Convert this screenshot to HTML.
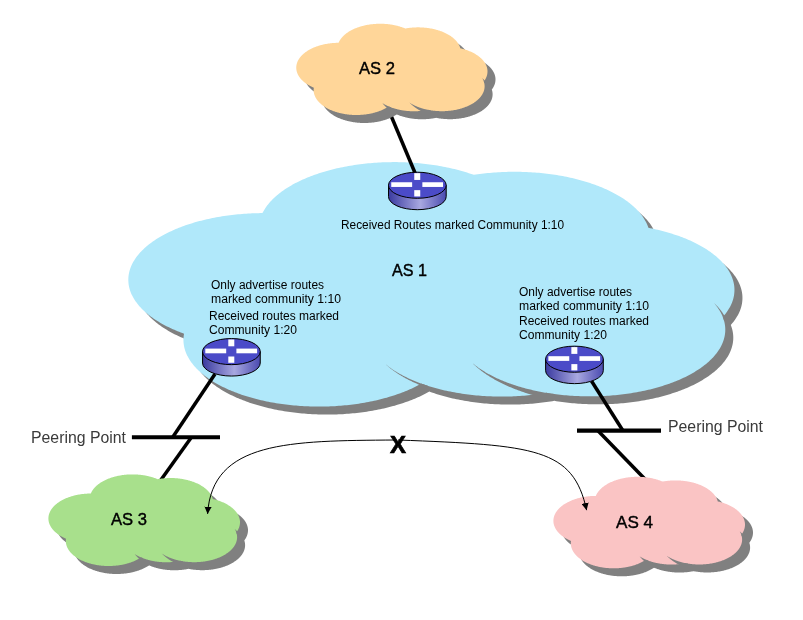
<!DOCTYPE html>
<html><head><meta charset="utf-8"><style>
html,body{margin:0;padding:0;background:#fff;}
svg{display:block;will-change:transform;}
text{font-family:"Liberation Sans",sans-serif;}
</style></head><body>
<svg width="803" height="620" viewBox="0 0 803 620">
<rect width="803" height="620" fill="#fff"/>
<defs>
<linearGradient id="rg" x1="0" x2="1" y1="0" y2="0">
<stop offset="0" stop-color="#3A3AA0"/><stop offset="0.55" stop-color="#A8A8E0"/><stop offset="1" stop-color="#4A4AB0"/>
</linearGradient>
<marker id="ah" viewBox="0 0 10 10" refX="10" refY="5" markerWidth="7.2" markerHeight="7.2" orient="auto-start-reverse" markerUnits="userSpaceOnUse">
<path d="M0,0 L10,5 L0,10 Z" fill="#000"/></marker>
</defs>
<path d="M262.47,213.10 L262.97,212.12 L263.50,211.14 L264.06,210.16 L264.65,209.19 L265.27,208.22 L265.92,207.26 L266.60,206.30 L267.31,205.35 L268.05,204.40 L268.82,203.46 L269.62,202.53 L270.44,201.60 L271.30,200.68 L272.18,199.76 L273.09,198.85 L274.03,197.95 L275.00,197.05 L275.99,196.16 L277.01,195.28 L278.06,194.41 L279.14,193.55 L280.24,192.69 L281.37,191.84 L282.52,191.00 L283.70,190.17 L284.91,189.35 L286.14,188.53 L287.40,187.73 L288.68,186.94 L289.99,186.15 L291.32,185.38 L292.67,184.61 L294.05,183.86 L295.45,183.11 L296.87,182.38 L298.32,181.66 L299.78,180.95 L301.27,180.24 L302.78,179.55 L304.32,178.88 L305.87,178.21 L307.44,177.55 L309.04,176.91 L310.65,176.28 L312.28,175.66 L313.93,175.06 L315.60,174.46 L317.29,173.88 L319.00,173.31 L320.72,172.75 L322.46,172.21 L324.22,171.68 L325.99,171.16 L327.78,170.66 L329.59,170.17 L331.40,169.69 L333.24,169.23 L335.09,168.78 L336.95,168.35 L338.82,167.93 L340.71,167.52 L342.61,167.13 L344.52,166.75 L346.44,166.38 L348.38,166.03 L350.32,165.70 L352.28,165.38 L354.24,165.07 L356.22,164.78 L358.20,164.50 L360.19,164.24 L362.19,163.99 L364.20,163.76 L366.21,163.54 L368.23,163.34 L370.26,163.16 L372.29,162.98 L374.32,162.83 L376.36,162.69 L378.41,162.56 L380.46,162.45 L382.51,162.36 L384.57,162.28 L386.62,162.21 L388.68,162.16 L390.74,162.13 L392.80,162.11 L394.86,162.11 L396.92,162.12 L398.98,162.15 L401.04,162.20 L403.10,162.25 L405.15,162.33 L407.21,162.42 L409.26,162.52 L411.30,162.64 L413.35,162.78 L415.38,162.93 L417.42,163.10 L419.44,163.28 L421.47,163.48 L423.48,163.69 L425.49,163.92 L427.49,164.16 L429.49,164.41 L431.47,164.69 L433.45,164.97 L435.42,165.27 L437.37,165.59 L439.32,165.92 L441.26,166.27 L443.19,166.63 L445.10,167.00 L447.01,167.39 L448.90,167.79 L450.78,168.21 L452.64,168.64 L454.50,169.08 L456.33,169.54 L458.16,170.01 L459.97,170.50 L461.76,171.00 L463.54,171.51 L465.30,172.04 L467.05,172.57 L468.78,173.13 L470.49,173.69 L472.18,174.27 L473.86,174.86 L473.86,174.86 L475.83,174.56 L477.80,174.28 L479.79,174.01 L481.78,173.76 L483.78,173.52 L485.79,173.30 L487.80,173.09 L489.82,172.90 L491.85,172.72 L493.88,172.56 L495.92,172.41 L497.96,172.28 L500.00,172.16 L502.05,172.06 L504.10,171.97 L506.15,171.90 L508.21,171.85 L510.26,171.81 L512.32,171.78 L514.38,171.77 L516.44,171.78 L518.49,171.80 L520.55,171.84 L522.61,171.89 L524.66,171.95 L526.71,172.04 L528.76,172.14 L530.80,172.25 L532.85,172.38 L534.88,172.52 L536.91,172.68 L538.94,172.85 L540.96,173.04 L542.98,173.25 L544.99,173.47 L546.99,173.70 L548.99,173.95 L550.97,174.22 L552.95,174.50 L554.92,174.79 L556.88,175.10 L558.83,175.42 L560.77,175.76 L562.70,176.11 L564.62,176.48 L566.53,176.86 L568.42,177.25 L570.30,177.66 L572.17,178.09 L574.03,178.52 L575.87,178.97 L577.70,179.44 L579.51,179.92 L581.31,180.41 L583.10,180.91 L584.86,181.43 L586.62,181.96 L588.35,182.51 L590.07,183.06 L591.77,183.64 L593.45,184.22 L595.12,184.81 L596.76,185.42 L598.39,186.04 L600.00,186.67 L601.59,187.32 L603.15,187.97 L604.70,188.64 L606.23,189.32 L607.74,190.01 L609.22,190.71 L610.68,191.42 L612.12,192.15 L613.54,192.88 L614.93,193.63 L616.31,194.38 L617.65,195.15 L618.98,195.92 L620.28,196.71 L621.56,197.50 L622.81,198.30 L624.03,199.12 L625.24,199.94 L626.41,200.77 L627.56,201.61 L628.69,202.46 L629.78,203.31 L630.85,204.18 L631.90,205.05 L632.92,205.93 L633.91,206.82 L634.87,207.72 L635.80,208.62 L636.71,209.53 L637.59,210.44 L638.44,211.36 L639.26,212.29 L640.05,213.23 L640.82,214.17 L641.55,215.11 L642.26,216.06 L642.93,217.02 L643.58,217.98 L644.20,218.95 L644.78,219.92 L645.34,220.89 L645.87,221.87 L646.36,222.86 L646.83,223.84 L647.26,224.83 L647.67,225.82 L648.04,226.82 L648.39,227.82 L648.39,227.82 L650.30,228.20 L652.21,228.59 L654.10,229.00 L655.98,229.42 L657.85,229.85 L659.70,230.30 L661.54,230.76 L663.36,231.24 L665.17,231.73 L666.96,232.23 L668.74,232.75 L670.50,233.28 L672.25,233.82 L673.97,234.38 L675.69,234.94 L677.38,235.53 L679.05,236.12 L680.71,236.73 L682.35,237.35 L683.96,237.98 L685.56,238.62 L687.14,239.28 L688.70,239.94 L690.23,240.62 L691.75,241.31 L693.24,242.01 L694.71,242.73 L696.16,243.45 L697.59,244.18 L698.99,244.93 L700.37,245.68 L701.73,246.45 L703.06,247.23 L704.37,248.01 L705.66,248.81 L706.92,249.61 L708.15,250.43 L709.36,251.25 L710.55,252.08 L711.71,252.92 L712.84,253.77 L713.94,254.63 L715.02,255.50 L716.07,256.37 L717.10,257.25 L718.09,258.14 L719.06,259.04 L720.01,259.94 L720.92,260.85 L721.80,261.77 L722.66,262.70 L723.49,263.63 L724.29,264.56 L725.06,265.51 L725.80,266.45 L726.51,267.41 L727.19,268.37 L727.84,269.33 L728.46,270.30 L729.06,271.27 L729.62,272.25 L730.15,273.23 L730.65,274.22 L731.12,275.21 L731.56,276.20 L731.97,277.20 L732.35,278.19 L732.69,279.20 L733.01,280.20 L733.29,281.21 L733.55,282.21 L733.77,283.22 L733.96,284.24 L734.12,285.25 L734.25,286.26 L734.35,287.28 L734.41,288.29 L734.44,289.31 L734.45,290.32 L734.42,291.34 L734.36,292.36 L734.27,293.37 L734.14,294.39 L733.99,295.40 L733.80,296.41 L733.58,297.42 L733.34,298.43 L733.06,299.44 L732.75,300.44 L732.40,301.44 L732.03,302.44 L731.63,303.44 L731.19,304.43 L730.73,305.42 L730.23,306.41 L729.70,307.39 L729.15,308.37 L728.56,309.34 L727.94,310.31 L727.30,311.27 L726.62,312.23 L725.91,313.19 L725.18,314.14 L724.41,315.08 L723.62,316.02 L722.79,316.95 L722.79,316.95 L723.17,317.94 L723.51,318.94 L723.83,319.94 L724.11,320.94 L724.37,321.94 L724.59,322.94 L724.78,323.95 L724.94,324.95 L725.07,325.96 L725.17,326.97 L725.24,327.98 L725.28,328.98 L725.28,329.99 L725.26,331.00 L725.20,332.01 L725.11,333.02 L724.99,334.03 L724.85,335.03 L724.67,336.04 L724.45,337.04 L724.21,338.05 L723.94,339.05 L723.64,340.04 L723.30,341.04 L722.94,342.03 L722.54,343.02 L722.11,344.01 L721.66,345.00 L721.17,345.98 L720.66,346.95 L720.11,347.93 L719.53,348.89 L718.93,349.86 L718.29,350.82 L717.63,351.77 L716.93,352.72 L716.21,353.67 L715.46,354.61 L714.67,355.54 L713.86,356.47 L713.03,357.39 L712.16,358.30 L711.26,359.21 L710.34,360.11 L709.39,361.01 L708.41,361.89 L707.41,362.77 L706.38,363.65 L705.32,364.51 L704.23,365.37 L703.12,366.22 L701.99,367.06 L700.82,367.89 L699.63,368.71 L698.42,369.52 L697.18,370.33 L695.92,371.12 L694.63,371.91 L693.32,372.69 L691.99,373.45 L690.63,374.21 L689.25,374.95 L687.84,375.69 L686.41,376.42 L684.97,377.13 L683.50,377.83 L682.00,378.53 L680.49,379.21 L678.96,379.88 L677.40,380.54 L675.83,381.18 L674.23,381.82 L672.62,382.44 L670.98,383.05 L669.33,383.65 L667.66,384.24 L665.98,384.81 L664.27,385.37 L662.55,385.92 L660.81,386.46 L659.06,386.98 L657.29,387.49 L655.50,387.98 L653.70,388.47 L651.88,388.94 L650.05,389.39 L648.21,389.83 L646.35,390.26 L644.48,390.68 L642.60,391.08 L640.70,391.46 L638.79,391.84 L636.88,392.19 L634.95,392.54 L633.01,392.87 L631.06,393.18 L629.10,393.48 L627.13,393.77 L625.16,394.04 L623.17,394.29 L621.18,394.54 L619.18,394.76 L617.18,394.97 L615.17,395.17 L613.15,395.35 L611.12,395.52 L609.10,395.67 L607.06,395.81 L605.03,395.93 L602.99,396.03 L600.95,396.12 L598.90,396.20 L596.85,396.26 L594.80,396.30 L592.75,396.33 L590.70,396.35 L588.65,396.35 L586.60,396.33 L584.55,396.30 L582.50,396.25 L580.45,396.19 L578.41,396.11 L576.36,396.02 L574.32,395.92 L572.29,395.79 L570.26,395.65 L568.23,395.50 L566.21,395.33 L564.19,395.15 L562.18,394.95 L560.17,394.74 L558.17,394.51 L556.18,394.27 L554.20,394.01 L552.23,393.74 L550.26,393.45 L548.30,393.15 L546.35,392.83 L546.35,392.83 L544.38,393.16 L542.39,393.48 L540.39,393.78 L538.39,394.07 L536.38,394.34 L534.35,394.59 L532.32,394.84 L530.29,395.06 L528.24,395.27 L526.19,395.46 L524.14,395.64 L522.07,395.80 L520.01,395.95 L517.94,396.08 L515.86,396.20 L513.79,396.30 L511.70,396.38 L509.62,396.45 L507.54,396.50 L505.45,396.54 L503.36,396.56 L501.27,396.56 L499.19,396.55 L497.10,396.53 L495.01,396.48 L492.93,396.43 L490.85,396.35 L488.77,396.26 L486.69,396.16 L484.62,396.04 L482.55,395.90 L480.48,395.75 L478.42,395.58 L476.37,395.39 L474.32,395.19 L472.28,394.98 L470.25,394.75 L468.22,394.50 L466.20,394.24 L464.19,393.97 L462.19,393.67 L460.19,393.37 L458.21,393.05 L456.24,392.71 L454.28,392.36 L452.33,391.99 L450.39,391.61 L448.46,391.21 L446.55,390.80 L444.65,390.38 L442.76,389.94 L440.89,389.48 L439.03,389.02 L437.19,388.53 L435.36,388.04 L433.54,387.53 L431.75,387.01 L429.97,386.47 L428.20,385.92 L426.46,385.36 L424.73,384.78 L423.02,384.19 L421.33,383.59 L421.33,383.59 L419.98,384.34 L418.60,385.09 L417.21,385.82 L415.79,386.55 L414.34,387.26 L412.88,387.96 L411.40,388.66 L409.89,389.34 L408.36,390.01 L406.82,390.67 L405.25,391.31 L403.66,391.95 L402.06,392.57 L400.43,393.18 L398.79,393.78 L397.12,394.37 L395.44,394.94 L393.75,395.51 L392.03,396.05 L390.30,396.59 L388.56,397.11 L386.79,397.63 L385.01,398.12 L383.22,398.61 L381.41,399.08 L379.59,399.53 L377.75,399.98 L375.90,400.41 L374.04,400.82 L372.17,401.23 L370.28,401.62 L368.38,401.99 L366.47,402.35 L364.55,402.70 L362.62,403.03 L360.68,403.34 L358.72,403.65 L356.76,403.94 L354.80,404.21 L352.82,404.47 L350.83,404.71 L348.84,404.94 L346.84,405.16 L344.84,405.36 L342.83,405.54 L340.81,405.71 L338.79,405.87 L336.77,406.01 L334.74,406.13 L332.70,406.24 L330.67,406.33 L328.63,406.41 L326.58,406.48 L324.54,406.53 L322.50,406.56 L320.45,406.58 L318.41,406.58 L316.36,406.57 L314.32,406.55 L312.27,406.50 L310.23,406.45 L308.19,406.37 L306.15,406.29 L304.12,406.18 L302.08,406.07 L300.06,405.93 L298.03,405.79 L296.01,405.62 L294.00,405.44 L291.99,405.25 L289.99,405.04 L288.00,404.82 L286.01,404.58 L284.03,404.33 L282.06,404.07 L280.09,403.78 L278.14,403.49 L276.19,403.18 L274.25,402.85 L272.33,402.51 L270.41,402.16 L268.51,401.79 L266.62,401.41 L264.73,401.02 L262.87,400.61 L261.01,400.18 L259.17,399.74 L257.34,399.29 L255.52,398.83 L253.72,398.35 L251.94,397.86 L250.17,397.36 L248.41,396.84 L246.67,396.31 L244.95,395.76 L243.25,395.21 L241.56,394.64 L239.89,394.06 L238.24,393.47 L236.60,392.86 L234.99,392.24 L233.39,391.61 L231.81,390.97 L230.26,390.32 L228.72,389.65 L227.21,388.98 L225.71,388.29 L224.24,387.59 L222.79,386.88 L221.35,386.16 L219.95,385.43 L218.56,384.69 L217.20,383.94 L215.86,383.18 L214.54,382.41 L213.25,381.63 L211.98,380.84 L210.74,380.04 L209.52,379.23 L208.33,378.42 L207.16,377.59 L206.02,376.76 L204.90,375.91 L203.81,375.06 L202.74,374.20 L201.70,373.33 L200.69,372.46 L199.70,371.58 L198.75,370.69 L197.82,369.79 L196.91,368.89 L196.04,367.98 L195.19,367.06 L194.37,366.14 L193.58,365.21 L192.82,364.28 L192.09,363.34 L191.38,362.39 L190.71,361.44 L190.06,360.49 L189.44,359.53 L188.86,358.56 L188.30,357.60 L187.77,356.62 L187.27,355.65 L186.81,354.67 L186.37,353.68 L185.96,352.70 L185.58,351.71 L185.24,350.72 L184.92,349.72 L184.63,348.72 L184.38,347.73 L184.16,346.73 L183.96,345.72 L183.80,344.72 L183.67,343.72 L183.56,342.71 L183.49,341.70 L183.45,340.70 L183.45,339.69 L183.47,338.69 L183.52,337.68 L183.61,336.67 L183.72,335.67 L183.87,334.66 L184.04,333.66 L184.04,333.66 L182.39,333.06 L180.76,332.45 L179.14,331.82 L177.55,331.18 L175.98,330.53 L174.42,329.87 L172.89,329.20 L171.37,328.51 L169.88,327.82 L168.41,327.11 L166.97,326.40 L165.54,325.67 L164.14,324.93 L162.76,324.18 L161.40,323.42 L160.07,322.65 L158.76,321.87 L157.47,321.08 L156.21,320.29 L154.98,319.48 L153.76,318.66 L152.58,317.84 L151.42,317.00 L150.28,316.16 L149.18,315.31 L148.09,314.45 L147.04,313.58 L146.01,312.70 L145.01,311.82 L144.03,310.93 L143.09,310.03 L142.17,309.13 L141.28,308.22 L140.42,307.30 L139.58,306.38 L138.78,305.45 L138.00,304.51 L137.25,303.57 L136.53,302.62 L135.84,301.67 L135.18,300.71 L134.55,299.75 L133.95,298.78 L133.38,297.81 L132.84,296.84 L132.33,295.86 L131.85,294.88 L131.40,293.89 L130.98,292.90 L130.59,291.91 L130.23,290.91 L129.90,289.91 L129.61,288.91 L129.34,287.91 L129.10,286.91 L128.90,285.90 L128.73,284.89 L128.58,283.88 L128.47,282.87 L128.39,281.86 L128.34,280.85 L128.33,279.84 L128.34,278.83 L128.38,277.82 L128.46,276.81 L128.57,275.80 L128.70,274.79 L128.87,273.78 L129.07,272.78 L129.30,271.77 L129.57,270.77 L129.86,269.77 L130.18,268.77 L130.54,267.78 L130.92,266.78 L131.34,265.79 L131.78,264.81 L132.26,263.82 L132.77,262.84 L133.30,261.87 L133.87,260.90 L134.47,259.93 L135.09,258.97 L135.75,258.01 L136.43,257.05 L137.15,256.11 L137.89,255.16 L138.67,254.23 L139.47,253.30 L140.30,252.37 L141.16,251.45 L142.04,250.54 L142.96,249.64 L143.90,248.74 L144.87,247.85 L145.87,246.96 L146.89,246.09 L147.94,245.22 L149.02,244.36 L150.13,243.50 L151.26,242.66 L152.41,241.82 L153.60,241.00 L154.80,240.18 L156.04,239.37 L157.29,238.57 L158.57,237.78 L159.88,237.00 L161.21,236.23 L162.56,235.47 L163.94,234.72 L165.34,233.98 L166.76,233.25 L168.21,232.53 L169.68,231.82 L171.16,231.13 L172.67,230.44 L174.20,229.77 L175.76,229.10 L177.33,228.45 L178.92,227.81 L180.53,227.18 L182.16,226.57 L183.81,225.97 L185.48,225.37 L187.16,224.80 L188.86,224.23 L190.58,223.68 L192.32,223.14 L194.07,222.61 L195.84,222.10 L197.63,221.60 L199.43,221.11 L201.24,220.64 L203.07,220.18 L204.92,219.73 L206.77,219.30 L208.64,218.88 L210.53,218.47 L212.42,218.08 L214.33,217.71 L216.25,217.34 L218.18,217.00 L220.12,216.66 L222.07,216.34 L224.03,216.04 L225.99,215.75 L227.97,215.47 L229.96,215.21 L231.95,214.97 L233.95,214.74 L235.96,214.52 L237.97,214.32 L239.99,214.14 L242.02,213.97 L244.05,213.81 L246.08,213.67 L248.12,213.55 L250.16,213.44 L252.21,213.34 L254.26,213.26 L256.31,213.20 L258.36,213.15 L260.41,213.12 L262.47,213.10 Z" fill="#808080" transform="translate(8,8)"/>
<path d="M262.47,213.10 L262.97,212.12 L263.50,211.14 L264.06,210.16 L264.65,209.19 L265.27,208.22 L265.92,207.26 L266.60,206.30 L267.31,205.35 L268.05,204.40 L268.82,203.46 L269.62,202.53 L270.44,201.60 L271.30,200.68 L272.18,199.76 L273.09,198.85 L274.03,197.95 L275.00,197.05 L275.99,196.16 L277.01,195.28 L278.06,194.41 L279.14,193.55 L280.24,192.69 L281.37,191.84 L282.52,191.00 L283.70,190.17 L284.91,189.35 L286.14,188.53 L287.40,187.73 L288.68,186.94 L289.99,186.15 L291.32,185.38 L292.67,184.61 L294.05,183.86 L295.45,183.11 L296.87,182.38 L298.32,181.66 L299.78,180.95 L301.27,180.24 L302.78,179.55 L304.32,178.88 L305.87,178.21 L307.44,177.55 L309.04,176.91 L310.65,176.28 L312.28,175.66 L313.93,175.06 L315.60,174.46 L317.29,173.88 L319.00,173.31 L320.72,172.75 L322.46,172.21 L324.22,171.68 L325.99,171.16 L327.78,170.66 L329.59,170.17 L331.40,169.69 L333.24,169.23 L335.09,168.78 L336.95,168.35 L338.82,167.93 L340.71,167.52 L342.61,167.13 L344.52,166.75 L346.44,166.38 L348.38,166.03 L350.32,165.70 L352.28,165.38 L354.24,165.07 L356.22,164.78 L358.20,164.50 L360.19,164.24 L362.19,163.99 L364.20,163.76 L366.21,163.54 L368.23,163.34 L370.26,163.16 L372.29,162.98 L374.32,162.83 L376.36,162.69 L378.41,162.56 L380.46,162.45 L382.51,162.36 L384.57,162.28 L386.62,162.21 L388.68,162.16 L390.74,162.13 L392.80,162.11 L394.86,162.11 L396.92,162.12 L398.98,162.15 L401.04,162.20 L403.10,162.25 L405.15,162.33 L407.21,162.42 L409.26,162.52 L411.30,162.64 L413.35,162.78 L415.38,162.93 L417.42,163.10 L419.44,163.28 L421.47,163.48 L423.48,163.69 L425.49,163.92 L427.49,164.16 L429.49,164.41 L431.47,164.69 L433.45,164.97 L435.42,165.27 L437.37,165.59 L439.32,165.92 L441.26,166.27 L443.19,166.63 L445.10,167.00 L447.01,167.39 L448.90,167.79 L450.78,168.21 L452.64,168.64 L454.50,169.08 L456.33,169.54 L458.16,170.01 L459.97,170.50 L461.76,171.00 L463.54,171.51 L465.30,172.04 L467.05,172.57 L468.78,173.13 L470.49,173.69 L472.18,174.27 L473.86,174.86 L473.86,174.86 L475.83,174.56 L477.80,174.28 L479.79,174.01 L481.78,173.76 L483.78,173.52 L485.79,173.30 L487.80,173.09 L489.82,172.90 L491.85,172.72 L493.88,172.56 L495.92,172.41 L497.96,172.28 L500.00,172.16 L502.05,172.06 L504.10,171.97 L506.15,171.90 L508.21,171.85 L510.26,171.81 L512.32,171.78 L514.38,171.77 L516.44,171.78 L518.49,171.80 L520.55,171.84 L522.61,171.89 L524.66,171.95 L526.71,172.04 L528.76,172.14 L530.80,172.25 L532.85,172.38 L534.88,172.52 L536.91,172.68 L538.94,172.85 L540.96,173.04 L542.98,173.25 L544.99,173.47 L546.99,173.70 L548.99,173.95 L550.97,174.22 L552.95,174.50 L554.92,174.79 L556.88,175.10 L558.83,175.42 L560.77,175.76 L562.70,176.11 L564.62,176.48 L566.53,176.86 L568.42,177.25 L570.30,177.66 L572.17,178.09 L574.03,178.52 L575.87,178.97 L577.70,179.44 L579.51,179.92 L581.31,180.41 L583.10,180.91 L584.86,181.43 L586.62,181.96 L588.35,182.51 L590.07,183.06 L591.77,183.64 L593.45,184.22 L595.12,184.81 L596.76,185.42 L598.39,186.04 L600.00,186.67 L601.59,187.32 L603.15,187.97 L604.70,188.64 L606.23,189.32 L607.74,190.01 L609.22,190.71 L610.68,191.42 L612.12,192.15 L613.54,192.88 L614.93,193.63 L616.31,194.38 L617.65,195.15 L618.98,195.92 L620.28,196.71 L621.56,197.50 L622.81,198.30 L624.03,199.12 L625.24,199.94 L626.41,200.77 L627.56,201.61 L628.69,202.46 L629.78,203.31 L630.85,204.18 L631.90,205.05 L632.92,205.93 L633.91,206.82 L634.87,207.72 L635.80,208.62 L636.71,209.53 L637.59,210.44 L638.44,211.36 L639.26,212.29 L640.05,213.23 L640.82,214.17 L641.55,215.11 L642.26,216.06 L642.93,217.02 L643.58,217.98 L644.20,218.95 L644.78,219.92 L645.34,220.89 L645.87,221.87 L646.36,222.86 L646.83,223.84 L647.26,224.83 L647.67,225.82 L648.04,226.82 L648.39,227.82 L648.39,227.82 L650.30,228.20 L652.21,228.59 L654.10,229.00 L655.98,229.42 L657.85,229.85 L659.70,230.30 L661.54,230.76 L663.36,231.24 L665.17,231.73 L666.96,232.23 L668.74,232.75 L670.50,233.28 L672.25,233.82 L673.97,234.38 L675.69,234.94 L677.38,235.53 L679.05,236.12 L680.71,236.73 L682.35,237.35 L683.96,237.98 L685.56,238.62 L687.14,239.28 L688.70,239.94 L690.23,240.62 L691.75,241.31 L693.24,242.01 L694.71,242.73 L696.16,243.45 L697.59,244.18 L698.99,244.93 L700.37,245.68 L701.73,246.45 L703.06,247.23 L704.37,248.01 L705.66,248.81 L706.92,249.61 L708.15,250.43 L709.36,251.25 L710.55,252.08 L711.71,252.92 L712.84,253.77 L713.94,254.63 L715.02,255.50 L716.07,256.37 L717.10,257.25 L718.09,258.14 L719.06,259.04 L720.01,259.94 L720.92,260.85 L721.80,261.77 L722.66,262.70 L723.49,263.63 L724.29,264.56 L725.06,265.51 L725.80,266.45 L726.51,267.41 L727.19,268.37 L727.84,269.33 L728.46,270.30 L729.06,271.27 L729.62,272.25 L730.15,273.23 L730.65,274.22 L731.12,275.21 L731.56,276.20 L731.97,277.20 L732.35,278.19 L732.69,279.20 L733.01,280.20 L733.29,281.21 L733.55,282.21 L733.77,283.22 L733.96,284.24 L734.12,285.25 L734.25,286.26 L734.35,287.28 L734.41,288.29 L734.44,289.31 L734.45,290.32 L734.42,291.34 L734.36,292.36 L734.27,293.37 L734.14,294.39 L733.99,295.40 L733.80,296.41 L733.58,297.42 L733.34,298.43 L733.06,299.44 L732.75,300.44 L732.40,301.44 L732.03,302.44 L731.63,303.44 L731.19,304.43 L730.73,305.42 L730.23,306.41 L729.70,307.39 L729.15,308.37 L728.56,309.34 L727.94,310.31 L727.30,311.27 L726.62,312.23 L725.91,313.19 L725.18,314.14 L724.41,315.08 L723.62,316.02 L722.79,316.95 L722.79,316.95 L723.17,317.94 L723.51,318.94 L723.83,319.94 L724.11,320.94 L724.37,321.94 L724.59,322.94 L724.78,323.95 L724.94,324.95 L725.07,325.96 L725.17,326.97 L725.24,327.98 L725.28,328.98 L725.28,329.99 L725.26,331.00 L725.20,332.01 L725.11,333.02 L724.99,334.03 L724.85,335.03 L724.67,336.04 L724.45,337.04 L724.21,338.05 L723.94,339.05 L723.64,340.04 L723.30,341.04 L722.94,342.03 L722.54,343.02 L722.11,344.01 L721.66,345.00 L721.17,345.98 L720.66,346.95 L720.11,347.93 L719.53,348.89 L718.93,349.86 L718.29,350.82 L717.63,351.77 L716.93,352.72 L716.21,353.67 L715.46,354.61 L714.67,355.54 L713.86,356.47 L713.03,357.39 L712.16,358.30 L711.26,359.21 L710.34,360.11 L709.39,361.01 L708.41,361.89 L707.41,362.77 L706.38,363.65 L705.32,364.51 L704.23,365.37 L703.12,366.22 L701.99,367.06 L700.82,367.89 L699.63,368.71 L698.42,369.52 L697.18,370.33 L695.92,371.12 L694.63,371.91 L693.32,372.69 L691.99,373.45 L690.63,374.21 L689.25,374.95 L687.84,375.69 L686.41,376.42 L684.97,377.13 L683.50,377.83 L682.00,378.53 L680.49,379.21 L678.96,379.88 L677.40,380.54 L675.83,381.18 L674.23,381.82 L672.62,382.44 L670.98,383.05 L669.33,383.65 L667.66,384.24 L665.98,384.81 L664.27,385.37 L662.55,385.92 L660.81,386.46 L659.06,386.98 L657.29,387.49 L655.50,387.98 L653.70,388.47 L651.88,388.94 L650.05,389.39 L648.21,389.83 L646.35,390.26 L644.48,390.68 L642.60,391.08 L640.70,391.46 L638.79,391.84 L636.88,392.19 L634.95,392.54 L633.01,392.87 L631.06,393.18 L629.10,393.48 L627.13,393.77 L625.16,394.04 L623.17,394.29 L621.18,394.54 L619.18,394.76 L617.18,394.97 L615.17,395.17 L613.15,395.35 L611.12,395.52 L609.10,395.67 L607.06,395.81 L605.03,395.93 L602.99,396.03 L600.95,396.12 L598.90,396.20 L596.85,396.26 L594.80,396.30 L592.75,396.33 L590.70,396.35 L588.65,396.35 L586.60,396.33 L584.55,396.30 L582.50,396.25 L580.45,396.19 L578.41,396.11 L576.36,396.02 L574.32,395.92 L572.29,395.79 L570.26,395.65 L568.23,395.50 L566.21,395.33 L564.19,395.15 L562.18,394.95 L560.17,394.74 L558.17,394.51 L556.18,394.27 L554.20,394.01 L552.23,393.74 L550.26,393.45 L548.30,393.15 L546.35,392.83 L546.35,392.83 L544.38,393.16 L542.39,393.48 L540.39,393.78 L538.39,394.07 L536.38,394.34 L534.35,394.59 L532.32,394.84 L530.29,395.06 L528.24,395.27 L526.19,395.46 L524.14,395.64 L522.07,395.80 L520.01,395.95 L517.94,396.08 L515.86,396.20 L513.79,396.30 L511.70,396.38 L509.62,396.45 L507.54,396.50 L505.45,396.54 L503.36,396.56 L501.27,396.56 L499.19,396.55 L497.10,396.53 L495.01,396.48 L492.93,396.43 L490.85,396.35 L488.77,396.26 L486.69,396.16 L484.62,396.04 L482.55,395.90 L480.48,395.75 L478.42,395.58 L476.37,395.39 L474.32,395.19 L472.28,394.98 L470.25,394.75 L468.22,394.50 L466.20,394.24 L464.19,393.97 L462.19,393.67 L460.19,393.37 L458.21,393.05 L456.24,392.71 L454.28,392.36 L452.33,391.99 L450.39,391.61 L448.46,391.21 L446.55,390.80 L444.65,390.38 L442.76,389.94 L440.89,389.48 L439.03,389.02 L437.19,388.53 L435.36,388.04 L433.54,387.53 L431.75,387.01 L429.97,386.47 L428.20,385.92 L426.46,385.36 L424.73,384.78 L423.02,384.19 L421.33,383.59 L421.33,383.59 L419.98,384.34 L418.60,385.09 L417.21,385.82 L415.79,386.55 L414.34,387.26 L412.88,387.96 L411.40,388.66 L409.89,389.34 L408.36,390.01 L406.82,390.67 L405.25,391.31 L403.66,391.95 L402.06,392.57 L400.43,393.18 L398.79,393.78 L397.12,394.37 L395.44,394.94 L393.75,395.51 L392.03,396.05 L390.30,396.59 L388.56,397.11 L386.79,397.63 L385.01,398.12 L383.22,398.61 L381.41,399.08 L379.59,399.53 L377.75,399.98 L375.90,400.41 L374.04,400.82 L372.17,401.23 L370.28,401.62 L368.38,401.99 L366.47,402.35 L364.55,402.70 L362.62,403.03 L360.68,403.34 L358.72,403.65 L356.76,403.94 L354.80,404.21 L352.82,404.47 L350.83,404.71 L348.84,404.94 L346.84,405.16 L344.84,405.36 L342.83,405.54 L340.81,405.71 L338.79,405.87 L336.77,406.01 L334.74,406.13 L332.70,406.24 L330.67,406.33 L328.63,406.41 L326.58,406.48 L324.54,406.53 L322.50,406.56 L320.45,406.58 L318.41,406.58 L316.36,406.57 L314.32,406.55 L312.27,406.50 L310.23,406.45 L308.19,406.37 L306.15,406.29 L304.12,406.18 L302.08,406.07 L300.06,405.93 L298.03,405.79 L296.01,405.62 L294.00,405.44 L291.99,405.25 L289.99,405.04 L288.00,404.82 L286.01,404.58 L284.03,404.33 L282.06,404.07 L280.09,403.78 L278.14,403.49 L276.19,403.18 L274.25,402.85 L272.33,402.51 L270.41,402.16 L268.51,401.79 L266.62,401.41 L264.73,401.02 L262.87,400.61 L261.01,400.18 L259.17,399.74 L257.34,399.29 L255.52,398.83 L253.72,398.35 L251.94,397.86 L250.17,397.36 L248.41,396.84 L246.67,396.31 L244.95,395.76 L243.25,395.21 L241.56,394.64 L239.89,394.06 L238.24,393.47 L236.60,392.86 L234.99,392.24 L233.39,391.61 L231.81,390.97 L230.26,390.32 L228.72,389.65 L227.21,388.98 L225.71,388.29 L224.24,387.59 L222.79,386.88 L221.35,386.16 L219.95,385.43 L218.56,384.69 L217.20,383.94 L215.86,383.18 L214.54,382.41 L213.25,381.63 L211.98,380.84 L210.74,380.04 L209.52,379.23 L208.33,378.42 L207.16,377.59 L206.02,376.76 L204.90,375.91 L203.81,375.06 L202.74,374.20 L201.70,373.33 L200.69,372.46 L199.70,371.58 L198.75,370.69 L197.82,369.79 L196.91,368.89 L196.04,367.98 L195.19,367.06 L194.37,366.14 L193.58,365.21 L192.82,364.28 L192.09,363.34 L191.38,362.39 L190.71,361.44 L190.06,360.49 L189.44,359.53 L188.86,358.56 L188.30,357.60 L187.77,356.62 L187.27,355.65 L186.81,354.67 L186.37,353.68 L185.96,352.70 L185.58,351.71 L185.24,350.72 L184.92,349.72 L184.63,348.72 L184.38,347.73 L184.16,346.73 L183.96,345.72 L183.80,344.72 L183.67,343.72 L183.56,342.71 L183.49,341.70 L183.45,340.70 L183.45,339.69 L183.47,338.69 L183.52,337.68 L183.61,336.67 L183.72,335.67 L183.87,334.66 L184.04,333.66 L184.04,333.66 L182.39,333.06 L180.76,332.45 L179.14,331.82 L177.55,331.18 L175.98,330.53 L174.42,329.87 L172.89,329.20 L171.37,328.51 L169.88,327.82 L168.41,327.11 L166.97,326.40 L165.54,325.67 L164.14,324.93 L162.76,324.18 L161.40,323.42 L160.07,322.65 L158.76,321.87 L157.47,321.08 L156.21,320.29 L154.98,319.48 L153.76,318.66 L152.58,317.84 L151.42,317.00 L150.28,316.16 L149.18,315.31 L148.09,314.45 L147.04,313.58 L146.01,312.70 L145.01,311.82 L144.03,310.93 L143.09,310.03 L142.17,309.13 L141.28,308.22 L140.42,307.30 L139.58,306.38 L138.78,305.45 L138.00,304.51 L137.25,303.57 L136.53,302.62 L135.84,301.67 L135.18,300.71 L134.55,299.75 L133.95,298.78 L133.38,297.81 L132.84,296.84 L132.33,295.86 L131.85,294.88 L131.40,293.89 L130.98,292.90 L130.59,291.91 L130.23,290.91 L129.90,289.91 L129.61,288.91 L129.34,287.91 L129.10,286.91 L128.90,285.90 L128.73,284.89 L128.58,283.88 L128.47,282.87 L128.39,281.86 L128.34,280.85 L128.33,279.84 L128.34,278.83 L128.38,277.82 L128.46,276.81 L128.57,275.80 L128.70,274.79 L128.87,273.78 L129.07,272.78 L129.30,271.77 L129.57,270.77 L129.86,269.77 L130.18,268.77 L130.54,267.78 L130.92,266.78 L131.34,265.79 L131.78,264.81 L132.26,263.82 L132.77,262.84 L133.30,261.87 L133.87,260.90 L134.47,259.93 L135.09,258.97 L135.75,258.01 L136.43,257.05 L137.15,256.11 L137.89,255.16 L138.67,254.23 L139.47,253.30 L140.30,252.37 L141.16,251.45 L142.04,250.54 L142.96,249.64 L143.90,248.74 L144.87,247.85 L145.87,246.96 L146.89,246.09 L147.94,245.22 L149.02,244.36 L150.13,243.50 L151.26,242.66 L152.41,241.82 L153.60,241.00 L154.80,240.18 L156.04,239.37 L157.29,238.57 L158.57,237.78 L159.88,237.00 L161.21,236.23 L162.56,235.47 L163.94,234.72 L165.34,233.98 L166.76,233.25 L168.21,232.53 L169.68,231.82 L171.16,231.13 L172.67,230.44 L174.20,229.77 L175.76,229.10 L177.33,228.45 L178.92,227.81 L180.53,227.18 L182.16,226.57 L183.81,225.97 L185.48,225.37 L187.16,224.80 L188.86,224.23 L190.58,223.68 L192.32,223.14 L194.07,222.61 L195.84,222.10 L197.63,221.60 L199.43,221.11 L201.24,220.64 L203.07,220.18 L204.92,219.73 L206.77,219.30 L208.64,218.88 L210.53,218.47 L212.42,218.08 L214.33,217.71 L216.25,217.34 L218.18,217.00 L220.12,216.66 L222.07,216.34 L224.03,216.04 L225.99,215.75 L227.97,215.47 L229.96,215.21 L231.95,214.97 L233.95,214.74 L235.96,214.52 L237.97,214.32 L239.99,214.14 L242.02,213.97 L244.05,213.81 L246.08,213.67 L248.12,213.55 L250.16,213.44 L252.21,213.34 L254.26,213.26 L256.31,213.20 L258.36,213.15 L260.41,213.12 L262.47,213.10 Z" fill="#B0E8FA"/>
<path d="M428.02,385.86 L427.35,385.65 L426.69,385.43 L426.03,385.22 L425.38,385.00 L424.73,384.78 L424.08,384.56 L423.43,384.33 L422.78,384.11 L422.14,383.88 L421.50,383.65 L420.86,383.42 L420.23,383.18 L419.60,382.95 L418.97,382.71 L418.34,382.47 L417.72,382.23 L417.10,381.99 L416.48,381.75 L415.87,381.50 L415.25,381.25 L414.65,381.00 L414.04,380.75 L413.44,380.50 L412.84,380.24 L412.24,379.99 L411.65,379.73 L411.06,379.47 L410.47,379.21 L409.89,378.95 L409.30,378.68 L408.73,378.42 L408.15,378.15 L407.58,377.88 L407.01,377.61 L406.45,377.33 L405.89,377.06 L405.33,376.78 L404.77,376.50 L404.22,376.22 L403.67,375.94 L403.13,375.66 L402.58,375.38 L402.04,375.09 L401.51,374.80 L400.98,374.52 L400.45,374.23 L399.92,373.93 L399.40,373.64 L398.89,373.35 L398.37,373.05 L397.86,372.75 L397.35,372.45 L396.85,372.15 L396.35,371.85 L395.85,371.55 L395.36,371.24 L394.87,370.93 L394.38,370.63 L393.90,370.32 L393.42,370.01 L392.95,369.69 L392.48,369.38 L392.01,369.07 L391.55,368.75 L391.09,368.43 L390.63,368.11 L390.18,367.79 L389.73,367.47 L389.29,367.15 L388.85,366.83 L388.41,366.50 L387.98,366.18 L387.55,365.85 L387.12,365.52 L386.70,365.19 L386.28,364.86 L385.87,364.53 L385.46,364.19 L385.06,363.86 L385.06,363.86 L385.44,364.21 L385.84,364.57 L386.23,364.92 L386.63,365.28 L387.04,365.63 L387.45,365.98 L387.86,366.33 L388.28,366.68 L388.70,367.03 L389.12,367.38 L389.55,367.72 L389.99,368.07 L390.42,368.41 L390.87,368.75 L391.31,369.10 L391.76,369.44 L392.21,369.77 L392.67,370.11 L393.13,370.45 L393.60,370.79 L394.07,371.12 L394.54,371.45 L395.02,371.78 L395.50,372.11 L395.99,372.44 L396.48,372.77 L396.97,373.10 L397.47,373.42 L397.97,373.75 L398.47,374.07 L398.98,374.39 L399.49,374.71 L400.00,375.03 L400.52,375.35 L401.05,375.66 L401.57,375.98 L402.10,376.29 L402.64,376.60 L403.17,376.91 L403.71,377.22 L404.26,377.52 L404.81,377.83 L405.36,378.13 L405.91,378.43 L406.47,378.74 L407.03,379.03 L407.60,379.33 L408.16,379.63 L408.74,379.92 L409.31,380.21 L409.89,380.51 L410.47,380.79 L411.06,381.08 L411.65,381.37 L412.24,381.65 L412.83,381.94 L413.43,382.22 L414.03,382.50 L414.63,382.77 L415.24,383.05 L415.85,383.32 L416.47,383.60 L417.08,383.87 L417.70,384.14 L418.33,384.40 L418.95,384.67 L419.58,384.93 L420.21,385.20 L420.85,385.46 L421.48,385.71 L422.13,385.97 L422.77,386.23 L423.41,386.48 L424.06,386.73 L424.72,386.98 L425.37,387.23 L426.03,387.47 L426.69,387.71 L427.35,387.96 Z" fill="#808080"/>
<path d="M554.13,394.00 L552.83,393.82 L551.54,393.64 L550.26,393.45 L548.98,393.26 L547.70,393.05 L546.42,392.85 L545.15,392.63 L543.89,392.41 L542.63,392.18 L541.37,391.95 L540.12,391.71 L538.87,391.47 L537.63,391.21 L536.40,390.96 L535.16,390.69 L533.94,390.43 L532.72,390.15 L531.50,389.87 L530.29,389.58 L529.09,389.29 L527.89,388.99 L526.70,388.69 L525.52,388.38 L524.34,388.06 L523.17,387.74 L522.00,387.41 L520.84,387.08 L519.69,386.74 L518.54,386.39 L517.40,386.04 L516.27,385.69 L515.15,385.33 L514.03,384.96 L512.92,384.59 L511.82,384.21 L510.73,383.83 L509.64,383.44 L508.56,383.05 L507.49,382.65 L506.43,382.24 L505.37,381.83 L504.33,381.42 L503.29,381.00 L502.26,380.58 L501.24,380.15 L500.23,379.71 L499.23,379.28 L498.23,378.83 L497.25,378.38 L496.27,377.93 L495.30,377.47 L494.34,377.01 L493.40,376.54 L492.46,376.07 L491.53,375.59 L490.61,375.11 L489.70,374.62 L488.80,374.13 L487.91,373.64 L487.03,373.14 L486.16,372.64 L485.30,372.13 L484.45,371.62 L483.61,371.10 L482.78,370.58 L481.96,370.06 L481.15,369.53 L480.36,369.00 L479.57,368.47 L478.79,367.93 L478.03,367.38 L477.28,366.84 L476.53,366.29 L475.80,365.73 L475.08,365.18 L474.37,364.61 L473.67,364.05 L472.99,363.48 L472.31,362.91 L472.31,362.91 L472.94,363.54 L473.58,364.17 L474.23,364.79 L474.89,365.41 L475.57,366.03 L476.26,366.65 L476.96,367.27 L477.68,367.88 L478.40,368.49 L479.14,369.09 L479.89,369.69 L480.65,370.29 L481.43,370.89 L482.21,371.48 L483.01,372.07 L483.82,372.66 L484.64,373.24 L485.47,373.82 L486.31,374.39 L487.16,374.96 L488.03,375.53 L488.91,376.10 L489.79,376.65 L490.69,377.21 L491.60,377.76 L492.52,378.31 L493.45,378.85 L494.38,379.39 L495.33,379.92 L496.29,380.45 L497.26,380.98 L498.24,381.50 L499.23,382.01 L500.23,382.52 L501.24,383.03 L502.26,383.53 L503.28,384.03 L504.32,384.52 L505.37,385.01 L506.42,385.49 L507.48,385.97 L508.56,386.44 L509.64,386.91 L510.73,387.37 L511.83,387.82 L512.93,388.28 L514.05,388.72 L515.17,389.16 L516.30,389.60 L517.44,390.03 L518.58,390.45 L519.74,390.87 L520.90,391.28 L522.07,391.69 L523.24,392.09 L524.43,392.49 L525.62,392.88 L526.81,393.26 L528.02,393.64 L529.23,394.01 L530.45,394.38 L531.67,394.74 L532.90,395.10 L534.13,395.44 L535.38,395.79 L536.62,396.13 L537.88,396.46 L539.14,396.78 L540.40,397.10 L541.67,397.41 L542.95,397.72 L544.23,398.02 L545.52,398.31 L546.81,398.60 L548.10,398.88 L549.40,399.16 L550.71,399.43 L552.02,399.69 L553.33,399.95 Z" fill="#808080"/>
<path d="M724.10,320.90 L724.04,320.66 L723.97,320.43 L723.91,320.20 L723.84,319.96 L723.77,319.73 L723.69,319.49 L723.62,319.26 L723.54,319.03 L723.47,318.79 L723.39,318.56 L723.31,318.33 L723.22,318.09 L723.14,317.86 L723.05,317.63 L722.97,317.40 L722.88,317.16 L722.79,316.93 L722.69,316.70 L722.60,316.47 L722.50,316.24 L722.40,316.00 L722.31,315.77 L722.20,315.54 L722.10,315.31 L722.00,315.08 L721.89,314.85 L721.78,314.62 L721.67,314.39 L721.56,314.16 L721.45,313.93 L721.34,313.70 L721.22,313.47 L721.10,313.24 L720.98,313.01 L720.86,312.78 L720.74,312.55 L720.62,312.33 L720.49,312.10 L720.36,311.87 L720.23,311.64 L720.10,311.41 L719.97,311.19 L719.84,310.96 L719.70,310.73 L719.56,310.51 L719.42,310.28 L719.28,310.05 L719.14,309.83 L719.00,309.60 L718.85,309.38 L718.70,309.15 L718.56,308.93 L718.40,308.70 L718.25,308.48 L718.10,308.25 L717.94,308.03 L717.79,307.81 L717.63,307.58 L717.47,307.36 L717.31,307.14 L717.14,306.92 L716.98,306.69 L716.81,306.47 L716.64,306.25 L716.47,306.03 L716.30,305.81 L716.13,305.59 L715.96,305.37 L715.78,305.15 L715.60,304.93 L715.42,304.71 L715.24,304.49 L715.06,304.27 L714.88,304.05 L714.69,303.83 L714.50,303.62 L714.32,303.40 L714.12,303.18 L713.93,302.96 L713.93,302.96 L714.15,303.16 L714.36,303.36 L714.58,303.55 L714.79,303.75 L715.00,303.95 L715.21,304.15 L715.41,304.35 L715.62,304.55 L715.82,304.75 L716.03,304.95 L716.23,305.15 L716.43,305.35 L716.63,305.55 L716.83,305.76 L717.02,305.96 L717.22,306.17 L717.41,306.37 L717.60,306.58 L717.79,306.78 L717.98,306.99 L718.17,307.20 L718.36,307.41 L718.54,307.61 L718.72,307.82 L718.91,308.03 L719.09,308.24 L719.27,308.45 L719.44,308.67 L719.62,308.88 L719.80,309.09 L719.97,309.30 L720.14,309.52 L720.31,309.73 L720.48,309.95 L720.65,310.16 L720.81,310.38 L720.98,310.59 L721.14,310.81 L721.30,311.03 L721.46,311.25 L721.62,311.47 L721.78,311.69 L721.94,311.91 L722.09,312.13 L722.24,312.35 L722.40,312.57 L722.55,312.80 L722.69,313.02 L722.84,313.24 L722.99,313.47 L723.13,313.69 L723.27,313.92 L723.41,314.14 L723.55,314.37 L723.69,314.60 L723.83,314.83 L723.96,315.06 L724.09,315.29 L724.22,315.52 L724.35,315.75 L724.48,315.98 L724.61,316.21 L724.73,316.44 L724.86,316.68 L724.98,316.91 L725.10,317.14 L725.22,317.38 L725.34,317.61 L725.45,317.85 L725.57,318.09 L725.68,318.33 L725.79,318.56 L725.90,318.80 L726.01,319.04 L726.11,319.28 L726.22,319.52 L726.32,319.76 L726.42,320.00 L726.52,320.25 Z" fill="#808080"/>

<g stroke="#000" stroke-width="3.5" fill="none" stroke-linecap="butt">
<line x1="389.5" y1="112" x2="415.9" y2="175"/>
<line x1="215" y1="374" x2="172.5" y2="437.5"/>
<line x1="191.25" y1="437.5" x2="158" y2="484"/>
<line x1="131.9" y1="437.25" x2="220" y2="437.25" stroke-width="4.2"/>
<line x1="591.5" y1="381" x2="622.5" y2="430"/>
<line x1="598" y1="430.7" x2="646.8" y2="481"/>
<line x1="577" y1="430.7" x2="661" y2="430.7" stroke-width="4.2"/>
</g>
<path d="M338.57,42.79 L338.73,42.42 L338.90,42.05 L339.08,41.69 L339.26,41.33 L339.46,40.96 L339.66,40.61 L339.88,40.25 L340.10,39.89 L340.34,39.54 L340.58,39.19 L340.83,38.84 L341.09,38.49 L341.36,38.15 L341.64,37.81 L341.93,37.47 L342.22,37.13 L342.53,36.80 L342.84,36.46 L343.16,36.14 L343.50,35.81 L343.83,35.49 L344.18,35.17 L344.54,34.85 L344.90,34.54 L345.28,34.23 L345.66,33.92 L346.04,33.62 L346.44,33.32 L346.85,33.02 L347.26,32.73 L347.68,32.44 L348.10,32.15 L348.54,31.87 L348.98,31.59 L349.43,31.32 L349.89,31.05 L350.35,30.78 L350.82,30.52 L351.30,30.26 L351.78,30.01 L352.27,29.76 L352.77,29.52 L353.27,29.28 L353.78,29.04 L354.29,28.81 L354.81,28.59 L355.34,28.36 L355.87,28.15 L356.41,27.93 L356.96,27.73 L357.50,27.52 L358.06,27.33 L358.62,27.13 L359.18,26.95 L359.75,26.76 L360.33,26.58 L360.90,26.41 L361.49,26.24 L362.08,26.08 L362.67,25.92 L363.26,25.77 L363.86,25.63 L364.47,25.48 L365.07,25.35 L365.68,25.22 L366.30,25.09 L366.91,24.97 L367.53,24.86 L368.16,24.75 L368.78,24.65 L369.41,24.55 L370.04,24.46 L370.67,24.37 L371.31,24.29 L371.95,24.21 L372.59,24.14 L373.23,24.08 L373.87,24.02 L374.51,23.97 L375.16,23.92 L375.80,23.88 L376.45,23.85 L377.10,23.82 L377.75,23.79 L378.40,23.77 L379.05,23.76 L379.70,23.75 L380.35,23.75 L381.00,23.76 L381.65,23.77 L382.30,23.79 L382.95,23.81 L383.60,23.84 L384.24,23.87 L384.89,23.91 L385.54,23.95 L386.18,24.00 L386.82,24.06 L387.47,24.12 L388.11,24.19 L388.74,24.26 L389.38,24.34 L390.01,24.43 L390.65,24.52 L391.27,24.61 L391.90,24.72 L392.52,24.82 L393.15,24.93 L393.76,25.05 L394.38,25.18 L394.99,25.30 L395.60,25.44 L396.20,25.58 L396.80,25.72 L397.40,25.87 L397.99,26.03 L398.58,26.19 L399.17,26.36 L399.75,26.53 L400.32,26.70 L400.89,26.88 L401.46,27.07 L402.02,27.26 L402.58,27.46 L403.13,27.66 L403.67,27.87 L404.21,28.08 L404.75,28.29 L405.28,28.51 L405.28,28.51 L405.90,28.40 L406.52,28.30 L407.15,28.20 L407.77,28.10 L408.41,28.01 L409.04,27.93 L409.68,27.85 L410.31,27.78 L410.95,27.71 L411.59,27.65 L412.24,27.60 L412.88,27.55 L413.52,27.50 L414.17,27.47 L414.82,27.43 L415.46,27.41 L416.11,27.39 L416.76,27.37 L417.41,27.36 L418.06,27.36 L418.71,27.36 L419.36,27.37 L420.01,27.38 L420.66,27.40 L421.30,27.43 L421.95,27.46 L422.60,27.50 L423.24,27.54 L423.89,27.59 L424.53,27.64 L425.17,27.70 L425.81,27.76 L426.45,27.83 L427.09,27.91 L427.72,27.99 L428.35,28.08 L428.98,28.17 L429.61,28.27 L430.23,28.38 L430.85,28.49 L431.47,28.60 L432.09,28.72 L432.70,28.85 L433.31,28.98 L433.91,29.12 L434.51,29.26 L435.11,29.41 L435.71,29.56 L436.30,29.72 L436.88,29.88 L437.46,30.05 L438.04,30.22 L438.61,30.40 L439.18,30.58 L439.74,30.77 L440.30,30.97 L440.85,31.16 L441.40,31.37 L441.94,31.57 L442.48,31.79 L443.01,32.01 L443.54,32.23 L444.06,32.45 L444.57,32.69 L445.08,32.92 L445.58,33.16 L446.07,33.41 L446.56,33.66 L447.04,33.91 L447.52,34.17 L447.99,34.43 L448.45,34.69 L448.90,34.96 L449.35,35.24 L449.79,35.52 L450.22,35.80 L450.65,36.08 L451.07,36.37 L451.48,36.67 L451.88,36.96 L452.27,37.26 L452.66,37.57 L453.04,37.87 L453.41,38.18 L453.77,38.50 L454.13,38.81 L454.47,39.13 L454.81,39.46 L455.14,39.78 L455.46,40.11 L455.77,40.44 L456.08,40.78 L456.37,41.11 L456.66,41.45 L456.94,41.79 L457.20,42.14 L457.46,42.48 L457.71,42.83 L457.96,43.18 L458.19,43.54 L458.41,43.89 L458.62,44.25 L458.83,44.61 L459.02,44.97 L459.21,45.33 L459.38,45.69 L459.55,46.06 L459.71,46.43 L459.85,46.79 L459.99,47.16 L460.12,47.53 L460.24,47.91 L460.34,48.28 L460.34,48.28 L460.95,48.42 L461.55,48.57 L462.15,48.72 L462.74,48.88 L463.33,49.04 L463.91,49.20 L464.49,49.38 L465.07,49.55 L465.64,49.74 L466.21,49.93 L466.77,50.12 L467.32,50.32 L467.87,50.52 L468.42,50.73 L468.96,50.94 L469.49,51.16 L470.02,51.38 L470.54,51.60 L471.06,51.84 L471.57,52.07 L472.07,52.31 L472.57,52.56 L473.06,52.80 L473.55,53.06 L474.03,53.32 L474.50,53.58 L474.96,53.84 L475.42,54.11 L475.87,54.39 L476.31,54.67 L476.75,54.95 L477.18,55.23 L477.60,55.52 L478.01,55.82 L478.42,56.11 L478.81,56.41 L479.20,56.72 L479.58,57.02 L479.96,57.33 L480.32,57.65 L480.68,57.97 L481.03,58.29 L481.37,58.61 L481.70,58.94 L482.02,59.26 L482.34,59.60 L482.65,59.93 L482.94,60.27 L483.23,60.61 L483.51,60.95 L483.78,61.30 L484.04,61.64 L484.29,61.99 L484.54,62.35 L484.77,62.70 L484.99,63.06 L485.21,63.41 L485.42,63.77 L485.61,64.13 L485.80,64.50 L485.98,64.86 L486.14,65.23 L486.30,65.60 L486.45,65.97 L486.59,66.34 L486.72,66.71 L486.84,67.08 L486.95,67.46 L487.05,67.83 L487.14,68.21 L487.22,68.58 L487.29,68.96 L487.35,69.34 L487.40,69.71 L487.44,70.09 L487.47,70.47 L487.49,70.85 L487.50,71.23 L487.50,71.61 L487.49,71.99 L487.47,72.37 L487.44,72.75 L487.40,73.12 L487.35,73.50 L487.30,73.88 L487.23,74.26 L487.15,74.63 L487.06,75.01 L486.96,75.38 L486.85,75.76 L486.74,76.13 L486.61,76.50 L486.47,76.87 L486.33,77.24 L486.17,77.61 L486.00,77.98 L485.83,78.34 L485.64,78.71 L485.45,79.07 L485.24,79.43 L485.03,79.79 L484.81,80.14 L484.57,80.50 L484.33,80.85 L484.08,81.20 L483.82,81.55 L483.82,81.55 L483.94,81.92 L484.05,82.29 L484.15,82.66 L484.24,83.03 L484.32,83.41 L484.39,83.78 L484.45,84.16 L484.50,84.53 L484.54,84.91 L484.57,85.29 L484.59,85.66 L484.61,86.04 L484.61,86.41 L484.60,86.79 L484.58,87.17 L484.55,87.54 L484.52,87.92 L484.47,88.30 L484.41,88.67 L484.35,89.05 L484.27,89.42 L484.18,89.79 L484.09,90.17 L483.98,90.54 L483.87,90.91 L483.74,91.28 L483.61,91.65 L483.46,92.01 L483.31,92.38 L483.15,92.74 L482.97,93.11 L482.79,93.47 L482.60,93.83 L482.40,94.19 L482.19,94.54 L481.97,94.90 L481.74,95.25 L481.51,95.60 L481.26,95.95 L481.00,96.30 L480.74,96.64 L480.47,96.98 L480.18,97.32 L479.89,97.66 L479.59,97.99 L479.28,98.32 L478.97,98.65 L478.64,98.98 L478.31,99.30 L477.97,99.62 L477.62,99.93 L477.26,100.25 L476.89,100.56 L476.51,100.87 L476.13,101.17 L475.74,101.47 L475.34,101.77 L474.94,102.06 L474.52,102.35 L474.10,102.64 L473.67,102.92 L473.24,103.20 L472.79,103.47 L472.34,103.74 L471.89,104.01 L471.42,104.27 L470.95,104.53 L470.47,104.78 L469.99,105.03 L469.50,105.28 L469.00,105.52 L468.50,105.76 L467.99,105.99 L467.47,106.22 L466.95,106.44 L466.43,106.66 L465.89,106.87 L465.36,107.08 L464.81,107.29 L464.26,107.49 L463.71,107.68 L463.15,107.87 L462.59,108.06 L462.02,108.24 L461.45,108.41 L460.87,108.58 L460.29,108.75 L459.70,108.91 L459.11,109.06 L458.52,109.21 L457.92,109.36 L457.32,109.50 L456.71,109.63 L456.10,109.76 L455.49,109.88 L454.88,110.00 L454.26,110.11 L453.64,110.22 L453.02,110.32 L452.39,110.41 L451.76,110.50 L451.13,110.59 L450.50,110.67 L449.86,110.74 L449.23,110.81 L448.59,110.87 L447.95,110.93 L447.31,110.98 L446.66,111.02 L446.02,111.06 L445.37,111.10 L444.73,111.13 L444.08,111.15 L443.44,111.16 L442.79,111.18 L442.14,111.18 L441.50,111.18 L440.85,111.17 L440.20,111.16 L439.55,111.15 L438.91,111.12 L438.26,111.09 L437.62,111.06 L436.98,111.02 L436.33,110.97 L435.69,110.92 L435.05,110.87 L434.41,110.80 L433.78,110.73 L433.14,110.66 L432.51,110.58 L431.88,110.50 L431.25,110.40 L430.63,110.31 L430.00,110.21 L429.38,110.10 L428.76,109.99 L428.15,109.87 L428.15,109.87 L427.53,109.99 L426.90,110.11 L426.27,110.22 L425.64,110.33 L425.00,110.43 L424.36,110.53 L423.72,110.62 L423.08,110.70 L422.44,110.78 L421.79,110.85 L421.14,110.92 L420.49,110.98 L419.84,111.03 L419.18,111.08 L418.53,111.12 L417.87,111.16 L417.22,111.19 L416.56,111.22 L415.90,111.24 L415.24,111.25 L414.58,111.26 L413.93,111.26 L413.27,111.26 L412.61,111.25 L411.95,111.23 L411.29,111.21 L410.64,111.18 L409.98,111.15 L409.32,111.11 L408.67,111.06 L408.02,111.01 L407.37,110.96 L406.72,110.89 L406.07,110.82 L405.42,110.75 L404.78,110.67 L404.14,110.58 L403.50,110.49 L402.86,110.39 L402.22,110.29 L401.59,110.18 L400.96,110.07 L400.34,109.95 L399.72,109.82 L399.10,109.69 L398.48,109.55 L397.87,109.41 L397.26,109.26 L396.66,109.11 L396.06,108.95 L395.46,108.79 L394.87,108.62 L394.29,108.44 L393.70,108.26 L393.13,108.08 L392.55,107.89 L391.99,107.69 L391.43,107.49 L390.87,107.29 L390.32,107.08 L389.77,106.86 L389.23,106.64 L388.70,106.42 L388.70,106.42 L388.27,106.70 L387.84,106.98 L387.40,107.25 L386.95,107.52 L386.50,107.79 L386.03,108.05 L385.57,108.31 L385.09,108.56 L384.61,108.81 L384.12,109.06 L383.63,109.30 L383.13,109.54 L382.62,109.77 L382.11,110.00 L381.59,110.22 L381.06,110.44 L380.53,110.66 L380.00,110.87 L379.46,111.07 L378.91,111.27 L378.36,111.47 L377.80,111.66 L377.24,111.84 L376.68,112.02 L376.11,112.20 L375.53,112.37 L374.95,112.54 L374.37,112.70 L373.78,112.85 L373.19,113.00 L372.59,113.15 L371.99,113.29 L371.39,113.42 L370.78,113.55 L370.17,113.67 L369.56,113.79 L368.95,113.91 L368.33,114.01 L367.71,114.11 L367.08,114.21 L366.46,114.30 L365.83,114.39 L365.20,114.47 L364.57,114.54 L363.93,114.61 L363.29,114.68 L362.66,114.73 L362.02,114.79 L361.38,114.83 L360.74,114.87 L360.09,114.91 L359.45,114.94 L358.81,114.96 L358.16,114.98 L357.52,114.99 L356.87,115.00 L356.22,115.00 L355.58,115.00 L354.93,114.99 L354.29,114.97 L353.64,114.95 L353.00,114.92 L352.36,114.89 L351.72,114.85 L351.07,114.81 L350.44,114.76 L349.80,114.70 L349.16,114.64 L348.52,114.58 L347.89,114.50 L347.26,114.43 L346.63,114.34 L346.00,114.26 L345.38,114.16 L344.76,114.06 L344.14,113.96 L343.52,113.85 L342.90,113.73 L342.29,113.61 L341.69,113.48 L341.08,113.35 L340.48,113.21 L339.88,113.07 L339.29,112.92 L338.70,112.77 L338.11,112.61 L337.53,112.45 L336.96,112.28 L336.38,112.11 L335.82,111.93 L335.25,111.75 L334.69,111.56 L334.14,111.36 L333.59,111.17 L333.05,110.96 L332.51,110.76 L331.98,110.54 L331.45,110.33 L330.93,110.11 L330.41,109.88 L329.90,109.65 L329.40,109.41 L328.90,109.17 L328.41,108.93 L327.93,108.68 L327.45,108.43 L326.98,108.17 L326.51,107.91 L326.05,107.65 L325.60,107.38 L325.16,107.11 L324.72,106.83 L324.29,106.55 L323.87,106.27 L323.45,105.98 L323.05,105.69 L322.65,105.39 L322.25,105.09 L321.87,104.79 L321.49,104.49 L321.12,104.18 L320.76,103.87 L320.41,103.55 L320.07,103.24 L319.73,102.92 L319.40,102.59 L319.08,102.26 L318.77,101.94 L318.47,101.60 L318.18,101.27 L317.89,100.93 L317.61,100.59 L317.35,100.25 L317.09,99.91 L316.84,99.56 L316.60,99.21 L316.37,98.86 L316.14,98.51 L315.93,98.15 L315.73,97.80 L315.53,97.44 L315.35,97.08 L315.17,96.72 L315.01,96.35 L314.85,95.99 L314.70,95.62 L314.56,95.26 L314.43,94.89 L314.32,94.52 L314.21,94.15 L314.11,93.78 L314.02,93.41 L313.94,93.03 L313.86,92.66 L313.80,92.29 L313.75,91.91 L313.71,91.54 L313.68,91.16 L313.66,90.79 L313.64,90.41 L313.64,90.03 L313.65,89.66 L313.66,89.28 L313.69,88.91 L313.73,88.53 L313.77,88.16 L313.83,87.78 L313.83,87.78 L313.31,87.56 L312.79,87.33 L312.28,87.10 L311.78,86.86 L311.28,86.62 L310.79,86.37 L310.31,86.12 L309.83,85.86 L309.36,85.60 L308.90,85.34 L308.44,85.07 L307.99,84.80 L307.55,84.52 L307.11,84.24 L306.68,83.96 L306.26,83.67 L305.85,83.38 L305.45,83.09 L305.05,82.79 L304.66,82.49 L304.28,82.19 L303.90,81.88 L303.54,81.57 L303.18,81.25 L302.83,80.93 L302.49,80.61 L302.15,80.29 L301.83,79.96 L301.51,79.63 L301.21,79.30 L300.91,78.97 L300.62,78.63 L300.34,78.29 L300.06,77.95 L299.80,77.60 L299.55,77.25 L299.30,76.90 L299.07,76.55 L298.84,76.20 L298.62,75.84 L298.41,75.49 L298.21,75.13 L298.02,74.77 L297.84,74.40 L297.67,74.04 L297.51,73.67 L297.36,73.31 L297.22,72.94 L297.09,72.57 L296.96,72.20 L296.85,71.83 L296.75,71.46 L296.65,71.08 L296.57,70.71 L296.49,70.33 L296.43,69.96 L296.38,69.58 L296.33,69.20 L296.30,68.83 L296.27,68.45 L296.25,68.07 L296.25,67.70 L296.25,67.32 L296.27,66.94 L296.29,66.56 L296.32,66.19 L296.37,65.81 L296.42,65.44 L296.48,65.06 L296.56,64.68 L296.64,64.31 L296.73,63.94 L296.83,63.56 L296.95,63.19 L297.07,62.82 L297.20,62.45 L297.34,62.08 L297.49,61.72 L297.65,61.35 L297.82,60.99 L298.00,60.62 L298.19,60.26 L298.38,59.90 L298.59,59.55 L298.81,59.19 L299.03,58.84 L299.27,58.49 L299.51,58.14 L299.76,57.79 L300.03,57.44 L300.30,57.10 L300.58,56.76 L300.87,56.42 L301.16,56.09 L301.47,55.75 L301.78,55.42 L302.11,55.10 L302.44,54.77 L302.78,54.45 L303.13,54.13 L303.48,53.82 L303.85,53.51 L304.22,53.20 L304.60,52.89 L304.99,52.59 L305.39,52.29 L305.79,52.00 L306.21,51.71 L306.62,51.42 L307.05,51.13 L307.49,50.85 L307.93,50.58 L308.38,50.31 L308.83,50.04 L309.30,49.77 L309.77,49.51 L310.24,49.26 L310.72,49.01 L311.21,48.76 L311.71,48.51 L312.21,48.28 L312.72,48.04 L313.23,47.81 L313.76,47.59 L314.28,47.37 L314.81,47.15 L315.35,46.94 L315.89,46.73 L316.44,46.53 L316.99,46.34 L317.55,46.14 L318.12,45.96 L318.68,45.77 L319.26,45.60 L319.83,45.43 L320.42,45.26 L321.00,45.10 L321.59,44.94 L322.19,44.79 L322.78,44.64 L323.39,44.50 L323.99,44.37 L324.60,44.24 L325.21,44.11 L325.83,44.00 L326.44,43.88 L327.07,43.77 L327.69,43.67 L328.32,43.57 L328.95,43.48 L329.58,43.40 L330.21,43.32 L330.85,43.24 L331.48,43.17 L332.12,43.11 L332.76,43.05 L333.40,43.00 L334.05,42.95 L334.69,42.91 L335.34,42.88 L335.98,42.85 L336.63,42.82 L337.28,42.80 L337.93,42.79 L338.57,42.79 Z" fill="#808080" transform="translate(8,8)"/>
<path d="M338.57,42.79 L338.73,42.42 L338.90,42.05 L339.08,41.69 L339.26,41.33 L339.46,40.96 L339.66,40.61 L339.88,40.25 L340.10,39.89 L340.34,39.54 L340.58,39.19 L340.83,38.84 L341.09,38.49 L341.36,38.15 L341.64,37.81 L341.93,37.47 L342.22,37.13 L342.53,36.80 L342.84,36.46 L343.16,36.14 L343.50,35.81 L343.83,35.49 L344.18,35.17 L344.54,34.85 L344.90,34.54 L345.28,34.23 L345.66,33.92 L346.04,33.62 L346.44,33.32 L346.85,33.02 L347.26,32.73 L347.68,32.44 L348.10,32.15 L348.54,31.87 L348.98,31.59 L349.43,31.32 L349.89,31.05 L350.35,30.78 L350.82,30.52 L351.30,30.26 L351.78,30.01 L352.27,29.76 L352.77,29.52 L353.27,29.28 L353.78,29.04 L354.29,28.81 L354.81,28.59 L355.34,28.36 L355.87,28.15 L356.41,27.93 L356.96,27.73 L357.50,27.52 L358.06,27.33 L358.62,27.13 L359.18,26.95 L359.75,26.76 L360.33,26.58 L360.90,26.41 L361.49,26.24 L362.08,26.08 L362.67,25.92 L363.26,25.77 L363.86,25.63 L364.47,25.48 L365.07,25.35 L365.68,25.22 L366.30,25.09 L366.91,24.97 L367.53,24.86 L368.16,24.75 L368.78,24.65 L369.41,24.55 L370.04,24.46 L370.67,24.37 L371.31,24.29 L371.95,24.21 L372.59,24.14 L373.23,24.08 L373.87,24.02 L374.51,23.97 L375.16,23.92 L375.80,23.88 L376.45,23.85 L377.10,23.82 L377.75,23.79 L378.40,23.77 L379.05,23.76 L379.70,23.75 L380.35,23.75 L381.00,23.76 L381.65,23.77 L382.30,23.79 L382.95,23.81 L383.60,23.84 L384.24,23.87 L384.89,23.91 L385.54,23.95 L386.18,24.00 L386.82,24.06 L387.47,24.12 L388.11,24.19 L388.74,24.26 L389.38,24.34 L390.01,24.43 L390.65,24.52 L391.27,24.61 L391.90,24.72 L392.52,24.82 L393.15,24.93 L393.76,25.05 L394.38,25.18 L394.99,25.30 L395.60,25.44 L396.20,25.58 L396.80,25.72 L397.40,25.87 L397.99,26.03 L398.58,26.19 L399.17,26.36 L399.75,26.53 L400.32,26.70 L400.89,26.88 L401.46,27.07 L402.02,27.26 L402.58,27.46 L403.13,27.66 L403.67,27.87 L404.21,28.08 L404.75,28.29 L405.28,28.51 L405.28,28.51 L405.90,28.40 L406.52,28.30 L407.15,28.20 L407.77,28.10 L408.41,28.01 L409.04,27.93 L409.68,27.85 L410.31,27.78 L410.95,27.71 L411.59,27.65 L412.24,27.60 L412.88,27.55 L413.52,27.50 L414.17,27.47 L414.82,27.43 L415.46,27.41 L416.11,27.39 L416.76,27.37 L417.41,27.36 L418.06,27.36 L418.71,27.36 L419.36,27.37 L420.01,27.38 L420.66,27.40 L421.30,27.43 L421.95,27.46 L422.60,27.50 L423.24,27.54 L423.89,27.59 L424.53,27.64 L425.17,27.70 L425.81,27.76 L426.45,27.83 L427.09,27.91 L427.72,27.99 L428.35,28.08 L428.98,28.17 L429.61,28.27 L430.23,28.38 L430.85,28.49 L431.47,28.60 L432.09,28.72 L432.70,28.85 L433.31,28.98 L433.91,29.12 L434.51,29.26 L435.11,29.41 L435.71,29.56 L436.30,29.72 L436.88,29.88 L437.46,30.05 L438.04,30.22 L438.61,30.40 L439.18,30.58 L439.74,30.77 L440.30,30.97 L440.85,31.16 L441.40,31.37 L441.94,31.57 L442.48,31.79 L443.01,32.01 L443.54,32.23 L444.06,32.45 L444.57,32.69 L445.08,32.92 L445.58,33.16 L446.07,33.41 L446.56,33.66 L447.04,33.91 L447.52,34.17 L447.99,34.43 L448.45,34.69 L448.90,34.96 L449.35,35.24 L449.79,35.52 L450.22,35.80 L450.65,36.08 L451.07,36.37 L451.48,36.67 L451.88,36.96 L452.27,37.26 L452.66,37.57 L453.04,37.87 L453.41,38.18 L453.77,38.50 L454.13,38.81 L454.47,39.13 L454.81,39.46 L455.14,39.78 L455.46,40.11 L455.77,40.44 L456.08,40.78 L456.37,41.11 L456.66,41.45 L456.94,41.79 L457.20,42.14 L457.46,42.48 L457.71,42.83 L457.96,43.18 L458.19,43.54 L458.41,43.89 L458.62,44.25 L458.83,44.61 L459.02,44.97 L459.21,45.33 L459.38,45.69 L459.55,46.06 L459.71,46.43 L459.85,46.79 L459.99,47.16 L460.12,47.53 L460.24,47.91 L460.34,48.28 L460.34,48.28 L460.95,48.42 L461.55,48.57 L462.15,48.72 L462.74,48.88 L463.33,49.04 L463.91,49.20 L464.49,49.38 L465.07,49.55 L465.64,49.74 L466.21,49.93 L466.77,50.12 L467.32,50.32 L467.87,50.52 L468.42,50.73 L468.96,50.94 L469.49,51.16 L470.02,51.38 L470.54,51.60 L471.06,51.84 L471.57,52.07 L472.07,52.31 L472.57,52.56 L473.06,52.80 L473.55,53.06 L474.03,53.32 L474.50,53.58 L474.96,53.84 L475.42,54.11 L475.87,54.39 L476.31,54.67 L476.75,54.95 L477.18,55.23 L477.60,55.52 L478.01,55.82 L478.42,56.11 L478.81,56.41 L479.20,56.72 L479.58,57.02 L479.96,57.33 L480.32,57.65 L480.68,57.97 L481.03,58.29 L481.37,58.61 L481.70,58.94 L482.02,59.26 L482.34,59.60 L482.65,59.93 L482.94,60.27 L483.23,60.61 L483.51,60.95 L483.78,61.30 L484.04,61.64 L484.29,61.99 L484.54,62.35 L484.77,62.70 L484.99,63.06 L485.21,63.41 L485.42,63.77 L485.61,64.13 L485.80,64.50 L485.98,64.86 L486.14,65.23 L486.30,65.60 L486.45,65.97 L486.59,66.34 L486.72,66.71 L486.84,67.08 L486.95,67.46 L487.05,67.83 L487.14,68.21 L487.22,68.58 L487.29,68.96 L487.35,69.34 L487.40,69.71 L487.44,70.09 L487.47,70.47 L487.49,70.85 L487.50,71.23 L487.50,71.61 L487.49,71.99 L487.47,72.37 L487.44,72.75 L487.40,73.12 L487.35,73.50 L487.30,73.88 L487.23,74.26 L487.15,74.63 L487.06,75.01 L486.96,75.38 L486.85,75.76 L486.74,76.13 L486.61,76.50 L486.47,76.87 L486.33,77.24 L486.17,77.61 L486.00,77.98 L485.83,78.34 L485.64,78.71 L485.45,79.07 L485.24,79.43 L485.03,79.79 L484.81,80.14 L484.57,80.50 L484.33,80.85 L484.08,81.20 L483.82,81.55 L483.82,81.55 L483.94,81.92 L484.05,82.29 L484.15,82.66 L484.24,83.03 L484.32,83.41 L484.39,83.78 L484.45,84.16 L484.50,84.53 L484.54,84.91 L484.57,85.29 L484.59,85.66 L484.61,86.04 L484.61,86.41 L484.60,86.79 L484.58,87.17 L484.55,87.54 L484.52,87.92 L484.47,88.30 L484.41,88.67 L484.35,89.05 L484.27,89.42 L484.18,89.79 L484.09,90.17 L483.98,90.54 L483.87,90.91 L483.74,91.28 L483.61,91.65 L483.46,92.01 L483.31,92.38 L483.15,92.74 L482.97,93.11 L482.79,93.47 L482.60,93.83 L482.40,94.19 L482.19,94.54 L481.97,94.90 L481.74,95.25 L481.51,95.60 L481.26,95.95 L481.00,96.30 L480.74,96.64 L480.47,96.98 L480.18,97.32 L479.89,97.66 L479.59,97.99 L479.28,98.32 L478.97,98.65 L478.64,98.98 L478.31,99.30 L477.97,99.62 L477.62,99.93 L477.26,100.25 L476.89,100.56 L476.51,100.87 L476.13,101.17 L475.74,101.47 L475.34,101.77 L474.94,102.06 L474.52,102.35 L474.10,102.64 L473.67,102.92 L473.24,103.20 L472.79,103.47 L472.34,103.74 L471.89,104.01 L471.42,104.27 L470.95,104.53 L470.47,104.78 L469.99,105.03 L469.50,105.28 L469.00,105.52 L468.50,105.76 L467.99,105.99 L467.47,106.22 L466.95,106.44 L466.43,106.66 L465.89,106.87 L465.36,107.08 L464.81,107.29 L464.26,107.49 L463.71,107.68 L463.15,107.87 L462.59,108.06 L462.02,108.24 L461.45,108.41 L460.87,108.58 L460.29,108.75 L459.70,108.91 L459.11,109.06 L458.52,109.21 L457.92,109.36 L457.32,109.50 L456.71,109.63 L456.10,109.76 L455.49,109.88 L454.88,110.00 L454.26,110.11 L453.64,110.22 L453.02,110.32 L452.39,110.41 L451.76,110.50 L451.13,110.59 L450.50,110.67 L449.86,110.74 L449.23,110.81 L448.59,110.87 L447.95,110.93 L447.31,110.98 L446.66,111.02 L446.02,111.06 L445.37,111.10 L444.73,111.13 L444.08,111.15 L443.44,111.16 L442.79,111.18 L442.14,111.18 L441.50,111.18 L440.85,111.17 L440.20,111.16 L439.55,111.15 L438.91,111.12 L438.26,111.09 L437.62,111.06 L436.98,111.02 L436.33,110.97 L435.69,110.92 L435.05,110.87 L434.41,110.80 L433.78,110.73 L433.14,110.66 L432.51,110.58 L431.88,110.50 L431.25,110.40 L430.63,110.31 L430.00,110.21 L429.38,110.10 L428.76,109.99 L428.15,109.87 L428.15,109.87 L427.53,109.99 L426.90,110.11 L426.27,110.22 L425.64,110.33 L425.00,110.43 L424.36,110.53 L423.72,110.62 L423.08,110.70 L422.44,110.78 L421.79,110.85 L421.14,110.92 L420.49,110.98 L419.84,111.03 L419.18,111.08 L418.53,111.12 L417.87,111.16 L417.22,111.19 L416.56,111.22 L415.90,111.24 L415.24,111.25 L414.58,111.26 L413.93,111.26 L413.27,111.26 L412.61,111.25 L411.95,111.23 L411.29,111.21 L410.64,111.18 L409.98,111.15 L409.32,111.11 L408.67,111.06 L408.02,111.01 L407.37,110.96 L406.72,110.89 L406.07,110.82 L405.42,110.75 L404.78,110.67 L404.14,110.58 L403.50,110.49 L402.86,110.39 L402.22,110.29 L401.59,110.18 L400.96,110.07 L400.34,109.95 L399.72,109.82 L399.10,109.69 L398.48,109.55 L397.87,109.41 L397.26,109.26 L396.66,109.11 L396.06,108.95 L395.46,108.79 L394.87,108.62 L394.29,108.44 L393.70,108.26 L393.13,108.08 L392.55,107.89 L391.99,107.69 L391.43,107.49 L390.87,107.29 L390.32,107.08 L389.77,106.86 L389.23,106.64 L388.70,106.42 L388.70,106.42 L388.27,106.70 L387.84,106.98 L387.40,107.25 L386.95,107.52 L386.50,107.79 L386.03,108.05 L385.57,108.31 L385.09,108.56 L384.61,108.81 L384.12,109.06 L383.63,109.30 L383.13,109.54 L382.62,109.77 L382.11,110.00 L381.59,110.22 L381.06,110.44 L380.53,110.66 L380.00,110.87 L379.46,111.07 L378.91,111.27 L378.36,111.47 L377.80,111.66 L377.24,111.84 L376.68,112.02 L376.11,112.20 L375.53,112.37 L374.95,112.54 L374.37,112.70 L373.78,112.85 L373.19,113.00 L372.59,113.15 L371.99,113.29 L371.39,113.42 L370.78,113.55 L370.17,113.67 L369.56,113.79 L368.95,113.91 L368.33,114.01 L367.71,114.11 L367.08,114.21 L366.46,114.30 L365.83,114.39 L365.20,114.47 L364.57,114.54 L363.93,114.61 L363.29,114.68 L362.66,114.73 L362.02,114.79 L361.38,114.83 L360.74,114.87 L360.09,114.91 L359.45,114.94 L358.81,114.96 L358.16,114.98 L357.52,114.99 L356.87,115.00 L356.22,115.00 L355.58,115.00 L354.93,114.99 L354.29,114.97 L353.64,114.95 L353.00,114.92 L352.36,114.89 L351.72,114.85 L351.07,114.81 L350.44,114.76 L349.80,114.70 L349.16,114.64 L348.52,114.58 L347.89,114.50 L347.26,114.43 L346.63,114.34 L346.00,114.26 L345.38,114.16 L344.76,114.06 L344.14,113.96 L343.52,113.85 L342.90,113.73 L342.29,113.61 L341.69,113.48 L341.08,113.35 L340.48,113.21 L339.88,113.07 L339.29,112.92 L338.70,112.77 L338.11,112.61 L337.53,112.45 L336.96,112.28 L336.38,112.11 L335.82,111.93 L335.25,111.75 L334.69,111.56 L334.14,111.36 L333.59,111.17 L333.05,110.96 L332.51,110.76 L331.98,110.54 L331.45,110.33 L330.93,110.11 L330.41,109.88 L329.90,109.65 L329.40,109.41 L328.90,109.17 L328.41,108.93 L327.93,108.68 L327.45,108.43 L326.98,108.17 L326.51,107.91 L326.05,107.65 L325.60,107.38 L325.16,107.11 L324.72,106.83 L324.29,106.55 L323.87,106.27 L323.45,105.98 L323.05,105.69 L322.65,105.39 L322.25,105.09 L321.87,104.79 L321.49,104.49 L321.12,104.18 L320.76,103.87 L320.41,103.55 L320.07,103.24 L319.73,102.92 L319.40,102.59 L319.08,102.26 L318.77,101.94 L318.47,101.60 L318.18,101.27 L317.89,100.93 L317.61,100.59 L317.35,100.25 L317.09,99.91 L316.84,99.56 L316.60,99.21 L316.37,98.86 L316.14,98.51 L315.93,98.15 L315.73,97.80 L315.53,97.44 L315.35,97.08 L315.17,96.72 L315.01,96.35 L314.85,95.99 L314.70,95.62 L314.56,95.26 L314.43,94.89 L314.32,94.52 L314.21,94.15 L314.11,93.78 L314.02,93.41 L313.94,93.03 L313.86,92.66 L313.80,92.29 L313.75,91.91 L313.71,91.54 L313.68,91.16 L313.66,90.79 L313.64,90.41 L313.64,90.03 L313.65,89.66 L313.66,89.28 L313.69,88.91 L313.73,88.53 L313.77,88.16 L313.83,87.78 L313.83,87.78 L313.31,87.56 L312.79,87.33 L312.28,87.10 L311.78,86.86 L311.28,86.62 L310.79,86.37 L310.31,86.12 L309.83,85.86 L309.36,85.60 L308.90,85.34 L308.44,85.07 L307.99,84.80 L307.55,84.52 L307.11,84.24 L306.68,83.96 L306.26,83.67 L305.85,83.38 L305.45,83.09 L305.05,82.79 L304.66,82.49 L304.28,82.19 L303.90,81.88 L303.54,81.57 L303.18,81.25 L302.83,80.93 L302.49,80.61 L302.15,80.29 L301.83,79.96 L301.51,79.63 L301.21,79.30 L300.91,78.97 L300.62,78.63 L300.34,78.29 L300.06,77.95 L299.80,77.60 L299.55,77.25 L299.30,76.90 L299.07,76.55 L298.84,76.20 L298.62,75.84 L298.41,75.49 L298.21,75.13 L298.02,74.77 L297.84,74.40 L297.67,74.04 L297.51,73.67 L297.36,73.31 L297.22,72.94 L297.09,72.57 L296.96,72.20 L296.85,71.83 L296.75,71.46 L296.65,71.08 L296.57,70.71 L296.49,70.33 L296.43,69.96 L296.38,69.58 L296.33,69.20 L296.30,68.83 L296.27,68.45 L296.25,68.07 L296.25,67.70 L296.25,67.32 L296.27,66.94 L296.29,66.56 L296.32,66.19 L296.37,65.81 L296.42,65.44 L296.48,65.06 L296.56,64.68 L296.64,64.31 L296.73,63.94 L296.83,63.56 L296.95,63.19 L297.07,62.82 L297.20,62.45 L297.34,62.08 L297.49,61.72 L297.65,61.35 L297.82,60.99 L298.00,60.62 L298.19,60.26 L298.38,59.90 L298.59,59.55 L298.81,59.19 L299.03,58.84 L299.27,58.49 L299.51,58.14 L299.76,57.79 L300.03,57.44 L300.30,57.10 L300.58,56.76 L300.87,56.42 L301.16,56.09 L301.47,55.75 L301.78,55.42 L302.11,55.10 L302.44,54.77 L302.78,54.45 L303.13,54.13 L303.48,53.82 L303.85,53.51 L304.22,53.20 L304.60,52.89 L304.99,52.59 L305.39,52.29 L305.79,52.00 L306.21,51.71 L306.62,51.42 L307.05,51.13 L307.49,50.85 L307.93,50.58 L308.38,50.31 L308.83,50.04 L309.30,49.77 L309.77,49.51 L310.24,49.26 L310.72,49.01 L311.21,48.76 L311.71,48.51 L312.21,48.28 L312.72,48.04 L313.23,47.81 L313.76,47.59 L314.28,47.37 L314.81,47.15 L315.35,46.94 L315.89,46.73 L316.44,46.53 L316.99,46.34 L317.55,46.14 L318.12,45.96 L318.68,45.77 L319.26,45.60 L319.83,45.43 L320.42,45.26 L321.00,45.10 L321.59,44.94 L322.19,44.79 L322.78,44.64 L323.39,44.50 L323.99,44.37 L324.60,44.24 L325.21,44.11 L325.83,44.00 L326.44,43.88 L327.07,43.77 L327.69,43.67 L328.32,43.57 L328.95,43.48 L329.58,43.40 L330.21,43.32 L330.85,43.24 L331.48,43.17 L332.12,43.11 L332.76,43.05 L333.40,43.00 L334.05,42.95 L334.69,42.91 L335.34,42.88 L335.98,42.85 L336.63,42.82 L337.28,42.80 L337.93,42.79 L338.57,42.79 Z" fill="#FFD699"/>
<path d="M390.81,107.27 L390.69,107.22 L390.57,107.18 L390.46,107.13 L390.34,107.09 L390.22,107.04 L390.10,106.99 L389.99,106.95 L389.87,106.90 L389.75,106.86 L389.64,106.81 L389.52,106.76 L389.41,106.71 L389.29,106.67 L389.18,106.62 L389.06,106.57 L388.95,106.52 L388.83,106.47 L388.72,106.43 L388.60,106.38 L388.49,106.33 L388.38,106.28 L388.26,106.23 L388.15,106.18 L388.04,106.13 L387.93,106.08 L387.82,106.03 L387.70,105.98 L387.59,105.93 L387.48,105.88 L387.37,105.83 L387.26,105.77 L387.15,105.72 L387.04,105.67 L386.93,105.62 L386.82,105.57 L386.71,105.51 L386.61,105.46 L386.50,105.41 L386.39,105.35 L386.28,105.30 L386.17,105.25 L386.07,105.19 L385.96,105.14 L385.85,105.09 L385.75,105.03 L385.64,104.98 L385.54,104.92 L385.43,104.87 L385.33,104.81 L385.22,104.76 L385.12,104.70 L385.01,104.65 L384.91,104.59 L384.81,104.53 L384.70,104.48 L384.60,104.42 L384.50,104.36 L384.40,104.31 L384.30,104.25 L384.20,104.19 L384.09,104.13 L383.99,104.08 L383.89,104.02 L383.79,103.96 L383.69,103.90 L383.59,103.84 L383.49,103.79 L383.40,103.73 L383.30,103.67 L383.20,103.61 L383.10,103.55 L383.00,103.49 L382.91,103.43 L382.81,103.37 L382.71,103.31 L382.62,103.25 L382.52,103.19 L382.43,103.13 L382.33,103.07 L382.33,103.07 L382.41,103.17 L382.49,103.26 L382.57,103.36 L382.65,103.46 L382.73,103.56 L382.81,103.66 L382.89,103.75 L382.97,103.85 L383.05,103.95 L383.13,104.05 L383.22,104.14 L383.30,104.24 L383.39,104.34 L383.47,104.44 L383.55,104.53 L383.64,104.63 L383.73,104.73 L383.81,104.82 L383.90,104.92 L383.99,105.02 L384.07,105.11 L384.16,105.21 L384.25,105.31 L384.34,105.40 L384.43,105.50 L384.52,105.59 L384.61,105.69 L384.70,105.79 L384.80,105.88 L384.89,105.98 L384.98,106.07 L385.07,106.17 L385.17,106.26 L385.26,106.36 L385.36,106.45 L385.45,106.55 L385.55,106.64 L385.64,106.74 L385.74,106.83 L385.84,106.92 L385.93,107.02 L386.03,107.11 L386.13,107.21 L386.23,107.30 L386.33,107.39 L386.43,107.49 L386.53,107.58 L386.63,107.67 L386.73,107.76 L386.83,107.86 L386.93,107.95 L387.03,108.04 L387.14,108.13 L387.24,108.23 L387.34,108.32 L387.45,108.41 L387.55,108.50 L387.66,108.59 L387.76,108.68 L387.87,108.77 L387.97,108.86 L388.08,108.96 L388.19,109.05 L388.29,109.14 L388.40,109.23 L388.51,109.32 L388.62,109.41 L388.73,109.49 L388.83,109.58 L388.94,109.67 L389.05,109.76 L389.16,109.85 L389.28,109.94 L389.39,110.03 L389.50,110.12 L389.61,110.20 L389.72,110.29 L389.84,110.38 L389.95,110.47 Z" fill="#808080"/>
<path d="M430.60,110.31 L430.29,110.26 L429.98,110.20 L429.68,110.15 L429.37,110.10 L429.06,110.04 L428.75,109.99 L428.45,109.93 L428.14,109.87 L427.84,109.81 L427.54,109.75 L427.23,109.68 L426.93,109.62 L426.63,109.55 L426.33,109.48 L426.03,109.42 L425.73,109.35 L425.44,109.27 L425.14,109.20 L424.84,109.13 L424.55,109.05 L424.26,108.98 L423.96,108.90 L423.67,108.82 L423.38,108.74 L423.09,108.66 L422.80,108.58 L422.52,108.49 L422.23,108.41 L421.95,108.32 L421.66,108.23 L421.38,108.14 L421.10,108.05 L420.82,107.96 L420.54,107.87 L420.26,107.78 L419.98,107.68 L419.71,107.58 L419.43,107.49 L419.16,107.39 L418.89,107.29 L418.62,107.19 L418.35,107.08 L418.08,106.98 L417.81,106.88 L417.55,106.77 L417.29,106.66 L417.02,106.56 L416.76,106.45 L416.50,106.34 L416.24,106.22 L415.99,106.11 L415.73,106.00 L415.48,105.88 L415.23,105.77 L414.98,105.65 L414.73,105.53 L414.48,105.41 L414.23,105.29 L413.99,105.17 L413.74,105.05 L413.50,104.92 L413.26,104.80 L413.02,104.67 L412.79,104.55 L412.55,104.42 L412.32,104.29 L412.09,104.16 L411.86,104.03 L411.63,103.90 L411.40,103.77 L411.18,103.63 L410.96,103.50 L410.73,103.36 L410.51,103.23 L410.30,103.09 L410.08,102.95 L409.87,102.81 L409.65,102.67 L409.44,102.53 L409.44,102.53 L409.63,102.72 L409.82,102.92 L410.01,103.11 L410.20,103.30 L410.39,103.50 L410.59,103.69 L410.79,103.88 L410.99,104.07 L411.20,104.26 L411.40,104.45 L411.61,104.64 L411.82,104.83 L412.03,105.01 L412.25,105.20 L412.47,105.39 L412.68,105.57 L412.91,105.76 L413.13,105.94 L413.36,106.12 L413.58,106.30 L413.81,106.48 L414.04,106.66 L414.28,106.84 L414.51,107.02 L414.75,107.20 L414.99,107.37 L415.23,107.55 L415.48,107.72 L415.72,107.90 L415.97,108.07 L416.22,108.24 L416.47,108.41 L416.73,108.58 L416.98,108.75 L417.24,108.91 L417.50,109.08 L417.76,109.25 L418.02,109.41 L418.28,109.57 L418.55,109.74 L418.82,109.90 L419.08,110.06 L419.36,110.21 L419.63,110.37 L419.90,110.53 L420.18,110.68 L420.45,110.84 L420.73,110.99 L421.01,111.14 L421.30,111.29 L421.58,111.44 L421.86,111.59 L422.15,111.74 L422.44,111.88 L422.73,112.03 L423.02,112.17 L423.31,112.31 L423.60,112.45 L423.90,112.59 L424.19,112.73 L424.49,112.87 L424.79,113.01 L425.09,113.14 L425.39,113.27 L425.70,113.41 L426.00,113.54 L426.30,113.67 L426.61,113.79 L426.92,113.92 L427.23,114.05 L427.54,114.17 L427.85,114.29 L428.16,114.41 L428.47,114.53 L428.79,114.65 L429.10,114.77 L429.42,114.89 L429.74,115.00 L430.06,115.11 Z" fill="#808080"/>
<path d="M484.24,83.02 L484.22,82.96 L484.21,82.89 L484.19,82.83 L484.18,82.77 L484.16,82.70 L484.14,82.64 L484.13,82.58 L484.11,82.51 L484.09,82.45 L484.08,82.39 L484.06,82.32 L484.04,82.26 L484.02,82.20 L484.00,82.13 L483.99,82.07 L483.97,82.01 L483.95,81.94 L483.93,81.88 L483.91,81.82 L483.89,81.75 L483.87,81.69 L483.85,81.63 L483.83,81.56 L483.81,81.50 L483.78,81.44 L483.76,81.37 L483.74,81.31 L483.72,81.25 L483.70,81.19 L483.67,81.12 L483.65,81.06 L483.63,81.00 L483.60,80.93 L483.58,80.87 L483.56,80.81 L483.53,80.75 L483.51,80.68 L483.48,80.62 L483.46,80.56 L483.43,80.50 L483.40,80.43 L483.38,80.37 L483.35,80.31 L483.33,80.25 L483.30,80.19 L483.27,80.12 L483.24,80.06 L483.22,80.00 L483.19,79.94 L483.16,79.87 L483.13,79.81 L483.10,79.75 L483.07,79.69 L483.04,79.63 L483.01,79.57 L482.98,79.50 L482.95,79.44 L482.92,79.38 L482.89,79.32 L482.86,79.26 L482.83,79.20 L482.80,79.13 L482.77,79.07 L482.73,79.01 L482.70,78.95 L482.67,78.89 L482.64,78.83 L482.60,78.77 L482.57,78.70 L482.54,78.64 L482.50,78.58 L482.47,78.52 L482.43,78.46 L482.40,78.40 L482.36,78.34 L482.33,78.28 L482.29,78.22 L482.26,78.16 L482.22,78.10 L482.22,78.10 L482.28,78.14 L482.33,78.18 L482.39,78.23 L482.44,78.27 L482.50,78.32 L482.55,78.37 L482.61,78.41 L482.66,78.46 L482.72,78.50 L482.77,78.55 L482.82,78.60 L482.88,78.64 L482.93,78.69 L482.99,78.74 L483.04,78.79 L483.09,78.83 L483.15,78.88 L483.20,78.93 L483.25,78.98 L483.30,79.03 L483.36,79.08 L483.41,79.13 L483.46,79.18 L483.51,79.23 L483.57,79.28 L483.62,79.33 L483.67,79.38 L483.72,79.43 L483.77,79.48 L483.82,79.53 L483.87,79.59 L483.92,79.64 L483.97,79.69 L484.02,79.74 L484.07,79.80 L484.12,79.85 L484.17,79.90 L484.22,79.96 L484.27,80.01 L484.32,80.07 L484.37,80.12 L484.42,80.18 L484.47,80.23 L484.51,80.29 L484.56,80.34 L484.61,80.40 L484.66,80.46 L484.70,80.51 L484.75,80.57 L484.80,80.63 L484.85,80.69 L484.89,80.75 L484.94,80.80 L484.98,80.86 L485.03,80.92 L485.08,80.98 L485.12,81.04 L485.17,81.10 L485.21,81.16 L485.26,81.22 L485.30,81.28 L485.35,81.34 L485.39,81.41 L485.43,81.47 L485.48,81.53 L485.52,81.59 L485.56,81.66 L485.61,81.72 L485.65,81.78 L485.69,81.85 L485.73,81.91 L485.78,81.98 L485.82,82.04 L485.86,82.11 L485.90,82.17 L485.94,82.24 L485.98,82.30 L486.02,82.37 L486.06,82.44 Z" fill="#808080"/>

<path d="M90.80,493.51 L90.96,493.14 L91.13,492.77 L91.31,492.41 L91.49,492.04 L91.69,491.68 L91.89,491.32 L92.11,490.96 L92.33,490.60 L92.57,490.25 L92.81,489.90 L93.06,489.55 L93.32,489.20 L93.59,488.85 L93.87,488.51 L94.16,488.17 L94.46,487.83 L94.76,487.50 L95.08,487.16 L95.40,486.83 L95.73,486.51 L96.07,486.18 L96.42,485.86 L96.78,485.54 L97.14,485.23 L97.52,484.92 L97.90,484.61 L98.29,484.30 L98.68,484.00 L99.09,483.71 L99.50,483.41 L99.92,483.12 L100.35,482.83 L100.78,482.55 L101.23,482.27 L101.68,482.00 L102.13,481.73 L102.60,481.46 L103.07,481.20 L103.55,480.94 L104.03,480.69 L104.52,480.44 L105.02,480.19 L105.52,479.95 L106.03,479.71 L106.55,479.48 L107.07,479.25 L107.60,479.03 L108.13,478.81 L108.67,478.60 L109.22,478.39 L109.77,478.19 L110.32,477.99 L110.88,477.80 L111.45,477.61 L112.02,477.42 L112.59,477.25 L113.17,477.07 L113.76,476.90 L114.35,476.74 L114.94,476.58 L115.54,476.43 L116.14,476.28 L116.74,476.14 L117.35,476.00 L117.96,475.87 L118.57,475.75 L119.19,475.63 L119.81,475.51 L120.44,475.40 L121.06,475.30 L121.69,475.20 L122.33,475.11 L122.96,475.02 L123.60,474.94 L124.23,474.87 L124.88,474.80 L125.52,474.73 L126.16,474.67 L126.81,474.62 L127.45,474.57 L128.10,474.53 L128.75,474.50 L129.40,474.47 L130.05,474.44 L130.70,474.42 L131.35,474.41 L132.00,474.40 L132.65,474.40 L133.30,474.41 L133.96,474.42 L134.61,474.44 L135.26,474.46 L135.91,474.49 L136.56,474.52 L137.20,474.56 L137.85,474.60 L138.50,474.66 L139.14,474.71 L139.78,474.77 L140.42,474.84 L141.06,474.92 L141.70,475.00 L142.34,475.08 L142.97,475.17 L143.60,475.27 L144.23,475.37 L144.85,475.48 L145.47,475.59 L146.09,475.71 L146.71,475.83 L147.32,475.96 L147.93,476.10 L148.54,476.24 L149.14,476.38 L149.73,476.53 L150.33,476.69 L150.92,476.85 L151.50,477.02 L152.09,477.19 L152.66,477.36 L153.23,477.55 L153.80,477.73 L154.36,477.93 L154.92,478.12 L155.47,478.32 L156.02,478.53 L156.56,478.74 L157.10,478.96 L157.63,479.18 L157.63,479.18 L158.25,479.07 L158.87,478.96 L159.50,478.86 L160.13,478.77 L160.76,478.68 L161.40,478.60 L162.03,478.52 L162.67,478.45 L163.31,478.38 L163.95,478.32 L164.60,478.26 L165.24,478.21 L165.89,478.17 L166.54,478.13 L167.18,478.10 L167.83,478.07 L168.48,478.05 L169.13,478.04 L169.78,478.03 L170.43,478.02 L171.08,478.03 L171.73,478.03 L172.38,478.05 L173.03,478.07 L173.68,478.09 L174.33,478.12 L174.98,478.16 L175.63,478.20 L176.27,478.25 L176.91,478.30 L177.56,478.36 L178.20,478.43 L178.84,478.50 L179.47,478.58 L180.11,478.66 L180.74,478.75 L181.37,478.84 L182.00,478.94 L182.63,479.04 L183.25,479.15 L183.87,479.27 L184.48,479.39 L185.10,479.52 L185.71,479.65 L186.31,479.79 L186.92,479.93 L187.52,480.08 L188.11,480.23 L188.70,480.39 L189.29,480.55 L189.87,480.72 L190.45,480.90 L191.02,481.08 L191.59,481.26 L192.16,481.45 L192.71,481.64 L193.27,481.84 L193.82,482.05 L194.36,482.25 L194.90,482.47 L195.43,482.69 L195.96,482.91 L196.48,483.14 L196.99,483.37 L197.50,483.61 L198.00,483.85 L198.50,484.09 L198.99,484.34 L199.47,484.60 L199.94,484.86 L200.41,485.12 L200.88,485.39 L201.33,485.66 L201.78,485.93 L202.22,486.21 L202.65,486.49 L203.08,486.78 L203.50,487.07 L203.91,487.37 L204.31,487.66 L204.71,487.96 L205.10,488.27 L205.48,488.58 L205.85,488.89 L206.21,489.20 L206.57,489.52 L206.91,489.84 L207.25,490.17 L207.58,490.49 L207.90,490.82 L208.22,491.16 L208.52,491.49 L208.82,491.83 L209.10,492.17 L209.38,492.51 L209.65,492.86 L209.91,493.21 L210.16,493.56 L210.40,493.91 L210.63,494.26 L210.86,494.62 L211.07,494.98 L211.27,495.34 L211.47,495.70 L211.66,496.06 L211.83,496.43 L212.00,496.80 L212.15,497.16 L212.30,497.53 L212.44,497.90 L212.57,498.28 L212.69,498.65 L212.79,499.02 L212.79,499.02 L213.40,499.16 L214.00,499.31 L214.60,499.46 L215.19,499.62 L215.78,499.78 L216.37,499.95 L216.95,500.13 L217.53,500.30 L218.10,500.49 L218.67,500.68 L219.23,500.87 L219.79,501.07 L220.34,501.27 L220.88,501.48 L221.42,501.69 L221.96,501.91 L222.49,502.13 L223.01,502.36 L223.53,502.59 L224.04,502.83 L224.55,503.07 L225.04,503.32 L225.54,503.57 L226.02,503.82 L226.50,504.08 L226.97,504.34 L227.44,504.61 L227.90,504.88 L228.35,505.15 L228.79,505.43 L229.23,505.72 L229.66,506.00 L230.08,506.29 L230.49,506.59 L230.90,506.89 L231.30,507.19 L231.69,507.49 L232.07,507.80 L232.44,508.11 L232.81,508.43 L233.17,508.75 L233.52,509.07 L233.86,509.39 L234.19,509.72 L234.51,510.05 L234.83,510.38 L235.14,510.72 L235.43,511.06 L235.72,511.40 L236.00,511.74 L236.27,512.09 L236.54,512.44 L236.79,512.79 L237.03,513.14 L237.27,513.50 L237.49,513.86 L237.71,514.22 L237.91,514.58 L238.11,514.94 L238.30,515.30 L238.47,515.67 L238.64,516.04 L238.80,516.41 L238.95,516.78 L239.09,517.15 L239.22,517.52 L239.34,517.90 L239.44,518.27 L239.54,518.65 L239.63,519.03 L239.71,519.40 L239.78,519.78 L239.85,520.16 L239.90,520.54 L239.94,520.92 L239.97,521.30 L239.99,521.68 L240.00,522.06 L240.00,522.44 L239.99,522.82 L239.97,523.20 L239.94,523.58 L239.90,523.96 L239.85,524.34 L239.80,524.72 L239.73,525.10 L239.65,525.48 L239.56,525.86 L239.46,526.23 L239.35,526.61 L239.24,526.98 L239.11,527.36 L238.97,527.73 L238.82,528.10 L238.67,528.47 L238.50,528.84 L238.32,529.20 L238.14,529.57 L237.94,529.93 L237.74,530.29 L237.52,530.65 L237.30,531.01 L237.07,531.36 L236.83,531.72 L236.58,532.07 L236.32,532.42 L236.32,532.42 L236.43,532.79 L236.54,533.16 L236.64,533.54 L236.73,533.91 L236.81,534.29 L236.88,534.66 L236.94,535.04 L236.99,535.42 L237.04,535.79 L237.07,536.17 L237.09,536.55 L237.10,536.93 L237.10,537.31 L237.09,537.68 L237.08,538.06 L237.05,538.44 L237.01,538.82 L236.96,539.19 L236.91,539.57 L236.84,539.95 L236.76,540.32 L236.68,540.70 L236.58,541.07 L236.48,541.44 L236.36,541.82 L236.24,542.19 L236.10,542.56 L235.96,542.93 L235.80,543.29 L235.64,543.66 L235.47,544.02 L235.28,544.39 L235.09,544.75 L234.89,545.11 L234.68,545.47 L234.46,545.82 L234.23,546.18 L234.00,546.53 L233.75,546.88 L233.49,547.22 L233.23,547.57 L232.95,547.91 L232.67,548.25 L232.38,548.59 L232.08,548.93 L231.77,549.26 L231.45,549.59 L231.13,549.91 L230.79,550.24 L230.45,550.56 L230.10,550.88 L229.74,551.19 L229.37,551.50 L228.99,551.81 L228.61,552.12 L228.22,552.42 L227.82,552.72 L227.41,553.01 L227.00,553.30 L226.58,553.59 L226.15,553.87 L225.71,554.15 L225.27,554.43 L224.82,554.70 L224.36,554.97 L223.89,555.23 L223.42,555.49 L222.94,555.74 L222.46,556.00 L221.97,556.24 L221.47,556.48 L220.96,556.72 L220.45,556.96 L219.94,557.18 L219.42,557.41 L218.89,557.63 L218.35,557.84 L217.82,558.05 L217.27,558.26 L216.72,558.46 L216.17,558.66 L215.61,558.85 L215.04,559.03 L214.47,559.21 L213.90,559.39 L213.32,559.56 L212.74,559.73 L212.15,559.89 L211.56,560.04 L210.96,560.19 L210.37,560.34 L209.76,560.48 L209.16,560.61 L208.55,560.74 L207.93,560.86 L207.32,560.98 L206.70,561.09 L206.08,561.20 L205.45,561.30 L204.82,561.40 L204.20,561.49 L203.56,561.57 L202.93,561.65 L202.29,561.72 L201.66,561.79 L201.02,561.86 L200.37,561.91 L199.73,561.96 L199.09,562.01 L198.44,562.05 L197.80,562.08 L197.15,562.11 L196.50,562.13 L195.86,562.15 L195.21,562.16 L194.56,562.17 L193.91,562.17 L193.26,562.16 L192.61,562.15 L191.97,562.13 L191.32,562.11 L190.67,562.08 L190.03,562.04 L189.38,562.00 L188.74,561.96 L188.10,561.91 L187.46,561.85 L186.82,561.79 L186.18,561.72 L185.54,561.64 L184.91,561.56 L184.28,561.48 L183.65,561.39 L183.02,561.29 L182.40,561.19 L181.78,561.08 L181.16,560.97 L180.54,560.85 L180.54,560.85 L179.92,560.97 L179.29,561.09 L178.66,561.21 L178.02,561.31 L177.39,561.41 L176.75,561.51 L176.11,561.60 L175.46,561.68 L174.82,561.76 L174.17,561.83 L173.52,561.90 L172.87,561.96 L172.21,562.02 L171.56,562.07 L170.90,562.11 L170.25,562.15 L169.59,562.18 L168.93,562.20 L168.27,562.22 L167.61,562.24 L166.95,562.25 L166.29,562.25 L165.63,562.24 L164.97,562.23 L164.31,562.22 L163.65,562.20 L162.99,562.17 L162.34,562.13 L161.68,562.09 L161.03,562.05 L160.37,562.00 L159.72,561.94 L159.07,561.88 L158.42,561.81 L157.77,561.73 L157.13,561.65 L156.48,561.57 L155.84,561.48 L155.20,561.38 L154.57,561.27 L153.94,561.16 L153.31,561.05 L152.68,560.93 L152.06,560.80 L151.44,560.67 L150.82,560.53 L150.21,560.39 L149.60,560.24 L148.99,560.09 L148.39,559.93 L147.79,559.76 L147.20,559.59 L146.61,559.42 L146.03,559.24 L145.45,559.05 L144.88,558.86 L144.31,558.67 L143.75,558.47 L143.19,558.26 L142.64,558.05 L142.09,557.83 L141.55,557.61 L141.02,557.39 L141.02,557.39 L140.59,557.67 L140.16,557.95 L139.72,558.22 L139.27,558.49 L138.81,558.76 L138.35,559.03 L137.88,559.28 L137.40,559.54 L136.92,559.79 L136.43,560.04 L135.94,560.28 L135.43,560.52 L134.93,560.75 L134.41,560.98 L133.89,561.21 L133.37,561.42 L132.84,561.64 L132.30,561.85 L131.76,562.06 L131.21,562.26 L130.66,562.45 L130.10,562.64 L129.54,562.83 L128.97,563.01 L128.40,563.19 L127.83,563.36 L127.24,563.53 L126.66,563.69 L126.07,563.84 L125.48,563.99 L124.88,564.14 L124.28,564.28 L123.68,564.41 L123.07,564.54 L122.46,564.67 L121.85,564.79 L121.23,564.90 L120.61,565.01 L119.99,565.11 L119.36,565.21 L118.74,565.30 L118.11,565.39 L117.47,565.47 L116.84,565.54 L116.20,565.61 L115.57,565.67 L114.93,565.73 L114.29,565.78 L113.65,565.83 L113.00,565.87 L112.36,565.91 L111.72,565.94 L111.07,565.96 L110.42,565.98 L109.78,565.99 L109.13,566.00 L108.48,566.00 L107.84,566.00 L107.19,565.99 L106.55,565.97 L105.90,565.95 L105.25,565.92 L104.61,565.89 L103.97,565.85 L103.33,565.81 L102.68,565.76 L102.04,565.70 L101.41,565.64 L100.77,565.57 L100.14,565.50 L99.50,565.42 L98.87,565.34 L98.24,565.25 L97.62,565.16 L96.99,565.06 L96.37,564.95 L95.76,564.84 L95.14,564.73 L94.53,564.60 L93.92,564.48 L93.31,564.34 L92.71,564.21 L92.11,564.06 L91.52,563.92 L90.93,563.76 L90.34,563.60 L89.76,563.44 L89.18,563.27 L88.61,563.10 L88.04,562.92 L87.47,562.73 L86.91,562.54 L86.36,562.35 L85.81,562.15 L85.27,561.95 L84.73,561.74 L84.19,561.53 L83.66,561.31 L83.14,561.09 L82.63,560.86 L82.12,560.63 L81.61,560.39 L81.11,560.15 L80.62,559.91 L80.13,559.66 L79.66,559.40 L79.18,559.15 L78.72,558.89 L78.26,558.62 L77.81,558.35 L77.36,558.08 L76.92,557.80 L76.49,557.52 L76.07,557.23 L75.65,556.94 L75.24,556.65 L74.84,556.36 L74.45,556.06 L74.07,555.75 L73.69,555.45 L73.32,555.14 L72.96,554.83 L72.60,554.51 L72.26,554.19 L71.92,553.87 L71.59,553.54 L71.27,553.22 L70.96,552.89 L70.66,552.55 L70.37,552.22 L70.08,551.88 L69.80,551.54 L69.54,551.19 L69.28,550.85 L69.03,550.50 L68.79,550.15 L68.55,549.80 L68.33,549.44 L68.12,549.09 L67.91,548.73 L67.72,548.37 L67.53,548.01 L67.36,547.65 L67.19,547.28 L67.03,546.92 L66.88,546.55 L66.75,546.18 L66.62,545.81 L66.50,545.44 L66.39,545.07 L66.29,544.70 L66.20,544.32 L66.12,543.95 L66.05,543.57 L65.99,543.20 L65.93,542.82 L65.89,542.45 L65.86,542.07 L65.84,541.69 L65.83,541.32 L65.82,540.94 L65.83,540.56 L65.85,540.18 L65.87,539.81 L65.91,539.43 L65.96,539.06 L66.01,538.68 L66.01,538.68 L65.49,538.45 L64.97,538.22 L64.46,537.99 L63.96,537.75 L63.46,537.51 L62.97,537.26 L62.49,537.01 L62.01,536.75 L61.54,536.49 L61.07,536.23 L60.61,535.96 L60.16,535.68 L59.72,535.41 L59.28,535.13 L58.85,534.84 L58.43,534.55 L58.02,534.26 L57.61,533.97 L57.21,533.67 L56.82,533.37 L56.44,533.06 L56.07,532.75 L55.70,532.44 L55.34,532.12 L54.99,531.80 L54.65,531.48 L54.31,531.16 L53.99,530.83 L53.67,530.50 L53.36,530.16 L53.07,529.83 L52.77,529.49 L52.49,529.15 L52.22,528.80 L51.96,528.46 L51.70,528.11 L51.46,527.76 L51.22,527.40 L50.99,527.05 L50.78,526.69 L50.57,526.33 L50.37,525.97 L50.18,525.61 L50.00,525.25 L49.83,524.88 L49.66,524.52 L49.51,524.15 L49.37,523.78 L49.24,523.41 L49.11,523.03 L49.00,522.66 L48.90,522.29 L48.80,521.91 L48.72,521.54 L48.64,521.16 L48.58,520.78 L48.53,520.41 L48.48,520.03 L48.45,519.65 L48.42,519.27 L48.40,518.89 L48.40,518.51 L48.40,518.14 L48.42,517.76 L48.44,517.38 L48.47,517.00 L48.52,516.62 L48.57,516.25 L48.63,515.87 L48.71,515.49 L48.79,515.12 L48.88,514.74 L48.99,514.37 L49.10,513.99 L49.22,513.62 L49.35,513.25 L49.49,512.88 L49.64,512.51 L49.80,512.15 L49.97,511.78 L50.15,511.42 L50.34,511.05 L50.54,510.69 L50.75,510.33 L50.96,509.98 L51.19,509.62 L51.42,509.27 L51.67,508.92 L51.92,508.57 L52.18,508.22 L52.45,507.88 L52.73,507.54 L53.02,507.20 L53.32,506.86 L53.63,506.53 L53.94,506.20 L54.27,505.87 L54.60,505.54 L54.94,505.22 L55.29,504.90 L55.65,504.58 L56.01,504.27 L56.39,503.96 L56.77,503.65 L57.16,503.35 L57.56,503.05 L57.96,502.76 L58.37,502.46 L58.79,502.17 L59.22,501.89 L59.66,501.61 L60.10,501.33 L60.55,501.06 L61.01,500.79 L61.47,500.52 L61.94,500.26 L62.42,500.01 L62.90,499.75 L63.39,499.50 L63.89,499.26 L64.39,499.02 L64.90,498.79 L65.42,498.55 L65.94,498.33 L66.46,498.11 L67.00,497.89 L67.54,497.68 L68.08,497.47 L68.63,497.27 L69.18,497.07 L69.74,496.88 L70.31,496.69 L70.87,496.51 L71.45,496.33 L72.03,496.16 L72.61,495.99 L73.20,495.83 L73.79,495.67 L74.38,495.52 L74.98,495.37 L75.59,495.23 L76.19,495.10 L76.80,494.97 L77.41,494.84 L78.03,494.72 L78.65,494.61 L79.27,494.50 L79.90,494.40 L80.53,494.30 L81.16,494.21 L81.79,494.12 L82.42,494.04 L83.06,493.97 L83.70,493.90 L84.34,493.83 L84.98,493.77 L85.62,493.72 L86.27,493.68 L86.91,493.63 L87.56,493.60 L88.21,493.57 L88.86,493.55 L89.50,493.53 L90.15,493.52 L90.80,493.51 Z" fill="#808080" transform="translate(8,8)"/>
<path d="M90.80,493.51 L90.96,493.14 L91.13,492.77 L91.31,492.41 L91.49,492.04 L91.69,491.68 L91.89,491.32 L92.11,490.96 L92.33,490.60 L92.57,490.25 L92.81,489.90 L93.06,489.55 L93.32,489.20 L93.59,488.85 L93.87,488.51 L94.16,488.17 L94.46,487.83 L94.76,487.50 L95.08,487.16 L95.40,486.83 L95.73,486.51 L96.07,486.18 L96.42,485.86 L96.78,485.54 L97.14,485.23 L97.52,484.92 L97.90,484.61 L98.29,484.30 L98.68,484.00 L99.09,483.71 L99.50,483.41 L99.92,483.12 L100.35,482.83 L100.78,482.55 L101.23,482.27 L101.68,482.00 L102.13,481.73 L102.60,481.46 L103.07,481.20 L103.55,480.94 L104.03,480.69 L104.52,480.44 L105.02,480.19 L105.52,479.95 L106.03,479.71 L106.55,479.48 L107.07,479.25 L107.60,479.03 L108.13,478.81 L108.67,478.60 L109.22,478.39 L109.77,478.19 L110.32,477.99 L110.88,477.80 L111.45,477.61 L112.02,477.42 L112.59,477.25 L113.17,477.07 L113.76,476.90 L114.35,476.74 L114.94,476.58 L115.54,476.43 L116.14,476.28 L116.74,476.14 L117.35,476.00 L117.96,475.87 L118.57,475.75 L119.19,475.63 L119.81,475.51 L120.44,475.40 L121.06,475.30 L121.69,475.20 L122.33,475.11 L122.96,475.02 L123.60,474.94 L124.23,474.87 L124.88,474.80 L125.52,474.73 L126.16,474.67 L126.81,474.62 L127.45,474.57 L128.10,474.53 L128.75,474.50 L129.40,474.47 L130.05,474.44 L130.70,474.42 L131.35,474.41 L132.00,474.40 L132.65,474.40 L133.30,474.41 L133.96,474.42 L134.61,474.44 L135.26,474.46 L135.91,474.49 L136.56,474.52 L137.20,474.56 L137.85,474.60 L138.50,474.66 L139.14,474.71 L139.78,474.77 L140.42,474.84 L141.06,474.92 L141.70,475.00 L142.34,475.08 L142.97,475.17 L143.60,475.27 L144.23,475.37 L144.85,475.48 L145.47,475.59 L146.09,475.71 L146.71,475.83 L147.32,475.96 L147.93,476.10 L148.54,476.24 L149.14,476.38 L149.73,476.53 L150.33,476.69 L150.92,476.85 L151.50,477.02 L152.09,477.19 L152.66,477.36 L153.23,477.55 L153.80,477.73 L154.36,477.93 L154.92,478.12 L155.47,478.32 L156.02,478.53 L156.56,478.74 L157.10,478.96 L157.63,479.18 L157.63,479.18 L158.25,479.07 L158.87,478.96 L159.50,478.86 L160.13,478.77 L160.76,478.68 L161.40,478.60 L162.03,478.52 L162.67,478.45 L163.31,478.38 L163.95,478.32 L164.60,478.26 L165.24,478.21 L165.89,478.17 L166.54,478.13 L167.18,478.10 L167.83,478.07 L168.48,478.05 L169.13,478.04 L169.78,478.03 L170.43,478.02 L171.08,478.03 L171.73,478.03 L172.38,478.05 L173.03,478.07 L173.68,478.09 L174.33,478.12 L174.98,478.16 L175.63,478.20 L176.27,478.25 L176.91,478.30 L177.56,478.36 L178.20,478.43 L178.84,478.50 L179.47,478.58 L180.11,478.66 L180.74,478.75 L181.37,478.84 L182.00,478.94 L182.63,479.04 L183.25,479.15 L183.87,479.27 L184.48,479.39 L185.10,479.52 L185.71,479.65 L186.31,479.79 L186.92,479.93 L187.52,480.08 L188.11,480.23 L188.70,480.39 L189.29,480.55 L189.87,480.72 L190.45,480.90 L191.02,481.08 L191.59,481.26 L192.16,481.45 L192.71,481.64 L193.27,481.84 L193.82,482.05 L194.36,482.25 L194.90,482.47 L195.43,482.69 L195.96,482.91 L196.48,483.14 L196.99,483.37 L197.50,483.61 L198.00,483.85 L198.50,484.09 L198.99,484.34 L199.47,484.60 L199.94,484.86 L200.41,485.12 L200.88,485.39 L201.33,485.66 L201.78,485.93 L202.22,486.21 L202.65,486.49 L203.08,486.78 L203.50,487.07 L203.91,487.37 L204.31,487.66 L204.71,487.96 L205.10,488.27 L205.48,488.58 L205.85,488.89 L206.21,489.20 L206.57,489.52 L206.91,489.84 L207.25,490.17 L207.58,490.49 L207.90,490.82 L208.22,491.16 L208.52,491.49 L208.82,491.83 L209.10,492.17 L209.38,492.51 L209.65,492.86 L209.91,493.21 L210.16,493.56 L210.40,493.91 L210.63,494.26 L210.86,494.62 L211.07,494.98 L211.27,495.34 L211.47,495.70 L211.66,496.06 L211.83,496.43 L212.00,496.80 L212.15,497.16 L212.30,497.53 L212.44,497.90 L212.57,498.28 L212.69,498.65 L212.79,499.02 L212.79,499.02 L213.40,499.16 L214.00,499.31 L214.60,499.46 L215.19,499.62 L215.78,499.78 L216.37,499.95 L216.95,500.13 L217.53,500.30 L218.10,500.49 L218.67,500.68 L219.23,500.87 L219.79,501.07 L220.34,501.27 L220.88,501.48 L221.42,501.69 L221.96,501.91 L222.49,502.13 L223.01,502.36 L223.53,502.59 L224.04,502.83 L224.55,503.07 L225.04,503.32 L225.54,503.57 L226.02,503.82 L226.50,504.08 L226.97,504.34 L227.44,504.61 L227.90,504.88 L228.35,505.15 L228.79,505.43 L229.23,505.72 L229.66,506.00 L230.08,506.29 L230.49,506.59 L230.90,506.89 L231.30,507.19 L231.69,507.49 L232.07,507.80 L232.44,508.11 L232.81,508.43 L233.17,508.75 L233.52,509.07 L233.86,509.39 L234.19,509.72 L234.51,510.05 L234.83,510.38 L235.14,510.72 L235.43,511.06 L235.72,511.40 L236.00,511.74 L236.27,512.09 L236.54,512.44 L236.79,512.79 L237.03,513.14 L237.27,513.50 L237.49,513.86 L237.71,514.22 L237.91,514.58 L238.11,514.94 L238.30,515.30 L238.47,515.67 L238.64,516.04 L238.80,516.41 L238.95,516.78 L239.09,517.15 L239.22,517.52 L239.34,517.90 L239.44,518.27 L239.54,518.65 L239.63,519.03 L239.71,519.40 L239.78,519.78 L239.85,520.16 L239.90,520.54 L239.94,520.92 L239.97,521.30 L239.99,521.68 L240.00,522.06 L240.00,522.44 L239.99,522.82 L239.97,523.20 L239.94,523.58 L239.90,523.96 L239.85,524.34 L239.80,524.72 L239.73,525.10 L239.65,525.48 L239.56,525.86 L239.46,526.23 L239.35,526.61 L239.24,526.98 L239.11,527.36 L238.97,527.73 L238.82,528.10 L238.67,528.47 L238.50,528.84 L238.32,529.20 L238.14,529.57 L237.94,529.93 L237.74,530.29 L237.52,530.65 L237.30,531.01 L237.07,531.36 L236.83,531.72 L236.58,532.07 L236.32,532.42 L236.32,532.42 L236.43,532.79 L236.54,533.16 L236.64,533.54 L236.73,533.91 L236.81,534.29 L236.88,534.66 L236.94,535.04 L236.99,535.42 L237.04,535.79 L237.07,536.17 L237.09,536.55 L237.10,536.93 L237.10,537.31 L237.09,537.68 L237.08,538.06 L237.05,538.44 L237.01,538.82 L236.96,539.19 L236.91,539.57 L236.84,539.95 L236.76,540.32 L236.68,540.70 L236.58,541.07 L236.48,541.44 L236.36,541.82 L236.24,542.19 L236.10,542.56 L235.96,542.93 L235.80,543.29 L235.64,543.66 L235.47,544.02 L235.28,544.39 L235.09,544.75 L234.89,545.11 L234.68,545.47 L234.46,545.82 L234.23,546.18 L234.00,546.53 L233.75,546.88 L233.49,547.22 L233.23,547.57 L232.95,547.91 L232.67,548.25 L232.38,548.59 L232.08,548.93 L231.77,549.26 L231.45,549.59 L231.13,549.91 L230.79,550.24 L230.45,550.56 L230.10,550.88 L229.74,551.19 L229.37,551.50 L228.99,551.81 L228.61,552.12 L228.22,552.42 L227.82,552.72 L227.41,553.01 L227.00,553.30 L226.58,553.59 L226.15,553.87 L225.71,554.15 L225.27,554.43 L224.82,554.70 L224.36,554.97 L223.89,555.23 L223.42,555.49 L222.94,555.74 L222.46,556.00 L221.97,556.24 L221.47,556.48 L220.96,556.72 L220.45,556.96 L219.94,557.18 L219.42,557.41 L218.89,557.63 L218.35,557.84 L217.82,558.05 L217.27,558.26 L216.72,558.46 L216.17,558.66 L215.61,558.85 L215.04,559.03 L214.47,559.21 L213.90,559.39 L213.32,559.56 L212.74,559.73 L212.15,559.89 L211.56,560.04 L210.96,560.19 L210.37,560.34 L209.76,560.48 L209.16,560.61 L208.55,560.74 L207.93,560.86 L207.32,560.98 L206.70,561.09 L206.08,561.20 L205.45,561.30 L204.82,561.40 L204.20,561.49 L203.56,561.57 L202.93,561.65 L202.29,561.72 L201.66,561.79 L201.02,561.86 L200.37,561.91 L199.73,561.96 L199.09,562.01 L198.44,562.05 L197.80,562.08 L197.15,562.11 L196.50,562.13 L195.86,562.15 L195.21,562.16 L194.56,562.17 L193.91,562.17 L193.26,562.16 L192.61,562.15 L191.97,562.13 L191.32,562.11 L190.67,562.08 L190.03,562.04 L189.38,562.00 L188.74,561.96 L188.10,561.91 L187.46,561.85 L186.82,561.79 L186.18,561.72 L185.54,561.64 L184.91,561.56 L184.28,561.48 L183.65,561.39 L183.02,561.29 L182.40,561.19 L181.78,561.08 L181.16,560.97 L180.54,560.85 L180.54,560.85 L179.92,560.97 L179.29,561.09 L178.66,561.21 L178.02,561.31 L177.39,561.41 L176.75,561.51 L176.11,561.60 L175.46,561.68 L174.82,561.76 L174.17,561.83 L173.52,561.90 L172.87,561.96 L172.21,562.02 L171.56,562.07 L170.90,562.11 L170.25,562.15 L169.59,562.18 L168.93,562.20 L168.27,562.22 L167.61,562.24 L166.95,562.25 L166.29,562.25 L165.63,562.24 L164.97,562.23 L164.31,562.22 L163.65,562.20 L162.99,562.17 L162.34,562.13 L161.68,562.09 L161.03,562.05 L160.37,562.00 L159.72,561.94 L159.07,561.88 L158.42,561.81 L157.77,561.73 L157.13,561.65 L156.48,561.57 L155.84,561.48 L155.20,561.38 L154.57,561.27 L153.94,561.16 L153.31,561.05 L152.68,560.93 L152.06,560.80 L151.44,560.67 L150.82,560.53 L150.21,560.39 L149.60,560.24 L148.99,560.09 L148.39,559.93 L147.79,559.76 L147.20,559.59 L146.61,559.42 L146.03,559.24 L145.45,559.05 L144.88,558.86 L144.31,558.67 L143.75,558.47 L143.19,558.26 L142.64,558.05 L142.09,557.83 L141.55,557.61 L141.02,557.39 L141.02,557.39 L140.59,557.67 L140.16,557.95 L139.72,558.22 L139.27,558.49 L138.81,558.76 L138.35,559.03 L137.88,559.28 L137.40,559.54 L136.92,559.79 L136.43,560.04 L135.94,560.28 L135.43,560.52 L134.93,560.75 L134.41,560.98 L133.89,561.21 L133.37,561.42 L132.84,561.64 L132.30,561.85 L131.76,562.06 L131.21,562.26 L130.66,562.45 L130.10,562.64 L129.54,562.83 L128.97,563.01 L128.40,563.19 L127.83,563.36 L127.24,563.53 L126.66,563.69 L126.07,563.84 L125.48,563.99 L124.88,564.14 L124.28,564.28 L123.68,564.41 L123.07,564.54 L122.46,564.67 L121.85,564.79 L121.23,564.90 L120.61,565.01 L119.99,565.11 L119.36,565.21 L118.74,565.30 L118.11,565.39 L117.47,565.47 L116.84,565.54 L116.20,565.61 L115.57,565.67 L114.93,565.73 L114.29,565.78 L113.65,565.83 L113.00,565.87 L112.36,565.91 L111.72,565.94 L111.07,565.96 L110.42,565.98 L109.78,565.99 L109.13,566.00 L108.48,566.00 L107.84,566.00 L107.19,565.99 L106.55,565.97 L105.90,565.95 L105.25,565.92 L104.61,565.89 L103.97,565.85 L103.33,565.81 L102.68,565.76 L102.04,565.70 L101.41,565.64 L100.77,565.57 L100.14,565.50 L99.50,565.42 L98.87,565.34 L98.24,565.25 L97.62,565.16 L96.99,565.06 L96.37,564.95 L95.76,564.84 L95.14,564.73 L94.53,564.60 L93.92,564.48 L93.31,564.34 L92.71,564.21 L92.11,564.06 L91.52,563.92 L90.93,563.76 L90.34,563.60 L89.76,563.44 L89.18,563.27 L88.61,563.10 L88.04,562.92 L87.47,562.73 L86.91,562.54 L86.36,562.35 L85.81,562.15 L85.27,561.95 L84.73,561.74 L84.19,561.53 L83.66,561.31 L83.14,561.09 L82.63,560.86 L82.12,560.63 L81.61,560.39 L81.11,560.15 L80.62,559.91 L80.13,559.66 L79.66,559.40 L79.18,559.15 L78.72,558.89 L78.26,558.62 L77.81,558.35 L77.36,558.08 L76.92,557.80 L76.49,557.52 L76.07,557.23 L75.65,556.94 L75.24,556.65 L74.84,556.36 L74.45,556.06 L74.07,555.75 L73.69,555.45 L73.32,555.14 L72.96,554.83 L72.60,554.51 L72.26,554.19 L71.92,553.87 L71.59,553.54 L71.27,553.22 L70.96,552.89 L70.66,552.55 L70.37,552.22 L70.08,551.88 L69.80,551.54 L69.54,551.19 L69.28,550.85 L69.03,550.50 L68.79,550.15 L68.55,549.80 L68.33,549.44 L68.12,549.09 L67.91,548.73 L67.72,548.37 L67.53,548.01 L67.36,547.65 L67.19,547.28 L67.03,546.92 L66.88,546.55 L66.75,546.18 L66.62,545.81 L66.50,545.44 L66.39,545.07 L66.29,544.70 L66.20,544.32 L66.12,543.95 L66.05,543.57 L65.99,543.20 L65.93,542.82 L65.89,542.45 L65.86,542.07 L65.84,541.69 L65.83,541.32 L65.82,540.94 L65.83,540.56 L65.85,540.18 L65.87,539.81 L65.91,539.43 L65.96,539.06 L66.01,538.68 L66.01,538.68 L65.49,538.45 L64.97,538.22 L64.46,537.99 L63.96,537.75 L63.46,537.51 L62.97,537.26 L62.49,537.01 L62.01,536.75 L61.54,536.49 L61.07,536.23 L60.61,535.96 L60.16,535.68 L59.72,535.41 L59.28,535.13 L58.85,534.84 L58.43,534.55 L58.02,534.26 L57.61,533.97 L57.21,533.67 L56.82,533.37 L56.44,533.06 L56.07,532.75 L55.70,532.44 L55.34,532.12 L54.99,531.80 L54.65,531.48 L54.31,531.16 L53.99,530.83 L53.67,530.50 L53.36,530.16 L53.07,529.83 L52.77,529.49 L52.49,529.15 L52.22,528.80 L51.96,528.46 L51.70,528.11 L51.46,527.76 L51.22,527.40 L50.99,527.05 L50.78,526.69 L50.57,526.33 L50.37,525.97 L50.18,525.61 L50.00,525.25 L49.83,524.88 L49.66,524.52 L49.51,524.15 L49.37,523.78 L49.24,523.41 L49.11,523.03 L49.00,522.66 L48.90,522.29 L48.80,521.91 L48.72,521.54 L48.64,521.16 L48.58,520.78 L48.53,520.41 L48.48,520.03 L48.45,519.65 L48.42,519.27 L48.40,518.89 L48.40,518.51 L48.40,518.14 L48.42,517.76 L48.44,517.38 L48.47,517.00 L48.52,516.62 L48.57,516.25 L48.63,515.87 L48.71,515.49 L48.79,515.12 L48.88,514.74 L48.99,514.37 L49.10,513.99 L49.22,513.62 L49.35,513.25 L49.49,512.88 L49.64,512.51 L49.80,512.15 L49.97,511.78 L50.15,511.42 L50.34,511.05 L50.54,510.69 L50.75,510.33 L50.96,509.98 L51.19,509.62 L51.42,509.27 L51.67,508.92 L51.92,508.57 L52.18,508.22 L52.45,507.88 L52.73,507.54 L53.02,507.20 L53.32,506.86 L53.63,506.53 L53.94,506.20 L54.27,505.87 L54.60,505.54 L54.94,505.22 L55.29,504.90 L55.65,504.58 L56.01,504.27 L56.39,503.96 L56.77,503.65 L57.16,503.35 L57.56,503.05 L57.96,502.76 L58.37,502.46 L58.79,502.17 L59.22,501.89 L59.66,501.61 L60.10,501.33 L60.55,501.06 L61.01,500.79 L61.47,500.52 L61.94,500.26 L62.42,500.01 L62.90,499.75 L63.39,499.50 L63.89,499.26 L64.39,499.02 L64.90,498.79 L65.42,498.55 L65.94,498.33 L66.46,498.11 L67.00,497.89 L67.54,497.68 L68.08,497.47 L68.63,497.27 L69.18,497.07 L69.74,496.88 L70.31,496.69 L70.87,496.51 L71.45,496.33 L72.03,496.16 L72.61,495.99 L73.20,495.83 L73.79,495.67 L74.38,495.52 L74.98,495.37 L75.59,495.23 L76.19,495.10 L76.80,494.97 L77.41,494.84 L78.03,494.72 L78.65,494.61 L79.27,494.50 L79.90,494.40 L80.53,494.30 L81.16,494.21 L81.79,494.12 L82.42,494.04 L83.06,493.97 L83.70,493.90 L84.34,493.83 L84.98,493.77 L85.62,493.72 L86.27,493.68 L86.91,493.63 L87.56,493.60 L88.21,493.57 L88.86,493.55 L89.50,493.53 L90.15,493.52 L90.80,493.51 Z" fill="#A8E08C"/>
<path d="M143.13,558.24 L143.02,558.19 L142.90,558.15 L142.78,558.10 L142.66,558.06 L142.54,558.01 L142.43,557.96 L142.31,557.92 L142.19,557.87 L142.07,557.82 L141.96,557.78 L141.84,557.73 L141.73,557.68 L141.61,557.63 L141.50,557.59 L141.38,557.54 L141.27,557.49 L141.15,557.44 L141.04,557.39 L140.92,557.34 L140.81,557.29 L140.70,557.24 L140.58,557.20 L140.47,557.15 L140.36,557.10 L140.25,557.04 L140.13,556.99 L140.02,556.94 L139.91,556.89 L139.80,556.84 L139.69,556.79 L139.58,556.74 L139.47,556.69 L139.36,556.63 L139.25,556.58 L139.14,556.53 L139.03,556.48 L138.92,556.42 L138.81,556.37 L138.70,556.32 L138.60,556.26 L138.49,556.21 L138.38,556.16 L138.28,556.10 L138.17,556.05 L138.06,555.99 L137.96,555.94 L137.85,555.88 L137.75,555.83 L137.64,555.77 L137.54,555.72 L137.43,555.66 L137.33,555.61 L137.22,555.55 L137.12,555.49 L137.02,555.44 L136.91,555.38 L136.81,555.32 L136.71,555.27 L136.61,555.21 L136.51,555.15 L136.40,555.09 L136.30,555.04 L136.20,554.98 L136.10,554.92 L136.00,554.86 L135.90,554.80 L135.80,554.74 L135.71,554.68 L135.61,554.62 L135.51,554.56 L135.41,554.51 L135.31,554.45 L135.22,554.39 L135.12,554.33 L135.02,554.26 L134.93,554.20 L134.83,554.14 L134.74,554.08 L134.64,554.02 L134.64,554.02 L134.72,554.12 L134.80,554.22 L134.88,554.32 L134.96,554.42 L135.04,554.51 L135.12,554.61 L135.20,554.71 L135.28,554.81 L135.36,554.91 L135.44,555.00 L135.53,555.10 L135.61,555.20 L135.69,555.30 L135.78,555.40 L135.86,555.49 L135.95,555.59 L136.04,555.69 L136.12,555.79 L136.21,555.88 L136.30,555.98 L136.39,556.08 L136.47,556.17 L136.56,556.27 L136.65,556.37 L136.74,556.46 L136.83,556.56 L136.92,556.65 L137.02,556.75 L137.11,556.85 L137.20,556.94 L137.29,557.04 L137.39,557.13 L137.48,557.23 L137.57,557.32 L137.67,557.42 L137.76,557.51 L137.86,557.61 L137.96,557.70 L138.05,557.80 L138.15,557.89 L138.25,557.99 L138.35,558.08 L138.44,558.18 L138.54,558.27 L138.64,558.36 L138.74,558.46 L138.84,558.55 L138.94,558.64 L139.04,558.74 L139.15,558.83 L139.25,558.92 L139.35,559.01 L139.45,559.11 L139.56,559.20 L139.66,559.29 L139.76,559.38 L139.87,559.48 L139.97,559.57 L140.08,559.66 L140.18,559.75 L140.29,559.84 L140.40,559.93 L140.50,560.02 L140.61,560.11 L140.72,560.20 L140.83,560.29 L140.94,560.38 L141.04,560.47 L141.15,560.56 L141.26,560.65 L141.37,560.74 L141.48,560.83 L141.60,560.92 L141.71,561.01 L141.82,561.10 L141.93,561.19 L142.04,561.27 L142.16,561.36 L142.27,561.45 Z" fill="#808080"/>
<path d="M183.00,561.29 L182.69,561.24 L182.38,561.19 L182.07,561.13 L181.76,561.08 L181.45,561.02 L181.15,560.97 L180.84,560.91 L180.53,560.85 L180.23,560.79 L179.93,560.73 L179.62,560.66 L179.32,560.60 L179.02,560.53 L178.72,560.46 L178.42,560.39 L178.12,560.32 L177.82,560.25 L177.53,560.18 L177.23,560.11 L176.94,560.03 L176.64,559.95 L176.35,559.88 L176.06,559.80 L175.77,559.72 L175.48,559.63 L175.19,559.55 L174.90,559.47 L174.61,559.38 L174.33,559.29 L174.04,559.21 L173.76,559.12 L173.48,559.03 L173.20,558.93 L172.92,558.84 L172.64,558.75 L172.36,558.65 L172.08,558.56 L171.81,558.46 L171.53,558.36 L171.26,558.26 L170.99,558.16 L170.72,558.05 L170.45,557.95 L170.19,557.85 L169.92,557.74 L169.66,557.63 L169.39,557.52 L169.13,557.41 L168.87,557.30 L168.61,557.19 L168.36,557.08 L168.10,556.96 L167.85,556.85 L167.59,556.73 L167.34,556.61 L167.09,556.50 L166.84,556.38 L166.60,556.26 L166.35,556.13 L166.11,556.01 L165.87,555.89 L165.63,555.76 L165.39,555.64 L165.15,555.51 L164.92,555.38 L164.68,555.25 L164.45,555.12 L164.22,554.99 L163.99,554.86 L163.76,554.72 L163.54,554.59 L163.32,554.45 L163.09,554.32 L162.87,554.18 L162.66,554.04 L162.44,553.90 L162.22,553.76 L162.01,553.62 L161.80,553.48 L161.80,553.48 L161.99,553.68 L162.17,553.87 L162.36,554.07 L162.56,554.26 L162.75,554.45 L162.95,554.65 L163.15,554.84 L163.35,555.03 L163.56,555.22 L163.76,555.41 L163.97,555.60 L164.18,555.79 L164.39,555.98 L164.61,556.16 L164.83,556.35 L165.05,556.53 L165.27,556.72 L165.49,556.90 L165.72,557.09 L165.95,557.27 L166.18,557.45 L166.41,557.63 L166.64,557.81 L166.88,557.99 L167.12,558.17 L167.36,558.34 L167.60,558.52 L167.85,558.69 L168.09,558.87 L168.34,559.04 L168.59,559.21 L168.84,559.38 L169.10,559.55 L169.35,559.72 L169.61,559.89 L169.87,560.06 L170.13,560.22 L170.39,560.39 L170.66,560.55 L170.92,560.72 L171.19,560.88 L171.46,561.04 L171.73,561.20 L172.00,561.35 L172.28,561.51 L172.55,561.67 L172.83,561.82 L173.11,561.98 L173.39,562.13 L173.67,562.28 L173.96,562.43 L174.24,562.58 L174.53,562.73 L174.82,562.87 L175.11,563.02 L175.40,563.16 L175.69,563.30 L175.99,563.44 L176.28,563.58 L176.58,563.72 L176.88,563.86 L177.18,564.00 L177.48,564.13 L177.78,564.27 L178.08,564.40 L178.39,564.53 L178.69,564.66 L179.00,564.79 L179.31,564.92 L179.62,565.04 L179.93,565.17 L180.24,565.29 L180.55,565.41 L180.87,565.53 L181.18,565.65 L181.50,565.77 L181.81,565.89 L182.13,566.00 L182.45,566.11 Z" fill="#808080"/>
<path d="M236.73,533.90 L236.71,533.83 L236.70,533.77 L236.68,533.71 L236.67,533.64 L236.65,533.58 L236.64,533.51 L236.62,533.45 L236.60,533.39 L236.59,533.32 L236.57,533.26 L236.55,533.20 L236.53,533.13 L236.52,533.07 L236.50,533.01 L236.48,532.94 L236.46,532.88 L236.44,532.82 L236.42,532.75 L236.40,532.69 L236.38,532.63 L236.36,532.56 L236.34,532.50 L236.32,532.44 L236.30,532.37 L236.28,532.31 L236.26,532.25 L236.23,532.18 L236.21,532.12 L236.19,532.06 L236.17,531.99 L236.14,531.93 L236.12,531.87 L236.10,531.80 L236.07,531.74 L236.05,531.68 L236.02,531.62 L236.00,531.55 L235.97,531.49 L235.95,531.43 L235.92,531.36 L235.90,531.30 L235.87,531.24 L235.84,531.18 L235.82,531.11 L235.79,531.05 L235.76,530.99 L235.74,530.93 L235.71,530.86 L235.68,530.80 L235.65,530.74 L235.62,530.68 L235.59,530.62 L235.57,530.55 L235.54,530.49 L235.51,530.43 L235.48,530.37 L235.45,530.31 L235.41,530.24 L235.38,530.18 L235.35,530.12 L235.32,530.06 L235.29,530.00 L235.26,529.93 L235.23,529.87 L235.19,529.81 L235.16,529.75 L235.13,529.69 L235.09,529.63 L235.06,529.57 L235.03,529.50 L234.99,529.44 L234.96,529.38 L234.92,529.32 L234.89,529.26 L234.85,529.20 L234.82,529.14 L234.78,529.08 L234.75,529.02 L234.71,528.95 L234.71,528.95 L234.77,529.00 L234.82,529.04 L234.88,529.09 L234.93,529.13 L234.99,529.18 L235.04,529.22 L235.10,529.27 L235.15,529.32 L235.21,529.36 L235.26,529.41 L235.32,529.46 L235.37,529.50 L235.42,529.55 L235.48,529.60 L235.53,529.65 L235.58,529.70 L235.64,529.74 L235.69,529.79 L235.74,529.84 L235.80,529.89 L235.85,529.94 L235.90,529.99 L235.95,530.04 L236.01,530.09 L236.06,530.14 L236.11,530.19 L236.16,530.24 L236.21,530.29 L236.26,530.35 L236.31,530.40 L236.37,530.45 L236.42,530.50 L236.47,530.56 L236.52,530.61 L236.57,530.66 L236.62,530.72 L236.67,530.77 L236.72,530.82 L236.76,530.88 L236.81,530.93 L236.86,530.99 L236.91,531.04 L236.96,531.10 L237.01,531.16 L237.06,531.21 L237.10,531.27 L237.15,531.33 L237.20,531.38 L237.25,531.44 L237.29,531.50 L237.34,531.56 L237.39,531.61 L237.43,531.67 L237.48,531.73 L237.53,531.79 L237.57,531.85 L237.62,531.91 L237.66,531.97 L237.71,532.03 L237.75,532.09 L237.80,532.15 L237.84,532.22 L237.89,532.28 L237.93,532.34 L237.97,532.40 L238.02,532.47 L238.06,532.53 L238.10,532.59 L238.15,532.66 L238.19,532.72 L238.23,532.78 L238.27,532.85 L238.32,532.91 L238.36,532.98 L238.40,533.05 L238.44,533.11 L238.48,533.18 L238.52,533.24 L238.56,533.31 Z" fill="#808080"/>

<path d="M595.80,495.89 L595.96,495.52 L596.13,495.15 L596.31,494.79 L596.49,494.42 L596.69,494.06 L596.89,493.70 L597.11,493.34 L597.33,492.99 L597.57,492.63 L597.81,492.28 L598.06,491.93 L598.32,491.58 L598.59,491.24 L598.87,490.89 L599.16,490.55 L599.46,490.22 L599.76,489.88 L600.08,489.55 L600.40,489.22 L600.73,488.89 L601.07,488.57 L601.42,488.25 L601.78,487.93 L602.14,487.62 L602.52,487.31 L602.90,487.00 L603.29,486.69 L603.68,486.39 L604.09,486.10 L604.50,485.80 L604.92,485.51 L605.35,485.23 L605.78,484.94 L606.23,484.66 L606.68,484.39 L607.13,484.12 L607.60,483.85 L608.07,483.59 L608.55,483.33 L609.03,483.08 L609.52,482.83 L610.02,482.58 L610.52,482.34 L611.03,482.11 L611.55,481.88 L612.07,481.65 L612.60,481.43 L613.13,481.21 L613.67,481.00 L614.22,480.79 L614.77,480.58 L615.32,480.39 L615.88,480.19 L616.45,480.00 L617.02,479.82 L617.59,479.64 L618.17,479.47 L618.76,479.30 L619.35,479.14 L619.94,478.98 L620.54,478.83 L621.14,478.68 L621.74,478.54 L622.35,478.40 L622.96,478.27 L623.57,478.15 L624.19,478.03 L624.81,477.91 L625.44,477.80 L626.06,477.70 L626.69,477.60 L627.33,477.51 L627.96,477.42 L628.60,477.34 L629.23,477.27 L629.88,477.20 L630.52,477.13 L631.16,477.07 L631.81,477.02 L632.45,476.97 L633.10,476.93 L633.75,476.90 L634.40,476.87 L635.05,476.84 L635.70,476.82 L636.35,476.81 L637.00,476.80 L637.65,476.80 L638.30,476.81 L638.96,476.82 L639.61,476.84 L640.26,476.86 L640.91,476.89 L641.56,476.92 L642.20,476.96 L642.85,477.00 L643.50,477.05 L644.14,477.11 L644.78,477.17 L645.42,477.24 L646.06,477.32 L646.70,477.39 L647.34,477.48 L647.97,477.57 L648.60,477.67 L649.23,477.77 L649.85,477.87 L650.47,477.99 L651.09,478.11 L651.71,478.23 L652.32,478.36 L652.93,478.49 L653.54,478.63 L654.14,478.78 L654.73,478.93 L655.33,479.09 L655.92,479.25 L656.50,479.41 L657.09,479.58 L657.66,479.76 L658.23,479.94 L658.80,480.13 L659.36,480.32 L659.92,480.52 L660.47,480.72 L661.02,480.93 L661.56,481.14 L662.10,481.35 L662.63,481.58 L662.63,481.58 L663.25,481.46 L663.87,481.36 L664.50,481.26 L665.13,481.16 L665.76,481.07 L666.40,480.99 L667.03,480.91 L667.67,480.84 L668.31,480.77 L668.95,480.71 L669.60,480.66 L670.24,480.61 L670.89,480.57 L671.54,480.53 L672.18,480.49 L672.83,480.47 L673.48,480.45 L674.13,480.43 L674.78,480.42 L675.43,480.42 L676.08,480.42 L676.73,480.43 L677.38,480.44 L678.03,480.46 L678.68,480.49 L679.33,480.52 L679.98,480.56 L680.63,480.60 L681.27,480.65 L681.91,480.70 L682.56,480.76 L683.20,480.83 L683.84,480.90 L684.47,480.97 L685.11,481.05 L685.74,481.14 L686.37,481.24 L687.00,481.33 L687.63,481.44 L688.25,481.55 L688.87,481.66 L689.48,481.79 L690.10,481.91 L690.71,482.04 L691.31,482.18 L691.92,482.32 L692.52,482.47 L693.11,482.62 L693.70,482.78 L694.29,482.95 L694.87,483.12 L695.45,483.29 L696.02,483.47 L696.59,483.65 L697.16,483.84 L697.71,484.04 L698.27,484.23 L698.82,484.44 L699.36,484.65 L699.90,484.86 L700.43,485.08 L700.96,485.30 L701.48,485.53 L701.99,485.76 L702.50,486.00 L703.00,486.24 L703.50,486.48 L703.99,486.73 L704.47,486.99 L704.94,487.25 L705.41,487.51 L705.88,487.77 L706.33,488.05 L706.78,488.32 L707.22,488.60 L707.65,488.88 L708.08,489.17 L708.50,489.46 L708.91,489.75 L709.31,490.05 L709.71,490.35 L710.10,490.65 L710.48,490.96 L710.85,491.27 L711.21,491.59 L711.57,491.90 L711.91,492.23 L712.25,492.55 L712.58,492.88 L712.90,493.20 L713.22,493.54 L713.52,493.87 L713.82,494.21 L714.10,494.55 L714.38,494.89 L714.65,495.24 L714.91,495.59 L715.16,495.94 L715.40,496.29 L715.63,496.64 L715.86,497.00 L716.07,497.35 L716.27,497.71 L716.47,498.08 L716.66,498.44 L716.83,498.80 L717.00,499.17 L717.15,499.54 L717.30,499.91 L717.44,500.28 L717.57,500.65 L717.69,501.02 L717.79,501.40 L717.79,501.40 L718.40,501.54 L719.00,501.68 L719.60,501.84 L720.19,501.99 L720.78,502.16 L721.37,502.32 L721.95,502.50 L722.53,502.68 L723.10,502.86 L723.67,503.05 L724.23,503.24 L724.79,503.44 L725.34,503.64 L725.88,503.85 L726.42,504.06 L726.96,504.28 L727.49,504.50 L728.01,504.73 L728.53,504.96 L729.04,505.20 L729.55,505.44 L730.04,505.68 L730.54,505.93 L731.02,506.19 L731.50,506.45 L731.97,506.71 L732.44,506.98 L732.90,507.25 L733.35,507.52 L733.79,507.80 L734.23,508.08 L734.66,508.37 L735.08,508.66 L735.49,508.95 L735.90,509.25 L736.30,509.55 L736.69,509.86 L737.07,510.17 L737.44,510.48 L737.81,510.79 L738.17,511.11 L738.52,511.43 L738.86,511.75 L739.19,512.08 L739.51,512.41 L739.83,512.74 L740.14,513.08 L740.43,513.42 L740.72,513.76 L741.00,514.10 L741.27,514.45 L741.54,514.80 L741.79,515.15 L742.03,515.50 L742.27,515.86 L742.49,516.21 L742.71,516.57 L742.91,516.93 L743.11,517.30 L743.30,517.66 L743.47,518.03 L743.64,518.39 L743.80,518.76 L743.95,519.13 L744.09,519.50 L744.22,519.88 L744.34,520.25 L744.44,520.62 L744.54,521.00 L744.63,521.38 L744.71,521.75 L744.78,522.13 L744.85,522.51 L744.90,522.89 L744.94,523.27 L744.97,523.65 L744.99,524.03 L745.00,524.41 L745.00,524.79 L744.99,525.17 L744.97,525.55 L744.94,525.93 L744.90,526.31 L744.85,526.69 L744.80,527.07 L744.73,527.45 L744.65,527.82 L744.56,528.20 L744.46,528.58 L744.35,528.95 L744.24,529.32 L744.11,529.70 L743.97,530.07 L743.82,530.44 L743.67,530.81 L743.50,531.18 L743.32,531.54 L743.14,531.91 L742.94,532.27 L742.74,532.63 L742.52,532.99 L742.30,533.35 L742.07,533.70 L741.83,534.06 L741.58,534.41 L741.32,534.76 L741.32,534.76 L741.43,535.13 L741.54,535.50 L741.64,535.87 L741.73,536.25 L741.81,536.62 L741.88,537.00 L741.94,537.37 L741.99,537.75 L742.04,538.13 L742.07,538.50 L742.09,538.88 L742.10,539.26 L742.10,539.64 L742.09,540.01 L742.08,540.39 L742.05,540.77 L742.01,541.15 L741.96,541.52 L741.91,541.90 L741.84,542.28 L741.76,542.65 L741.68,543.02 L741.58,543.40 L741.48,543.77 L741.36,544.14 L741.24,544.51 L741.10,544.88 L740.96,545.25 L740.80,545.62 L740.64,545.98 L740.47,546.35 L740.28,546.71 L740.09,547.07 L739.89,547.43 L739.68,547.79 L739.46,548.14 L739.23,548.50 L739.00,548.85 L738.75,549.20 L738.49,549.54 L738.23,549.89 L737.95,550.23 L737.67,550.57 L737.38,550.91 L737.08,551.24 L736.77,551.58 L736.45,551.91 L736.13,552.23 L735.79,552.56 L735.45,552.88 L735.10,553.19 L734.74,553.51 L734.37,553.82 L733.99,554.13 L733.61,554.43 L733.22,554.73 L732.82,555.03 L732.41,555.32 L732.00,555.61 L731.58,555.90 L731.15,556.18 L730.71,556.46 L730.27,556.74 L729.82,557.01 L729.36,557.28 L728.89,557.54 L728.42,557.80 L727.94,558.06 L727.46,558.31 L726.97,558.55 L726.47,558.79 L725.96,559.03 L725.45,559.27 L724.94,559.49 L724.42,559.72 L723.89,559.94 L723.35,560.15 L722.82,560.36 L722.27,560.57 L721.72,560.77 L721.17,560.96 L720.61,561.15 L720.04,561.34 L719.47,561.52 L718.90,561.70 L718.32,561.87 L717.74,562.03 L717.15,562.19 L716.56,562.35 L715.96,562.50 L715.37,562.64 L714.76,562.78 L714.16,562.92 L713.55,563.04 L712.93,563.17 L712.32,563.29 L711.70,563.40 L711.08,563.50 L710.45,563.61 L709.82,563.70 L709.20,563.79 L708.56,563.88 L707.93,563.96 L707.29,564.03 L706.66,564.10 L706.02,564.16 L705.37,564.22 L704.73,564.27 L704.09,564.31 L703.44,564.35 L702.80,564.39 L702.15,564.41 L701.50,564.44 L700.86,564.45 L700.21,564.47 L699.56,564.47 L698.91,564.47 L698.26,564.46 L697.61,564.45 L696.97,564.44 L696.32,564.41 L695.67,564.38 L695.03,564.35 L694.38,564.31 L693.74,564.26 L693.10,564.21 L692.46,564.15 L691.82,564.09 L691.18,564.02 L690.54,563.95 L689.91,563.87 L689.28,563.78 L688.65,563.69 L688.02,563.60 L687.40,563.49 L686.78,563.39 L686.16,563.27 L685.54,563.16 L685.54,563.16 L684.92,563.28 L684.29,563.40 L683.66,563.51 L683.02,563.62 L682.39,563.72 L681.75,563.81 L681.11,563.90 L680.46,563.99 L679.82,564.07 L679.17,564.14 L678.52,564.21 L677.87,564.27 L677.21,564.32 L676.56,564.37 L675.90,564.41 L675.25,564.45 L674.59,564.48 L673.93,564.51 L673.27,564.53 L672.61,564.54 L671.95,564.55 L671.29,564.55 L670.63,564.55 L669.97,564.54 L669.31,564.52 L668.65,564.50 L667.99,564.47 L667.34,564.44 L666.68,564.40 L666.03,564.35 L665.37,564.30 L664.72,564.25 L664.07,564.18 L663.42,564.11 L662.77,564.04 L662.13,563.96 L661.48,563.87 L660.84,563.78 L660.20,563.68 L659.57,563.58 L658.94,563.47 L658.31,563.35 L657.68,563.23 L657.06,563.11 L656.44,562.98 L655.82,562.84 L655.21,562.70 L654.60,562.55 L653.99,562.39 L653.39,562.24 L652.79,562.07 L652.20,561.90 L651.61,561.73 L651.03,561.55 L650.45,561.36 L649.88,561.17 L649.31,560.97 L648.75,560.77 L648.19,560.57 L647.64,560.36 L647.09,560.14 L646.55,559.92 L646.02,559.69 L646.02,559.69 L645.59,559.98 L645.16,560.26 L644.72,560.53 L644.27,560.80 L643.81,561.07 L643.35,561.33 L642.88,561.59 L642.40,561.85 L641.92,562.10 L641.43,562.34 L640.94,562.59 L640.43,562.82 L639.93,563.06 L639.41,563.29 L638.89,563.51 L638.37,563.73 L637.84,563.94 L637.30,564.16 L636.76,564.36 L636.21,564.56 L635.66,564.76 L635.10,564.95 L634.54,565.13 L633.97,565.32 L633.40,565.49 L632.83,565.66 L632.24,565.83 L631.66,565.99 L631.07,566.15 L630.48,566.30 L629.88,566.44 L629.28,566.58 L628.68,566.72 L628.07,566.85 L627.46,566.97 L626.85,567.09 L626.23,567.20 L625.61,567.31 L624.99,567.41 L624.36,567.51 L623.74,567.60 L623.11,567.69 L622.47,567.77 L621.84,567.84 L621.20,567.91 L620.57,567.97 L619.93,568.03 L619.29,568.08 L618.65,568.13 L618.00,568.17 L617.36,568.21 L616.72,568.24 L616.07,568.26 L615.42,568.28 L614.78,568.29 L614.13,568.30 L613.48,568.30 L612.84,568.30 L612.19,568.29 L611.55,568.27 L610.90,568.25 L610.25,568.22 L609.61,568.19 L608.97,568.15 L608.33,568.11 L607.68,568.06 L607.04,568.00 L606.41,567.94 L605.77,567.88 L605.14,567.80 L604.50,567.73 L603.87,567.64 L603.24,567.55 L602.62,567.46 L601.99,567.36 L601.37,567.25 L600.76,567.14 L600.14,567.03 L599.53,566.91 L598.92,566.78 L598.31,566.65 L597.71,566.51 L597.11,566.37 L596.52,566.22 L595.93,566.06 L595.34,565.91 L594.76,565.74 L594.18,565.57 L593.61,565.40 L593.04,565.22 L592.47,565.04 L591.91,564.85 L591.36,564.65 L590.81,564.46 L590.27,564.25 L589.73,564.04 L589.19,563.83 L588.66,563.61 L588.14,563.39 L587.63,563.17 L587.12,562.93 L586.61,562.70 L586.11,562.46 L585.62,562.21 L585.13,561.97 L584.66,561.71 L584.18,561.46 L583.72,561.19 L583.26,560.93 L582.81,560.66 L582.36,560.39 L581.92,560.11 L581.49,559.83 L581.07,559.54 L580.65,559.25 L580.24,558.96 L579.84,558.67 L579.45,558.37 L579.07,558.07 L578.69,557.76 L578.32,557.45 L577.96,557.14 L577.60,556.82 L577.26,556.50 L576.92,556.18 L576.59,555.86 L576.27,555.53 L575.96,555.20 L575.66,554.87 L575.37,554.53 L575.08,554.19 L574.80,553.85 L574.54,553.51 L574.28,553.16 L574.03,552.82 L573.79,552.47 L573.55,552.12 L573.33,551.76 L573.12,551.41 L572.91,551.05 L572.72,550.69 L572.53,550.33 L572.36,549.97 L572.19,549.60 L572.03,549.24 L571.88,548.87 L571.75,548.50 L571.62,548.13 L571.50,547.76 L571.39,547.39 L571.29,547.02 L571.20,546.65 L571.12,546.27 L571.05,545.90 L570.99,545.52 L570.93,545.15 L570.89,544.77 L570.86,544.40 L570.84,544.02 L570.83,543.64 L570.82,543.27 L570.83,542.89 L570.85,542.51 L570.87,542.14 L570.91,541.76 L570.96,541.38 L571.01,541.01 L571.01,541.01 L570.49,540.78 L569.97,540.55 L569.46,540.32 L568.96,540.08 L568.46,539.84 L567.97,539.59 L567.49,539.34 L567.01,539.08 L566.54,538.82 L566.07,538.56 L565.61,538.29 L565.16,538.02 L564.72,537.74 L564.28,537.46 L563.85,537.18 L563.43,536.89 L563.02,536.60 L562.61,536.30 L562.21,536.00 L561.82,535.70 L561.44,535.40 L561.07,535.09 L560.70,534.77 L560.34,534.46 L559.99,534.14 L559.65,533.82 L559.31,533.49 L558.99,533.17 L558.67,532.84 L558.36,532.50 L558.07,532.17 L557.77,531.83 L557.49,531.49 L557.22,531.14 L556.96,530.80 L556.70,530.45 L556.46,530.10 L556.22,529.75 L555.99,529.39 L555.78,529.04 L555.57,528.68 L555.37,528.32 L555.18,527.96 L555.00,527.59 L554.83,527.23 L554.66,526.86 L554.51,526.49 L554.37,526.12 L554.24,525.75 L554.11,525.38 L554.00,525.01 L553.90,524.64 L553.80,524.26 L553.72,523.89 L553.64,523.51 L553.58,523.13 L553.53,522.76 L553.48,522.38 L553.45,522.00 L553.42,521.62 L553.40,521.25 L553.40,520.87 L553.40,520.49 L553.42,520.11 L553.44,519.73 L553.47,519.35 L553.52,518.98 L553.57,518.60 L553.63,518.22 L553.71,517.85 L553.79,517.47 L553.88,517.10 L553.99,516.72 L554.10,516.35 L554.22,515.98 L554.35,515.61 L554.49,515.24 L554.64,514.87 L554.80,514.50 L554.97,514.14 L555.15,513.78 L555.34,513.41 L555.54,513.05 L555.75,512.69 L555.96,512.34 L556.19,511.98 L556.42,511.63 L556.67,511.28 L556.92,510.93 L557.18,510.59 L557.45,510.24 L557.73,509.90 L558.02,509.56 L558.32,509.23 L558.63,508.89 L558.94,508.56 L559.27,508.23 L559.60,507.91 L559.94,507.59 L560.29,507.27 L560.65,506.95 L561.01,506.64 L561.39,506.33 L561.77,506.02 L562.16,505.72 L562.56,505.42 L562.96,505.12 L563.37,504.83 L563.79,504.54 L564.22,504.26 L564.66,503.98 L565.10,503.70 L565.55,503.43 L566.01,503.16 L566.47,502.89 L566.94,502.63 L567.42,502.38 L567.90,502.12 L568.39,501.88 L568.89,501.63 L569.39,501.39 L569.90,501.16 L570.42,500.93 L570.94,500.70 L571.46,500.48 L572.00,500.26 L572.54,500.05 L573.08,499.85 L573.63,499.64 L574.18,499.45 L574.74,499.25 L575.31,499.07 L575.87,498.88 L576.45,498.71 L577.03,498.54 L577.61,498.37 L578.20,498.21 L578.79,498.05 L579.38,497.90 L579.98,497.75 L580.59,497.61 L581.19,497.48 L581.80,497.35 L582.41,497.22 L583.03,497.10 L583.65,496.99 L584.27,496.88 L584.90,496.78 L585.53,496.68 L586.16,496.59 L586.79,496.50 L587.42,496.42 L588.06,496.35 L588.70,496.28 L589.34,496.21 L589.98,496.15 L590.62,496.10 L591.27,496.05 L591.91,496.01 L592.56,495.98 L593.21,495.95 L593.86,495.92 L594.50,495.91 L595.15,495.89 L595.80,495.89 Z" fill="#808080" transform="translate(8,8)"/>
<path d="M595.80,495.89 L595.96,495.52 L596.13,495.15 L596.31,494.79 L596.49,494.42 L596.69,494.06 L596.89,493.70 L597.11,493.34 L597.33,492.99 L597.57,492.63 L597.81,492.28 L598.06,491.93 L598.32,491.58 L598.59,491.24 L598.87,490.89 L599.16,490.55 L599.46,490.22 L599.76,489.88 L600.08,489.55 L600.40,489.22 L600.73,488.89 L601.07,488.57 L601.42,488.25 L601.78,487.93 L602.14,487.62 L602.52,487.31 L602.90,487.00 L603.29,486.69 L603.68,486.39 L604.09,486.10 L604.50,485.80 L604.92,485.51 L605.35,485.23 L605.78,484.94 L606.23,484.66 L606.68,484.39 L607.13,484.12 L607.60,483.85 L608.07,483.59 L608.55,483.33 L609.03,483.08 L609.52,482.83 L610.02,482.58 L610.52,482.34 L611.03,482.11 L611.55,481.88 L612.07,481.65 L612.60,481.43 L613.13,481.21 L613.67,481.00 L614.22,480.79 L614.77,480.58 L615.32,480.39 L615.88,480.19 L616.45,480.00 L617.02,479.82 L617.59,479.64 L618.17,479.47 L618.76,479.30 L619.35,479.14 L619.94,478.98 L620.54,478.83 L621.14,478.68 L621.74,478.54 L622.35,478.40 L622.96,478.27 L623.57,478.15 L624.19,478.03 L624.81,477.91 L625.44,477.80 L626.06,477.70 L626.69,477.60 L627.33,477.51 L627.96,477.42 L628.60,477.34 L629.23,477.27 L629.88,477.20 L630.52,477.13 L631.16,477.07 L631.81,477.02 L632.45,476.97 L633.10,476.93 L633.75,476.90 L634.40,476.87 L635.05,476.84 L635.70,476.82 L636.35,476.81 L637.00,476.80 L637.65,476.80 L638.30,476.81 L638.96,476.82 L639.61,476.84 L640.26,476.86 L640.91,476.89 L641.56,476.92 L642.20,476.96 L642.85,477.00 L643.50,477.05 L644.14,477.11 L644.78,477.17 L645.42,477.24 L646.06,477.32 L646.70,477.39 L647.34,477.48 L647.97,477.57 L648.60,477.67 L649.23,477.77 L649.85,477.87 L650.47,477.99 L651.09,478.11 L651.71,478.23 L652.32,478.36 L652.93,478.49 L653.54,478.63 L654.14,478.78 L654.73,478.93 L655.33,479.09 L655.92,479.25 L656.50,479.41 L657.09,479.58 L657.66,479.76 L658.23,479.94 L658.80,480.13 L659.36,480.32 L659.92,480.52 L660.47,480.72 L661.02,480.93 L661.56,481.14 L662.10,481.35 L662.63,481.58 L662.63,481.58 L663.25,481.46 L663.87,481.36 L664.50,481.26 L665.13,481.16 L665.76,481.07 L666.40,480.99 L667.03,480.91 L667.67,480.84 L668.31,480.77 L668.95,480.71 L669.60,480.66 L670.24,480.61 L670.89,480.57 L671.54,480.53 L672.18,480.49 L672.83,480.47 L673.48,480.45 L674.13,480.43 L674.78,480.42 L675.43,480.42 L676.08,480.42 L676.73,480.43 L677.38,480.44 L678.03,480.46 L678.68,480.49 L679.33,480.52 L679.98,480.56 L680.63,480.60 L681.27,480.65 L681.91,480.70 L682.56,480.76 L683.20,480.83 L683.84,480.90 L684.47,480.97 L685.11,481.05 L685.74,481.14 L686.37,481.24 L687.00,481.33 L687.63,481.44 L688.25,481.55 L688.87,481.66 L689.48,481.79 L690.10,481.91 L690.71,482.04 L691.31,482.18 L691.92,482.32 L692.52,482.47 L693.11,482.62 L693.70,482.78 L694.29,482.95 L694.87,483.12 L695.45,483.29 L696.02,483.47 L696.59,483.65 L697.16,483.84 L697.71,484.04 L698.27,484.23 L698.82,484.44 L699.36,484.65 L699.90,484.86 L700.43,485.08 L700.96,485.30 L701.48,485.53 L701.99,485.76 L702.50,486.00 L703.00,486.24 L703.50,486.48 L703.99,486.73 L704.47,486.99 L704.94,487.25 L705.41,487.51 L705.88,487.77 L706.33,488.05 L706.78,488.32 L707.22,488.60 L707.65,488.88 L708.08,489.17 L708.50,489.46 L708.91,489.75 L709.31,490.05 L709.71,490.35 L710.10,490.65 L710.48,490.96 L710.85,491.27 L711.21,491.59 L711.57,491.90 L711.91,492.23 L712.25,492.55 L712.58,492.88 L712.90,493.20 L713.22,493.54 L713.52,493.87 L713.82,494.21 L714.10,494.55 L714.38,494.89 L714.65,495.24 L714.91,495.59 L715.16,495.94 L715.40,496.29 L715.63,496.64 L715.86,497.00 L716.07,497.35 L716.27,497.71 L716.47,498.08 L716.66,498.44 L716.83,498.80 L717.00,499.17 L717.15,499.54 L717.30,499.91 L717.44,500.28 L717.57,500.65 L717.69,501.02 L717.79,501.40 L717.79,501.40 L718.40,501.54 L719.00,501.68 L719.60,501.84 L720.19,501.99 L720.78,502.16 L721.37,502.32 L721.95,502.50 L722.53,502.68 L723.10,502.86 L723.67,503.05 L724.23,503.24 L724.79,503.44 L725.34,503.64 L725.88,503.85 L726.42,504.06 L726.96,504.28 L727.49,504.50 L728.01,504.73 L728.53,504.96 L729.04,505.20 L729.55,505.44 L730.04,505.68 L730.54,505.93 L731.02,506.19 L731.50,506.45 L731.97,506.71 L732.44,506.98 L732.90,507.25 L733.35,507.52 L733.79,507.80 L734.23,508.08 L734.66,508.37 L735.08,508.66 L735.49,508.95 L735.90,509.25 L736.30,509.55 L736.69,509.86 L737.07,510.17 L737.44,510.48 L737.81,510.79 L738.17,511.11 L738.52,511.43 L738.86,511.75 L739.19,512.08 L739.51,512.41 L739.83,512.74 L740.14,513.08 L740.43,513.42 L740.72,513.76 L741.00,514.10 L741.27,514.45 L741.54,514.80 L741.79,515.15 L742.03,515.50 L742.27,515.86 L742.49,516.21 L742.71,516.57 L742.91,516.93 L743.11,517.30 L743.30,517.66 L743.47,518.03 L743.64,518.39 L743.80,518.76 L743.95,519.13 L744.09,519.50 L744.22,519.88 L744.34,520.25 L744.44,520.62 L744.54,521.00 L744.63,521.38 L744.71,521.75 L744.78,522.13 L744.85,522.51 L744.90,522.89 L744.94,523.27 L744.97,523.65 L744.99,524.03 L745.00,524.41 L745.00,524.79 L744.99,525.17 L744.97,525.55 L744.94,525.93 L744.90,526.31 L744.85,526.69 L744.80,527.07 L744.73,527.45 L744.65,527.82 L744.56,528.20 L744.46,528.58 L744.35,528.95 L744.24,529.32 L744.11,529.70 L743.97,530.07 L743.82,530.44 L743.67,530.81 L743.50,531.18 L743.32,531.54 L743.14,531.91 L742.94,532.27 L742.74,532.63 L742.52,532.99 L742.30,533.35 L742.07,533.70 L741.83,534.06 L741.58,534.41 L741.32,534.76 L741.32,534.76 L741.43,535.13 L741.54,535.50 L741.64,535.87 L741.73,536.25 L741.81,536.62 L741.88,537.00 L741.94,537.37 L741.99,537.75 L742.04,538.13 L742.07,538.50 L742.09,538.88 L742.10,539.26 L742.10,539.64 L742.09,540.01 L742.08,540.39 L742.05,540.77 L742.01,541.15 L741.96,541.52 L741.91,541.90 L741.84,542.28 L741.76,542.65 L741.68,543.02 L741.58,543.40 L741.48,543.77 L741.36,544.14 L741.24,544.51 L741.10,544.88 L740.96,545.25 L740.80,545.62 L740.64,545.98 L740.47,546.35 L740.28,546.71 L740.09,547.07 L739.89,547.43 L739.68,547.79 L739.46,548.14 L739.23,548.50 L739.00,548.85 L738.75,549.20 L738.49,549.54 L738.23,549.89 L737.95,550.23 L737.67,550.57 L737.38,550.91 L737.08,551.24 L736.77,551.58 L736.45,551.91 L736.13,552.23 L735.79,552.56 L735.45,552.88 L735.10,553.19 L734.74,553.51 L734.37,553.82 L733.99,554.13 L733.61,554.43 L733.22,554.73 L732.82,555.03 L732.41,555.32 L732.00,555.61 L731.58,555.90 L731.15,556.18 L730.71,556.46 L730.27,556.74 L729.82,557.01 L729.36,557.28 L728.89,557.54 L728.42,557.80 L727.94,558.06 L727.46,558.31 L726.97,558.55 L726.47,558.79 L725.96,559.03 L725.45,559.27 L724.94,559.49 L724.42,559.72 L723.89,559.94 L723.35,560.15 L722.82,560.36 L722.27,560.57 L721.72,560.77 L721.17,560.96 L720.61,561.15 L720.04,561.34 L719.47,561.52 L718.90,561.70 L718.32,561.87 L717.74,562.03 L717.15,562.19 L716.56,562.35 L715.96,562.50 L715.37,562.64 L714.76,562.78 L714.16,562.92 L713.55,563.04 L712.93,563.17 L712.32,563.29 L711.70,563.40 L711.08,563.50 L710.45,563.61 L709.82,563.70 L709.20,563.79 L708.56,563.88 L707.93,563.96 L707.29,564.03 L706.66,564.10 L706.02,564.16 L705.37,564.22 L704.73,564.27 L704.09,564.31 L703.44,564.35 L702.80,564.39 L702.15,564.41 L701.50,564.44 L700.86,564.45 L700.21,564.47 L699.56,564.47 L698.91,564.47 L698.26,564.46 L697.61,564.45 L696.97,564.44 L696.32,564.41 L695.67,564.38 L695.03,564.35 L694.38,564.31 L693.74,564.26 L693.10,564.21 L692.46,564.15 L691.82,564.09 L691.18,564.02 L690.54,563.95 L689.91,563.87 L689.28,563.78 L688.65,563.69 L688.02,563.60 L687.40,563.49 L686.78,563.39 L686.16,563.27 L685.54,563.16 L685.54,563.16 L684.92,563.28 L684.29,563.40 L683.66,563.51 L683.02,563.62 L682.39,563.72 L681.75,563.81 L681.11,563.90 L680.46,563.99 L679.82,564.07 L679.17,564.14 L678.52,564.21 L677.87,564.27 L677.21,564.32 L676.56,564.37 L675.90,564.41 L675.25,564.45 L674.59,564.48 L673.93,564.51 L673.27,564.53 L672.61,564.54 L671.95,564.55 L671.29,564.55 L670.63,564.55 L669.97,564.54 L669.31,564.52 L668.65,564.50 L667.99,564.47 L667.34,564.44 L666.68,564.40 L666.03,564.35 L665.37,564.30 L664.72,564.25 L664.07,564.18 L663.42,564.11 L662.77,564.04 L662.13,563.96 L661.48,563.87 L660.84,563.78 L660.20,563.68 L659.57,563.58 L658.94,563.47 L658.31,563.35 L657.68,563.23 L657.06,563.11 L656.44,562.98 L655.82,562.84 L655.21,562.70 L654.60,562.55 L653.99,562.39 L653.39,562.24 L652.79,562.07 L652.20,561.90 L651.61,561.73 L651.03,561.55 L650.45,561.36 L649.88,561.17 L649.31,560.97 L648.75,560.77 L648.19,560.57 L647.64,560.36 L647.09,560.14 L646.55,559.92 L646.02,559.69 L646.02,559.69 L645.59,559.98 L645.16,560.26 L644.72,560.53 L644.27,560.80 L643.81,561.07 L643.35,561.33 L642.88,561.59 L642.40,561.85 L641.92,562.10 L641.43,562.34 L640.94,562.59 L640.43,562.82 L639.93,563.06 L639.41,563.29 L638.89,563.51 L638.37,563.73 L637.84,563.94 L637.30,564.16 L636.76,564.36 L636.21,564.56 L635.66,564.76 L635.10,564.95 L634.54,565.13 L633.97,565.32 L633.40,565.49 L632.83,565.66 L632.24,565.83 L631.66,565.99 L631.07,566.15 L630.48,566.30 L629.88,566.44 L629.28,566.58 L628.68,566.72 L628.07,566.85 L627.46,566.97 L626.85,567.09 L626.23,567.20 L625.61,567.31 L624.99,567.41 L624.36,567.51 L623.74,567.60 L623.11,567.69 L622.47,567.77 L621.84,567.84 L621.20,567.91 L620.57,567.97 L619.93,568.03 L619.29,568.08 L618.65,568.13 L618.00,568.17 L617.36,568.21 L616.72,568.24 L616.07,568.26 L615.42,568.28 L614.78,568.29 L614.13,568.30 L613.48,568.30 L612.84,568.30 L612.19,568.29 L611.55,568.27 L610.90,568.25 L610.25,568.22 L609.61,568.19 L608.97,568.15 L608.33,568.11 L607.68,568.06 L607.04,568.00 L606.41,567.94 L605.77,567.88 L605.14,567.80 L604.50,567.73 L603.87,567.64 L603.24,567.55 L602.62,567.46 L601.99,567.36 L601.37,567.25 L600.76,567.14 L600.14,567.03 L599.53,566.91 L598.92,566.78 L598.31,566.65 L597.71,566.51 L597.11,566.37 L596.52,566.22 L595.93,566.06 L595.34,565.91 L594.76,565.74 L594.18,565.57 L593.61,565.40 L593.04,565.22 L592.47,565.04 L591.91,564.85 L591.36,564.65 L590.81,564.46 L590.27,564.25 L589.73,564.04 L589.19,563.83 L588.66,563.61 L588.14,563.39 L587.63,563.17 L587.12,562.93 L586.61,562.70 L586.11,562.46 L585.62,562.21 L585.13,561.97 L584.66,561.71 L584.18,561.46 L583.72,561.19 L583.26,560.93 L582.81,560.66 L582.36,560.39 L581.92,560.11 L581.49,559.83 L581.07,559.54 L580.65,559.25 L580.24,558.96 L579.84,558.67 L579.45,558.37 L579.07,558.07 L578.69,557.76 L578.32,557.45 L577.96,557.14 L577.60,556.82 L577.26,556.50 L576.92,556.18 L576.59,555.86 L576.27,555.53 L575.96,555.20 L575.66,554.87 L575.37,554.53 L575.08,554.19 L574.80,553.85 L574.54,553.51 L574.28,553.16 L574.03,552.82 L573.79,552.47 L573.55,552.12 L573.33,551.76 L573.12,551.41 L572.91,551.05 L572.72,550.69 L572.53,550.33 L572.36,549.97 L572.19,549.60 L572.03,549.24 L571.88,548.87 L571.75,548.50 L571.62,548.13 L571.50,547.76 L571.39,547.39 L571.29,547.02 L571.20,546.65 L571.12,546.27 L571.05,545.90 L570.99,545.52 L570.93,545.15 L570.89,544.77 L570.86,544.40 L570.84,544.02 L570.83,543.64 L570.82,543.27 L570.83,542.89 L570.85,542.51 L570.87,542.14 L570.91,541.76 L570.96,541.38 L571.01,541.01 L571.01,541.01 L570.49,540.78 L569.97,540.55 L569.46,540.32 L568.96,540.08 L568.46,539.84 L567.97,539.59 L567.49,539.34 L567.01,539.08 L566.54,538.82 L566.07,538.56 L565.61,538.29 L565.16,538.02 L564.72,537.74 L564.28,537.46 L563.85,537.18 L563.43,536.89 L563.02,536.60 L562.61,536.30 L562.21,536.00 L561.82,535.70 L561.44,535.40 L561.07,535.09 L560.70,534.77 L560.34,534.46 L559.99,534.14 L559.65,533.82 L559.31,533.49 L558.99,533.17 L558.67,532.84 L558.36,532.50 L558.07,532.17 L557.77,531.83 L557.49,531.49 L557.22,531.14 L556.96,530.80 L556.70,530.45 L556.46,530.10 L556.22,529.75 L555.99,529.39 L555.78,529.04 L555.57,528.68 L555.37,528.32 L555.18,527.96 L555.00,527.59 L554.83,527.23 L554.66,526.86 L554.51,526.49 L554.37,526.12 L554.24,525.75 L554.11,525.38 L554.00,525.01 L553.90,524.64 L553.80,524.26 L553.72,523.89 L553.64,523.51 L553.58,523.13 L553.53,522.76 L553.48,522.38 L553.45,522.00 L553.42,521.62 L553.40,521.25 L553.40,520.87 L553.40,520.49 L553.42,520.11 L553.44,519.73 L553.47,519.35 L553.52,518.98 L553.57,518.60 L553.63,518.22 L553.71,517.85 L553.79,517.47 L553.88,517.10 L553.99,516.72 L554.10,516.35 L554.22,515.98 L554.35,515.61 L554.49,515.24 L554.64,514.87 L554.80,514.50 L554.97,514.14 L555.15,513.78 L555.34,513.41 L555.54,513.05 L555.75,512.69 L555.96,512.34 L556.19,511.98 L556.42,511.63 L556.67,511.28 L556.92,510.93 L557.18,510.59 L557.45,510.24 L557.73,509.90 L558.02,509.56 L558.32,509.23 L558.63,508.89 L558.94,508.56 L559.27,508.23 L559.60,507.91 L559.94,507.59 L560.29,507.27 L560.65,506.95 L561.01,506.64 L561.39,506.33 L561.77,506.02 L562.16,505.72 L562.56,505.42 L562.96,505.12 L563.37,504.83 L563.79,504.54 L564.22,504.26 L564.66,503.98 L565.10,503.70 L565.55,503.43 L566.01,503.16 L566.47,502.89 L566.94,502.63 L567.42,502.38 L567.90,502.12 L568.39,501.88 L568.89,501.63 L569.39,501.39 L569.90,501.16 L570.42,500.93 L570.94,500.70 L571.46,500.48 L572.00,500.26 L572.54,500.05 L573.08,499.85 L573.63,499.64 L574.18,499.45 L574.74,499.25 L575.31,499.07 L575.87,498.88 L576.45,498.71 L577.03,498.54 L577.61,498.37 L578.20,498.21 L578.79,498.05 L579.38,497.90 L579.98,497.75 L580.59,497.61 L581.19,497.48 L581.80,497.35 L582.41,497.22 L583.03,497.10 L583.65,496.99 L584.27,496.88 L584.90,496.78 L585.53,496.68 L586.16,496.59 L586.79,496.50 L587.42,496.42 L588.06,496.35 L588.70,496.28 L589.34,496.21 L589.98,496.15 L590.62,496.10 L591.27,496.05 L591.91,496.01 L592.56,495.98 L593.21,495.95 L593.86,495.92 L594.50,495.91 L595.15,495.89 L595.80,495.89 Z" fill="#FAC4C4"/>
<path d="M648.13,560.55 L648.02,560.50 L647.90,560.46 L647.78,560.41 L647.66,560.36 L647.54,560.32 L647.43,560.27 L647.31,560.23 L647.19,560.18 L647.07,560.13 L646.96,560.09 L646.84,560.04 L646.73,559.99 L646.61,559.94 L646.50,559.90 L646.38,559.85 L646.27,559.80 L646.15,559.75 L646.04,559.70 L645.92,559.65 L645.81,559.60 L645.70,559.55 L645.58,559.50 L645.47,559.45 L645.36,559.40 L645.25,559.35 L645.13,559.30 L645.02,559.25 L644.91,559.20 L644.80,559.15 L644.69,559.10 L644.58,559.05 L644.47,559.00 L644.36,558.94 L644.25,558.89 L644.14,558.84 L644.03,558.79 L643.92,558.73 L643.81,558.68 L643.70,558.63 L643.60,558.57 L643.49,558.52 L643.38,558.47 L643.28,558.41 L643.17,558.36 L643.06,558.30 L642.96,558.25 L642.85,558.19 L642.75,558.14 L642.64,558.08 L642.54,558.03 L642.43,557.97 L642.33,557.92 L642.22,557.86 L642.12,557.80 L642.02,557.75 L641.91,557.69 L641.81,557.63 L641.71,557.58 L641.61,557.52 L641.51,557.46 L641.40,557.41 L641.30,557.35 L641.20,557.29 L641.10,557.23 L641.00,557.17 L640.90,557.11 L640.80,557.06 L640.71,557.00 L640.61,556.94 L640.51,556.88 L640.41,556.82 L640.31,556.76 L640.22,556.70 L640.12,556.64 L640.02,556.58 L639.93,556.52 L639.83,556.46 L639.74,556.40 L639.64,556.33 L639.64,556.33 L639.72,556.43 L639.80,556.53 L639.88,556.63 L639.96,556.73 L640.04,556.83 L640.12,556.92 L640.20,557.02 L640.28,557.12 L640.36,557.22 L640.44,557.32 L640.53,557.41 L640.61,557.51 L640.69,557.61 L640.78,557.71 L640.86,557.80 L640.95,557.90 L641.04,558.00 L641.12,558.10 L641.21,558.19 L641.30,558.29 L641.39,558.39 L641.47,558.48 L641.56,558.58 L641.65,558.68 L641.74,558.77 L641.83,558.87 L641.92,558.97 L642.02,559.06 L642.11,559.16 L642.20,559.25 L642.29,559.35 L642.39,559.44 L642.48,559.54 L642.57,559.63 L642.67,559.73 L642.76,559.82 L642.86,559.92 L642.96,560.01 L643.05,560.11 L643.15,560.20 L643.25,560.30 L643.35,560.39 L643.44,560.48 L643.54,560.58 L643.64,560.67 L643.74,560.77 L643.84,560.86 L643.94,560.95 L644.04,561.04 L644.15,561.14 L644.25,561.23 L644.35,561.32 L644.45,561.41 L644.56,561.51 L644.66,561.60 L644.76,561.69 L644.87,561.78 L644.97,561.87 L645.08,561.97 L645.18,562.06 L645.29,562.15 L645.40,562.24 L645.50,562.33 L645.61,562.42 L645.72,562.51 L645.83,562.60 L645.94,562.69 L646.04,562.78 L646.15,562.87 L646.26,562.96 L646.37,563.05 L646.48,563.14 L646.60,563.23 L646.71,563.31 L646.82,563.40 L646.93,563.49 L647.04,563.58 L647.16,563.67 L647.27,563.75 Z" fill="#808080"/>
<path d="M688.00,563.59 L687.69,563.54 L687.38,563.49 L687.07,563.44 L686.76,563.38 L686.45,563.33 L686.15,563.27 L685.84,563.21 L685.53,563.15 L685.23,563.09 L684.93,563.03 L684.62,562.97 L684.32,562.90 L684.02,562.84 L683.72,562.77 L683.42,562.70 L683.12,562.63 L682.82,562.56 L682.53,562.49 L682.23,562.41 L681.94,562.34 L681.64,562.26 L681.35,562.18 L681.06,562.10 L680.77,562.02 L680.48,561.94 L680.19,561.86 L679.90,561.77 L679.61,561.69 L679.33,561.60 L679.04,561.51 L678.76,561.42 L678.48,561.33 L678.20,561.24 L677.92,561.15 L677.64,561.06 L677.36,560.96 L677.08,560.86 L676.81,560.77 L676.53,560.67 L676.26,560.57 L675.99,560.47 L675.72,560.36 L675.45,560.26 L675.19,560.15 L674.92,560.05 L674.66,559.94 L674.39,559.83 L674.13,559.72 L673.87,559.61 L673.61,559.50 L673.36,559.39 L673.10,559.27 L672.85,559.16 L672.59,559.04 L672.34,558.92 L672.09,558.81 L671.84,558.69 L671.60,558.57 L671.35,558.44 L671.11,558.32 L670.87,558.20 L670.63,558.07 L670.39,557.95 L670.15,557.82 L669.92,557.69 L669.68,557.56 L669.45,557.43 L669.22,557.30 L668.99,557.17 L668.76,557.04 L668.54,556.90 L668.32,556.77 L668.09,556.63 L667.87,556.49 L667.66,556.36 L667.44,556.22 L667.22,556.08 L667.01,555.94 L666.80,555.79 L666.80,555.79 L666.99,555.99 L667.17,556.18 L667.36,556.38 L667.56,556.57 L667.75,556.77 L667.95,556.96 L668.15,557.15 L668.35,557.34 L668.56,557.53 L668.76,557.72 L668.97,557.91 L669.18,558.10 L669.39,558.29 L669.61,558.47 L669.83,558.66 L670.05,558.85 L670.27,559.03 L670.49,559.21 L670.72,559.40 L670.95,559.58 L671.18,559.76 L671.41,559.94 L671.64,560.12 L671.88,560.30 L672.12,560.48 L672.36,560.65 L672.60,560.83 L672.85,561.00 L673.09,561.18 L673.34,561.35 L673.59,561.52 L673.84,561.69 L674.10,561.86 L674.35,562.03 L674.61,562.20 L674.87,562.36 L675.13,562.53 L675.39,562.70 L675.66,562.86 L675.92,563.02 L676.19,563.18 L676.46,563.34 L676.73,563.50 L677.00,563.66 L677.28,563.82 L677.55,563.97 L677.83,564.13 L678.11,564.28 L678.39,564.43 L678.67,564.58 L678.96,564.73 L679.24,564.88 L679.53,565.03 L679.82,565.17 L680.11,565.32 L680.40,565.46 L680.69,565.61 L680.99,565.75 L681.28,565.89 L681.58,566.03 L681.88,566.16 L682.18,566.30 L682.48,566.43 L682.78,566.57 L683.08,566.70 L683.39,566.83 L683.69,566.96 L684.00,567.09 L684.31,567.22 L684.62,567.34 L684.93,567.47 L685.24,567.59 L685.55,567.71 L685.87,567.83 L686.18,567.95 L686.50,568.07 L686.81,568.19 L687.13,568.30 L687.45,568.41 Z" fill="#808080"/>
<path d="M741.73,536.23 L741.71,536.17 L741.70,536.11 L741.68,536.04 L741.67,535.98 L741.65,535.91 L741.64,535.85 L741.62,535.79 L741.60,535.72 L741.59,535.66 L741.57,535.60 L741.55,535.53 L741.53,535.47 L741.52,535.41 L741.50,535.34 L741.48,535.28 L741.46,535.21 L741.44,535.15 L741.42,535.09 L741.40,535.02 L741.38,534.96 L741.36,534.90 L741.34,534.83 L741.32,534.77 L741.30,534.71 L741.28,534.65 L741.26,534.58 L741.23,534.52 L741.21,534.46 L741.19,534.39 L741.17,534.33 L741.14,534.27 L741.12,534.20 L741.10,534.14 L741.07,534.08 L741.05,534.02 L741.02,533.95 L741.00,533.89 L740.97,533.83 L740.95,533.77 L740.92,533.70 L740.90,533.64 L740.87,533.58 L740.84,533.51 L740.82,533.45 L740.79,533.39 L740.76,533.33 L740.74,533.27 L740.71,533.20 L740.68,533.14 L740.65,533.08 L740.62,533.02 L740.59,532.95 L740.57,532.89 L740.54,532.83 L740.51,532.77 L740.48,532.71 L740.45,532.64 L740.41,532.58 L740.38,532.52 L740.35,532.46 L740.32,532.40 L740.29,532.34 L740.26,532.27 L740.23,532.21 L740.19,532.15 L740.16,532.09 L740.13,532.03 L740.09,531.97 L740.06,531.91 L740.03,531.84 L739.99,531.78 L739.96,531.72 L739.92,531.66 L739.89,531.60 L739.85,531.54 L739.82,531.48 L739.78,531.42 L739.75,531.36 L739.71,531.29 L739.71,531.29 L739.77,531.34 L739.82,531.38 L739.88,531.43 L739.93,531.47 L739.99,531.52 L740.04,531.57 L740.10,531.61 L740.15,531.66 L740.21,531.70 L740.26,531.75 L740.32,531.80 L740.37,531.84 L740.42,531.89 L740.48,531.94 L740.53,531.99 L740.58,532.04 L740.64,532.08 L740.69,532.13 L740.74,532.18 L740.80,532.23 L740.85,532.28 L740.90,532.33 L740.95,532.38 L741.01,532.43 L741.06,532.48 L741.11,532.53 L741.16,532.58 L741.21,532.63 L741.26,532.69 L741.31,532.74 L741.37,532.79 L741.42,532.84 L741.47,532.89 L741.52,532.95 L741.57,533.00 L741.62,533.05 L741.67,533.11 L741.72,533.16 L741.76,533.22 L741.81,533.27 L741.86,533.33 L741.91,533.38 L741.96,533.44 L742.01,533.49 L742.06,533.55 L742.10,533.61 L742.15,533.66 L742.20,533.72 L742.25,533.78 L742.29,533.84 L742.34,533.89 L742.39,533.95 L742.43,534.01 L742.48,534.07 L742.53,534.13 L742.57,534.19 L742.62,534.25 L742.66,534.31 L742.71,534.37 L742.75,534.43 L742.80,534.49 L742.84,534.55 L742.89,534.61 L742.93,534.68 L742.97,534.74 L743.02,534.80 L743.06,534.86 L743.10,534.93 L743.15,534.99 L743.19,535.06 L743.23,535.12 L743.27,535.19 L743.32,535.25 L743.36,535.32 L743.40,535.38 L743.44,535.45 L743.48,535.51 L743.52,535.58 L743.56,535.65 Z" fill="#808080"/>

<path d="M388.50,185.25 v11.40 A28.85,13.05 0 0 0 446.20,196.65 v-11.40 Z" fill="url(#rg)" stroke="#000" stroke-width="1"/>
<ellipse cx="417.35" cy="185.25" rx="28.85" ry="13.05" fill="#4B4BC8" stroke="#000" stroke-width="1"/>
<rect x="391.25" y="182.25" width="20.9" height="4.7" fill="#fff"/>
<rect x="422.35" y="182.25" width="20.7" height="4.7" fill="#fff"/>
<rect x="414.25" y="173.15" width="6" height="6.8" fill="#fff"/>
<rect x="414.25" y="190.15" width="6" height="6.3" fill="#fff"/>
<path d="M202.55,351.60 v11.40 A28.85,13.05 0 0 0 260.25,363.00 v-11.40 Z" fill="url(#rg)" stroke="#000" stroke-width="1"/>
<ellipse cx="231.40" cy="351.60" rx="28.85" ry="13.05" fill="#4B4BC8" stroke="#000" stroke-width="1"/>
<rect x="205.30" y="348.60" width="20.9" height="4.7" fill="#fff"/>
<rect x="236.40" y="348.60" width="20.7" height="4.7" fill="#fff"/>
<rect x="228.30" y="339.50" width="6" height="6.8" fill="#fff"/>
<rect x="228.30" y="356.50" width="6" height="6.3" fill="#fff"/>
<path d="M545.60,359.20 v11.40 A28.85,13.05 0 0 0 603.30,370.60 v-11.40 Z" fill="url(#rg)" stroke="#000" stroke-width="1"/>
<ellipse cx="574.45" cy="359.20" rx="28.85" ry="13.05" fill="#4B4BC8" stroke="#000" stroke-width="1"/>
<rect x="548.35" y="356.20" width="20.9" height="4.7" fill="#fff"/>
<rect x="579.45" y="356.20" width="20.7" height="4.7" fill="#fff"/>
<rect x="571.35" y="347.10" width="6" height="6.8" fill="#fff"/>
<rect x="571.35" y="364.10" width="6" height="6.3" fill="#fff"/>
<path d="M395,440 C289.4,440.8 212.1,440.9 207.6,513.9" stroke="#000" stroke-width="1" fill="none" marker-end="url(#ah)"/>
<path d="M398,440 C534.9,445.2 573.2,448 586.6,510.2" stroke="#000" stroke-width="1" fill="none" marker-end="url(#ah)"/>
<g>
<text x="359.00" y="74.00" font-size="16.50" font-weight="normal" fill="#000" textLength="36.00" lengthAdjust="spacingAndGlyphs" stroke="#000" stroke-width="0.40">AS 2</text>
<text x="392.00" y="276.00" font-size="16.50" font-weight="normal" fill="#000" textLength="35.00" lengthAdjust="spacingAndGlyphs" stroke="#000" stroke-width="0.40">AS 1</text>
<text x="111.00" y="525.00" font-size="16.50" font-weight="normal" fill="#000" textLength="36.00" lengthAdjust="spacingAndGlyphs" stroke="#000" stroke-width="0.40">AS 3</text>
<text x="616.00" y="528.00" font-size="16.50" font-weight="normal" fill="#000" textLength="37.00" lengthAdjust="spacingAndGlyphs" stroke="#000" stroke-width="0.40">AS 4</text>
<text x="341.00" y="229.00" font-size="12.00" font-weight="normal" fill="#000" textLength="223.00" lengthAdjust="spacingAndGlyphs">Received Routes marked Community 1:10</text>
<text x="211.00" y="289.00" font-size="12.00" font-weight="normal" fill="#000" textLength="113.03" lengthAdjust="spacingAndGlyphs">Only advertise routes</text>
<text x="211.00" y="303.00" font-size="12.00" font-weight="normal" fill="#000" textLength="130.01" lengthAdjust="spacingAndGlyphs">marked community 1:10</text>
<text x="209.00" y="320.00" font-size="12.00" font-weight="normal" fill="#000" textLength="130.03" lengthAdjust="spacingAndGlyphs">Received routes marked</text>
<text x="209.00" y="334.00" font-size="12.00" font-weight="normal" fill="#000" textLength="88.04" lengthAdjust="spacingAndGlyphs">Community 1:20</text>
<text x="519.00" y="296.00" font-size="12.00" font-weight="normal" fill="#000" textLength="113.03" lengthAdjust="spacingAndGlyphs">Only advertise routes</text>
<text x="519.00" y="310.00" font-size="12.00" font-weight="normal" fill="#000" textLength="130.01" lengthAdjust="spacingAndGlyphs">marked community 1:10</text>
<text x="519.00" y="325.00" font-size="12.00" font-weight="normal" fill="#000" textLength="130.03" lengthAdjust="spacingAndGlyphs">Received routes marked</text>
<text x="519.00" y="339.00" font-size="12.00" font-weight="normal" fill="#000" textLength="88.04" lengthAdjust="spacingAndGlyphs">Community 1:20</text>
<text x="31.00" y="443.00" font-size="16.50" font-weight="normal" fill="#3a3a3a" textLength="95.01" lengthAdjust="spacingAndGlyphs">Peering Point</text>
<text x="668.00" y="432.00" font-size="16.50" font-weight="normal" fill="#3a3a3a" textLength="95.01" lengthAdjust="spacingAndGlyphs">Peering Point</text>
<text x="390.00" y="453.00" font-size="24.00" font-weight="bold" fill="#000" textLength="16.00" lengthAdjust="spacingAndGlyphs" stroke="#000" stroke-width="0.70">X</text>
</g>
</svg>
</body></html>
